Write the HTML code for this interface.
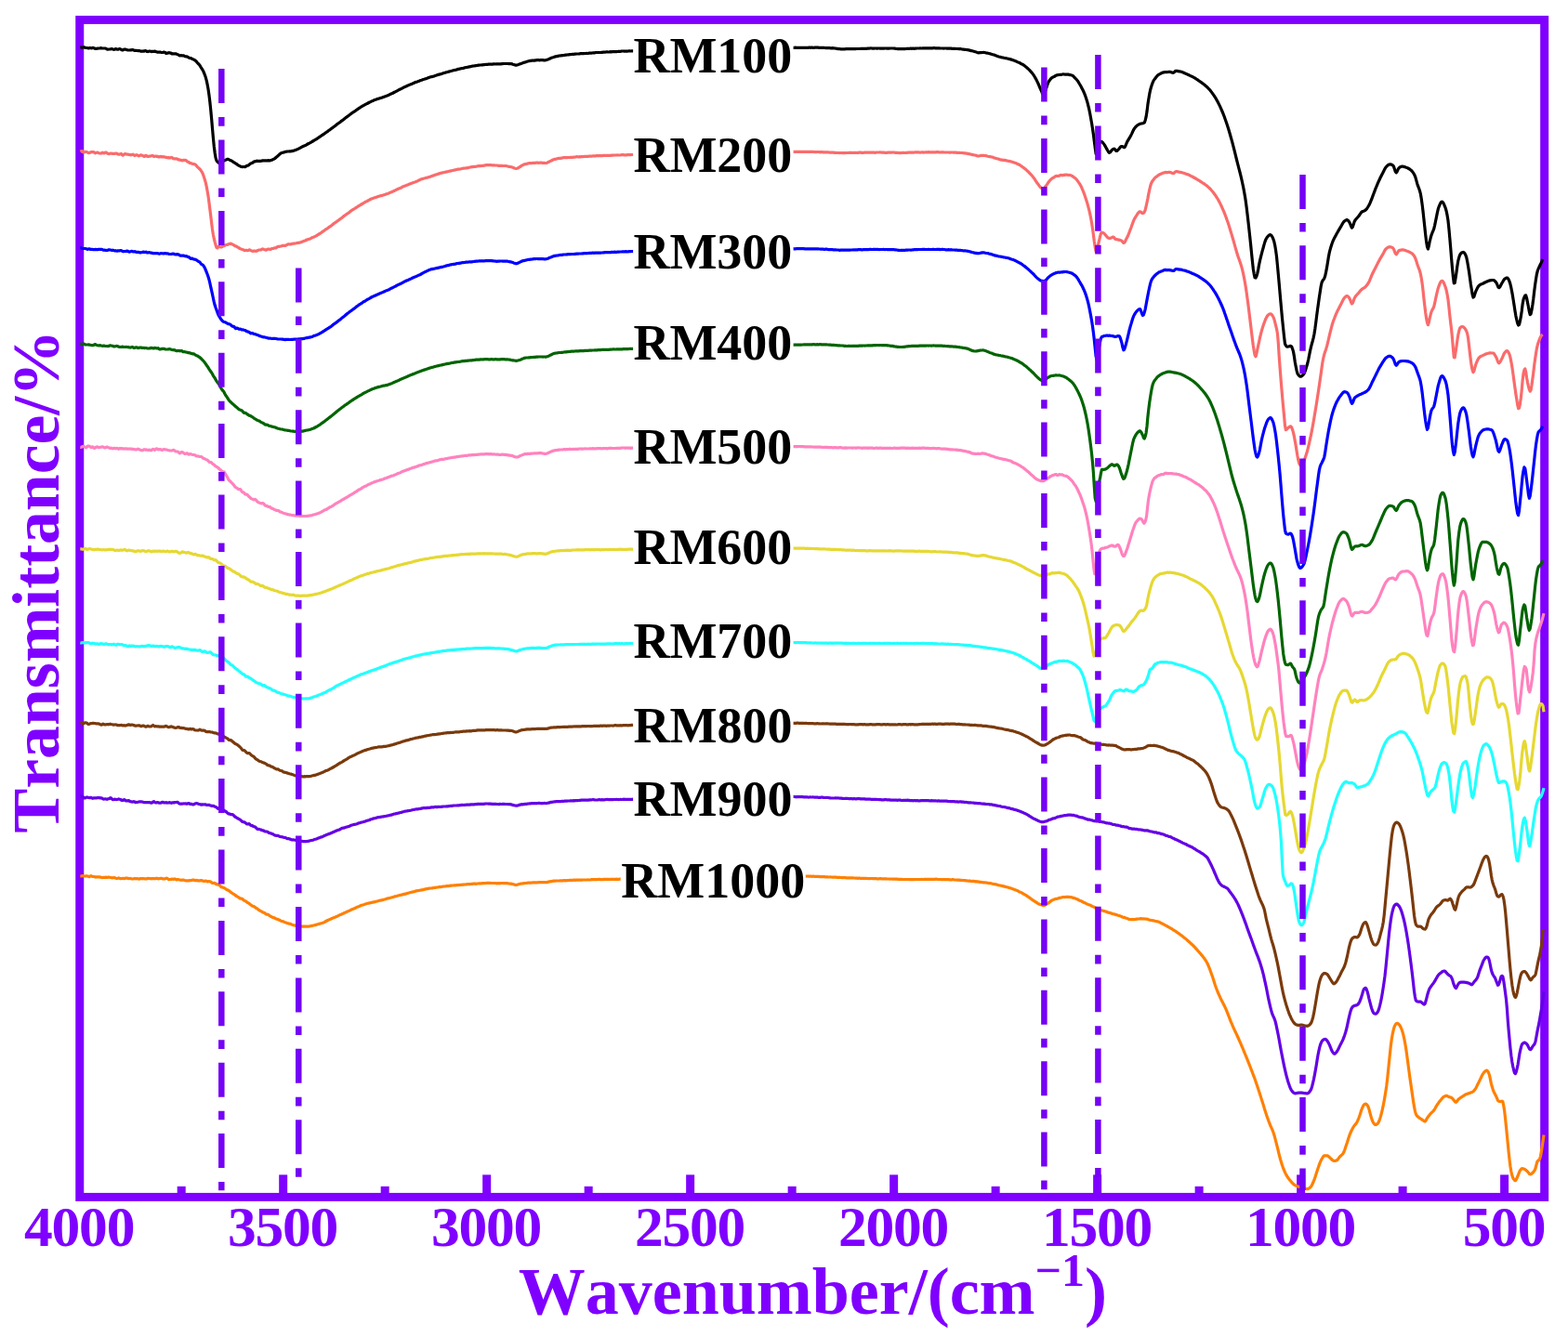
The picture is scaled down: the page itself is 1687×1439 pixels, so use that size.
<!DOCTYPE html>
<html lang="en">
<head>
<meta charset="utf-8">
<title>FTIR spectra of RM100-RM1000</title>
<style>
html,body{margin:0;padding:0;background:#fff;}
body{width:1687px;height:1439px;overflow:hidden;font-family:"Liberation Serif",serif;}
svg text{white-space:pre;font-kerning:none;font-feature-settings:'kern' 0,'liga' 0;}
</style>
</head>
<body>
<svg width="1687" height="1439" viewBox="0 0 1687 1439" style="display:block">
<rect x="0" y="0" width="1687" height="1439" fill="#fff"/>
<rect x="85.75" y="21.4" width="1575.9" height="1267.0" fill="none" stroke="#7F00FF" stroke-width="9.0"/>
<rect x="190.6925" y="1276.9" width="9.0" height="8.0" fill="#7F00FF"/>
<rect x="300.185" y="1264.4" width="9.0" height="20.5" fill="#7F00FF"/>
<rect x="409.6775" y="1276.9" width="9.0" height="8.0" fill="#7F00FF"/>
<rect x="519.1700000000001" y="1264.4" width="9.0" height="20.5" fill="#7F00FF"/>
<rect x="628.6625" y="1276.9" width="9.0" height="8.0" fill="#7F00FF"/>
<rect x="738.1550000000001" y="1264.4" width="9.0" height="20.5" fill="#7F00FF"/>
<rect x="847.6475" y="1276.9" width="9.0" height="8.0" fill="#7F00FF"/>
<rect x="957.1400000000001" y="1264.4" width="9.0" height="20.5" fill="#7F00FF"/>
<rect x="1066.6325" y="1276.9" width="9.0" height="8.0" fill="#7F00FF"/>
<rect x="1176.125" y="1264.4" width="9.0" height="20.5" fill="#7F00FF"/>
<rect x="1285.6175" y="1276.9" width="9.0" height="8.0" fill="#7F00FF"/>
<rect x="1395.1100000000001" y="1264.4" width="9.0" height="20.5" fill="#7F00FF"/>
<rect x="1504.6025000000002" y="1276.9" width="9.0" height="8.0" fill="#7F00FF"/>
<rect x="1614.095" y="1264.4" width="9.0" height="20.5" fill="#7F00FF"/>
<path d="M86.3 51.3L87.2 51.1L88.1 51.1L89.0 51.2L89.9 50.9L90.8 50.9L91.7 51.4L92.6 51.5L93.5 51.5L94.4 51.7L95.3 52.0L96.2 51.7L97.1 51.6L98.0 51.8L98.9 51.8L99.8 51.4L100.7 51.5L101.6 52.1L102.5 52.4L103.4 52.3L104.3 52.3L105.2 52.1L106.1 52.0L107.0 52.0L107.9 51.8L108.8 51.7L109.7 51.9L110.6 52.0L111.5 52.0L112.4 52.0L113.3 52.0L114.2 52.4L115.1 53.0L116.0 53.2L116.9 53.0L117.8 53.0L118.7 52.9L119.6 52.7L120.5 52.6L121.4 53.0L122.3 53.3L123.2 53.2L124.1 52.7L125.0 52.7L125.9 53.1L126.8 53.2L127.7 52.9L128.6 52.5L129.5 52.7L130.4 53.4L131.3 53.9L132.2 53.9L133.1 53.3L134.0 53.1L134.9 53.1L135.8 53.4L136.7 53.7L137.6 53.9L138.5 54.0L139.4 54.0L140.3 53.8L141.2 53.8L142.1 53.7L143.0 53.6L143.9 54.1L144.8 54.4L145.7 54.3L146.6 54.4L147.5 54.5L148.4 54.6L149.3 54.6L150.2 54.7L151.1 55.0L152.0 55.3L152.9 55.1L153.8 55.0L154.7 55.2L155.6 54.8L156.5 54.6L157.4 55.0L158.3 55.5L159.2 55.6L160.1 55.3L161.0 55.0L161.9 55.3L162.8 55.6L163.7 55.4L164.6 55.3L165.5 55.3L166.4 55.2L167.3 55.3L168.2 55.8L169.1 56.1L170.0 56.1L170.9 56.1L171.8 56.1L172.7 56.2L173.6 56.4L174.5 56.5L175.4 56.4L176.3 56.0L177.2 56.2L178.1 57.0L179.0 57.5L179.9 57.2L180.8 56.9L181.7 56.7L182.6 56.8L183.5 57.0L184.4 57.5L185.3 58.0L186.2 57.9L187.1 57.8L188.0 57.8L188.9 57.8L189.8 58.1L190.7 58.5L191.6 58.8L192.5 59.3L193.4 59.8L194.3 59.8L195.2 59.6L196.1 60.0L197.0 59.9L197.9 59.9L198.8 60.6L199.7 60.8L200.6 60.8L201.5 61.1L202.4 61.5L203.3 62.1L204.2 62.5L205.1 62.6L206.0 62.9L206.9 63.5L207.8 63.9L208.7 64.3L209.6 64.7L210.5 65.4L211.4 66.3L212.3 67.5L213.2 68.5L214.1 69.3L215.0 70.4L215.9 72.0L216.8 73.4L217.7 74.8L218.6 76.3L219.5 78.4L220.4 80.8L221.3 83.3L222.2 86.7L223.1 90.9L224.0 95.8L224.9 101.9L225.8 109.3L226.7 117.9L227.6 127.5L228.5 138.1L229.4 148.4L230.3 157.7L231.2 164.8L232.1 170.1L233.0 172.8L233.9 174.1L234.8 174.8L235.7 175.7L236.6 175.7L237.5 175.1L238.4 174.5L239.3 173.8L240.2 173.2L241.1 172.9L242.0 172.5L242.9 172.1L243.8 171.7L244.7 171.3L245.6 171.4L246.5 171.9L247.4 172.3L248.3 172.8L249.2 173.1L250.1 173.6L251.0 174.4L251.9 175.0L252.8 175.4L253.7 176.0L254.6 176.6L255.5 177.3L256.4 177.9L257.3 178.4L258.2 178.8L259.1 179.2L260.0 179.5L260.9 179.6L261.8 179.5L262.7 179.5L263.6 179.7L264.5 179.2L265.4 178.4L266.3 178.2L267.2 177.9L268.1 177.2L269.0 176.4L269.9 175.9L270.8 175.6L271.7 175.3L272.6 174.5L273.5 173.9L274.4 173.8L275.3 173.6L276.2 173.2L277.1 173.3L278.0 173.3L278.9 173.3L279.8 173.3L280.7 173.3L281.6 173.1L282.5 172.9L283.4 172.8L284.3 172.8L285.2 172.9L286.1 172.8L287.0 172.8L287.9 172.8L288.8 172.7L289.7 172.8L290.6 172.8L291.5 172.5L292.4 172.3L293.3 171.8L294.2 171.4L295.1 171.0L296.0 170.4L296.9 169.5L297.8 168.8L298.7 168.1L299.6 167.2L300.5 166.3L301.4 165.5L302.3 164.9L303.2 164.5L304.1 164.3L305.0 164.1L305.9 163.7L306.8 163.4L307.7 163.3L308.6 163.1L309.5 163.0L310.4 163.0L311.3 162.9L312.2 162.9L313.1 162.8L314.0 162.6L314.9 162.4L315.8 162.2L316.7 161.9L317.6 161.6L318.5 161.2L319.4 160.9L320.3 160.5L321.2 160.1L322.1 159.6L323.0 159.1L323.9 158.7L324.8 158.2L325.7 157.7L326.6 157.3L327.5 156.9L328.4 156.6L329.3 156.1L330.2 155.5L331.1 155.0L332.0 154.5L332.9 154.1L333.8 153.6L334.7 153.1L335.6 152.5L336.5 152.0L337.4 151.5L338.3 150.9L339.2 150.4L340.1 149.8L341.0 149.3L341.9 148.7L342.8 148.1L343.7 147.4L344.6 146.8L345.5 146.3L346.4 145.6L347.3 145.0L348.2 144.5L349.1 143.9L350.0 143.1L350.9 142.5L351.8 141.9L352.7 141.3L353.6 140.6L354.5 139.9L355.4 139.3L356.3 138.6L357.2 137.9L358.1 137.3L359.0 136.6L359.9 135.9L360.8 135.3L361.7 134.6L362.6 133.8L363.5 133.1L364.4 132.5L365.3 131.9L366.2 131.2L367.1 130.4L368.0 129.8L368.9 129.2L369.8 128.5L370.7 127.7L371.6 127.0L372.5 126.3L373.4 125.7L374.3 125.0L375.2 124.4L376.1 123.6L377.0 122.9L377.9 122.2L378.8 121.6L379.7 121.0L380.6 120.4L381.5 119.8L382.4 119.3L383.3 118.6L384.2 117.9L385.1 117.3L386.0 116.7L386.9 116.1L387.8 115.5L388.7 114.9L389.6 114.4L390.5 113.8L391.4 113.4L392.3 112.9L393.2 112.4L394.1 111.9L395.0 111.5L395.9 111.0L396.8 110.5L397.7 110.0L398.6 109.6L399.5 109.1L400.4 108.7L401.3 108.4L402.2 107.9L403.1 107.6L404.0 107.3L404.9 107.0L405.9 106.6L406.8 106.3L407.7 106.1L408.6 105.8L409.5 105.5L410.4 105.2L411.3 104.9L412.2 104.6L413.1 104.2L414.0 103.9L414.9 103.6L415.8 103.3L416.7 102.9L417.6 102.6L418.5 102.1L419.4 101.6L420.3 101.2L421.2 100.8L422.1 100.5L423.0 100.0L423.9 99.5L424.8 99.0L425.7 98.6L426.6 98.1L427.5 97.7L428.4 97.2L429.3 96.7L430.2 96.2L431.1 95.8L432.0 95.4L432.9 94.9L433.8 94.4L434.7 93.9L435.6 93.5L436.5 93.1L437.4 92.7L438.3 92.3L439.2 91.9L440.1 91.5L441.0 91.1L441.9 90.7L442.8 90.4L443.7 90.1L444.6 89.6L445.5 89.2L446.4 88.8L447.3 88.4L448.2 88.2L449.1 87.9L450.0 87.5L450.9 87.2L451.8 86.8L452.7 86.5L453.6 86.3L454.5 85.9L455.4 85.5L456.3 85.3L457.2 85.0L458.1 84.7L459.0 84.4L459.9 84.1L460.8 83.7L461.7 83.3L462.6 83.1L463.5 82.8L464.4 82.6L465.3 82.4L466.2 82.2L467.1 81.9L468.0 81.6L468.9 81.3L469.8 80.9L470.7 80.6L471.6 80.4L472.5 80.1L473.4 79.9L474.3 79.7L475.2 79.4L476.1 79.1L477.0 78.8L477.9 78.5L478.8 78.2L479.7 77.9L480.6 77.7L481.5 77.5L482.4 77.2L483.3 77.1L484.2 76.8L485.1 76.5L486.0 76.3L486.9 76.0L487.8 75.7L488.7 75.5L489.6 75.4L490.5 75.2L491.4 74.9L492.3 74.6L493.2 74.4L494.1 74.2L495.0 74.1L495.9 73.8L496.8 73.6L497.7 73.5L498.6 73.4L499.5 73.1L500.4 72.8L501.3 72.6L502.2 72.5L503.1 72.3L504.0 72.1L504.9 71.9L505.8 71.7L506.7 71.6L507.6 71.3L508.5 71.1L509.4 71.0L510.3 70.9L511.2 70.8L512.1 70.6L513.0 70.5L513.9 70.3L514.8 70.2L515.7 70.1L516.6 70.0L517.5 70.0L518.4 69.8L519.3 69.8L520.2 69.7L521.1 69.6L522.0 69.5L522.9 69.4L523.8 69.4L524.7 69.3L525.6 69.2L526.5 69.2L527.4 69.2L528.3 69.2L529.2 69.2L530.1 69.1L531.0 68.9L531.9 68.9L532.8 69.0L533.7 68.9L534.6 68.8L535.5 68.8L536.4 68.8L537.3 68.8L538.2 68.8L539.1 68.8L540.0 68.7L540.9 68.6L541.8 68.5L542.7 68.5L543.6 68.5L544.5 68.5L545.4 68.5L546.3 68.5L547.2 68.6L548.1 68.6L549.0 68.6L549.9 68.7L550.8 68.8L551.7 69.2L552.6 69.5L553.5 69.8L554.4 70.1L555.3 70.2L556.2 70.0L557.1 69.8L558.0 69.4L558.9 69.0L559.8 68.7L560.7 68.4L561.6 68.1L562.5 67.8L563.4 67.4L564.3 67.1L565.2 67.0L566.1 66.6L567.0 66.2L567.9 66.0L568.8 65.8L569.7 65.6L570.6 65.4L571.5 65.3L572.4 65.1L573.3 65.1L574.2 65.1L575.1 65.1L576.0 64.9L576.9 64.8L577.8 64.7L578.7 64.7L579.6 64.7L580.5 64.8L581.4 64.7L582.3 64.6L583.2 64.6L584.1 64.7L585.0 64.8L585.9 64.8L586.8 64.8L587.7 64.6L588.6 64.3L589.5 64.0L590.4 63.6L591.3 63.2L592.2 62.8L593.1 62.4L594.0 62.0L594.9 61.8L595.8 61.5L596.7 61.1L597.6 60.9L598.5 60.7L599.4 60.6L600.3 60.4L601.2 60.1L602.1 60.0L603.0 59.9L603.9 59.8L604.8 59.7L605.7 59.6L606.6 59.5L607.5 59.3L608.4 59.2L609.3 59.1L610.2 59.0L611.1 58.9L612.0 58.8L612.9 58.7L613.8 58.6L614.7 58.5L615.6 58.4L616.5 58.3L617.4 58.3L618.3 58.2L619.2 58.1L620.1 58.0L621.0 58.0L621.9 58.0L622.8 58.0L623.7 57.8L624.6 57.7L625.5 57.7L626.4 57.7L627.3 57.7L628.2 57.6L629.1 57.5L630.0 57.5L630.9 57.4L631.8 57.5L632.7 57.4L633.6 57.2L634.5 57.1L635.4 57.1L636.3 57.1L637.2 57.0L638.1 56.9L639.0 56.9L639.9 56.8L640.8 56.6L641.7 56.5L642.6 56.5L643.5 56.5L644.4 56.5L645.3 56.5L646.2 56.5L647.1 56.4L648.0 56.3L648.9 56.2L649.8 56.2L650.7 56.2L651.6 56.0L652.5 55.9L653.4 55.9L654.3 56.0L655.2 56.0L656.1 55.8L657.0 55.7L657.9 55.8L658.8 55.7L659.7 55.7L660.6 55.6L661.5 55.6L662.4 55.6L663.3 55.6L664.2 55.5L665.1 55.4L666.0 55.4L666.9 55.3L667.8 55.3L668.7 55.1L669.6 55.0L670.5 55.0L671.4 55.1L672.3 55.1L673.2 55.1L674.1 55.1L675.0 55.1L675.9 55.0L676.8 54.9L677.7 54.9L678.6 55.0L679.5 54.9L680.4 54.9L681.3 54.8L682.2 54.8L683.1 54.7L684.0 54.6L684.9 54.6L685.8 54.5L686.7 54.4L687.6 54.4L688.5 54.5L689.4 54.4L690.3 54.4L691.2 54.5L692.1 54.4L693.0 54.4L693.9 54.4L694.8 54.4L695.7 54.3L696.6 54.3L697.5 54.3L698.4 54.3L699.3 54.3L700.2 54.2L701.1 54.2L702.0 54.3L702.9 54.2L703.8 54.1L704.7 54.1L705.6 54.1L706.5 54.0L707.4 54.0L708.3 54.0L709.2 54.0L710.1 53.9L711.0 53.8L711.9 53.8L712.8 53.8L713.7 53.8L714.6 53.8L715.5 53.7L716.4 53.7L717.3 53.7L718.2 53.7L719.1 53.7L720.0 53.7L720.9 53.6L721.8 53.5L722.7 53.6L723.6 53.6L724.5 53.6L725.4 53.4L726.3 53.4L727.2 53.4L728.1 53.4L729.0 53.3L729.9 53.3L730.8 53.3L731.7 53.4L732.6 53.3L733.5 53.2L734.4 53.0L735.3 53.1L736.2 53.2L737.1 53.2L738.0 53.1L738.9 53.1L739.8 53.0L740.7 53.0L741.6 53.0L742.5 53.0L743.4 52.9L744.3 52.9L745.2 52.9L746.1 52.9L747.0 52.8L747.9 52.9L748.8 52.9L749.7 52.8L750.6 52.7L751.5 52.7L752.4 52.7L753.3 52.7L754.2 52.7L755.1 52.6L756.0 52.6L756.9 52.6L757.8 52.5L758.7 52.5L759.6 52.5L760.5 52.5L761.4 52.5L762.3 52.5L763.2 52.4L764.1 52.3L765.0 52.4L765.9 52.4L766.8 52.3L767.7 52.3L768.6 52.3L769.5 52.2L770.4 52.2L771.3 52.3L772.2 52.3L773.1 52.2L774.0 52.1L774.9 52.2L775.8 52.2L776.7 52.1L777.6 52.1L778.5 52.1L779.4 52.2L780.3 52.1L781.2 52.0L782.1 52.0L783.0 52.1L783.9 52.1L784.8 52.1L785.7 52.1L786.6 52.0L787.5 52.0L788.4 52.0L789.3 51.9L790.2 51.8L791.1 51.8L792.0 51.9L792.9 51.9L793.8 51.9L794.7 51.9L795.6 51.8L796.5 51.7L797.4 51.7L798.3 51.8L799.2 51.8L800.1 51.8L801.0 51.8L801.9 51.7L802.8 51.7L803.7 51.7L804.6 51.8L805.5 51.8L806.4 51.8L807.3 51.6L808.2 51.6L809.1 51.6L810.0 51.7L810.9 51.7L811.8 51.7L812.7 51.6L813.6 51.6L814.5 51.5L815.4 51.5L816.3 51.5L817.2 51.5L818.1 51.5L819.0 51.6L819.9 51.6L820.8 51.6L821.7 51.5L822.6 51.4L823.5 51.4L824.4 51.3L825.3 51.3L826.2 51.4L827.1 51.4L828.0 51.3L828.9 51.2L829.8 51.3L830.7 51.4L831.6 51.4L832.5 51.3L833.4 51.3L834.3 51.3L835.2 51.3L836.1 51.3L837.0 51.3L837.9 51.3L838.8 51.4L839.7 51.3L840.6 51.2L841.5 51.2L842.4 51.2L843.3 51.3L844.2 51.3L845.1 51.3L846.0 51.3L846.9 51.3L847.8 51.2L848.7 51.2L849.6 51.3L850.5 51.4L851.4 51.4L852.3 51.4L853.2 51.3L854.1 51.3L855.0 51.3L855.9 51.2L856.8 51.3L857.7 51.4L858.6 51.3L859.5 51.3L860.4 51.3L861.3 51.3L862.2 51.3L863.1 51.4L864.0 51.3L864.9 51.3L865.8 51.3L866.7 51.3L867.6 51.3L868.5 51.3L869.4 51.3L870.3 51.2L871.2 51.2L872.1 51.3L873.0 51.2L873.9 51.2L874.8 51.3L875.7 51.3L876.6 51.2L877.5 51.2L878.4 51.2L879.3 51.1L880.2 51.2L881.1 51.3L882.0 51.3L882.9 51.3L883.8 51.3L884.7 51.3L885.6 51.3L886.5 51.4L887.4 51.5L888.3 51.6L889.2 51.6L890.1 51.6L891.0 51.6L891.9 51.6L892.8 51.7L893.7 51.8L894.6 51.8L895.5 51.7L896.4 51.8L897.3 51.9L898.2 52.0L899.1 52.1L900.0 52.3L900.9 52.4L901.8 52.6L902.7 52.6L903.6 52.7L904.5 52.8L905.4 52.8L906.3 52.8L907.2 52.8L908.1 52.9L909.0 52.8L909.9 52.7L910.8 52.7L911.7 52.7L912.6 52.7L913.5 52.7L914.4 52.7L915.3 52.6L916.2 52.7L917.1 52.7L918.0 52.7L918.9 52.6L919.8 52.6L920.7 52.6L921.6 52.5L922.5 52.5L923.4 52.5L924.3 52.5L925.2 52.5L926.1 52.4L927.0 52.3L927.9 52.3L928.8 52.3L929.7 52.3L930.6 52.3L931.5 52.3L932.4 52.3L933.3 52.2L934.2 52.1L935.1 52.1L936.0 52.0L936.9 51.9L937.8 52.0L938.7 52.1L939.6 52.1L940.5 52.1L941.4 52.0L942.3 52.0L943.2 52.1L944.1 52.1L945.0 52.0L945.9 52.0L946.8 52.1L947.7 52.1L948.6 52.1L949.5 52.1L950.4 52.1L951.3 52.1L952.2 52.0L953.1 52.0L954.0 52.1L954.9 52.1L955.8 52.1L956.7 52.1L957.6 52.0L958.5 52.0L959.4 52.0L960.3 52.0L961.2 52.0L962.1 52.1L963.0 52.2L963.9 52.4L964.8 52.5L965.7 52.6L966.6 52.6L967.5 52.7L968.4 52.7L969.3 52.7L970.2 52.7L971.1 52.7L972.0 52.7L972.9 52.6L973.8 52.6L974.7 52.5L975.6 52.4L976.5 52.4L977.4 52.4L978.3 52.4L979.2 52.2L980.1 52.2L981.0 52.3L981.9 52.2L982.8 52.2L983.7 52.3L984.6 52.2L985.5 52.1L986.4 52.0L987.3 52.0L988.2 52.0L989.1 52.0L990.0 51.9L990.9 52.0L991.8 52.0L992.7 51.9L993.6 51.9L994.5 51.9L995.4 51.9L996.3 51.8L997.2 51.8L998.1 51.8L999.0 51.8L999.9 51.8L1000.8 51.9L1001.7 51.9L1002.6 51.8L1003.5 51.8L1004.4 51.7L1005.3 51.7L1006.2 51.8L1007.1 51.9L1008.0 51.9L1008.9 51.9L1009.8 51.9L1010.7 51.9L1011.6 52.0L1012.5 52.0L1013.4 52.0L1014.3 52.0L1015.2 52.1L1016.1 52.0L1017.0 52.0L1017.9 52.0L1018.8 52.1L1019.7 52.1L1020.6 52.2L1021.5 52.2L1022.4 52.2L1023.3 52.2L1024.2 52.3L1025.1 52.4L1026.0 52.3L1026.9 52.3L1027.8 52.4L1028.7 52.5L1029.6 52.5L1030.5 52.5L1031.4 52.6L1032.3 52.6L1033.2 52.6L1034.1 52.8L1035.0 53.0L1035.9 53.1L1036.8 53.2L1037.7 53.3L1038.6 53.4L1039.5 53.5L1040.4 53.6L1041.3 53.7L1042.2 53.9L1043.1 54.1L1044.0 54.4L1044.9 54.6L1045.8 54.8L1046.7 55.0L1047.6 55.2L1048.5 55.5L1049.4 55.8L1050.3 56.0L1051.2 56.4L1052.1 56.7L1053.0 56.8L1053.9 56.7L1054.8 56.6L1055.7 56.6L1056.6 56.5L1057.5 56.5L1058.4 56.4L1059.3 56.5L1060.2 56.7L1061.1 57.0L1062.0 57.1L1062.9 57.3L1063.8 57.5L1064.7 57.7L1065.6 57.9L1066.6 58.3L1067.5 58.6L1068.4 58.8L1069.3 59.0L1070.2 59.3L1071.1 59.7L1072.0 60.0L1072.9 60.4L1073.8 60.7L1074.7 61.0L1075.6 61.2L1076.5 61.4L1077.4 61.7L1078.3 61.9L1079.2 62.0L1080.1 62.3L1081.0 62.5L1081.9 62.6L1082.8 62.8L1083.7 63.0L1084.6 63.2L1085.5 63.4L1086.4 63.6L1087.3 63.9L1088.2 64.1L1089.1 64.4L1090.0 64.7L1090.9 65.1L1091.8 65.4L1092.7 65.7L1093.6 66.1L1094.5 66.6L1095.4 67.0L1096.3 67.3L1097.2 67.7L1098.1 68.3L1099.0 68.8L1099.9 69.2L1100.8 69.7L1101.7 70.3L1102.6 71.0L1103.5 71.7L1104.4 72.4L1105.3 73.3L1106.2 74.1L1107.1 74.9L1108.0 75.8L1108.9 76.9L1109.8 77.8L1110.7 78.9L1111.6 80.1L1112.5 81.5L1113.4 83.0L1114.3 84.6L1115.2 86.3L1116.1 88.1L1117.0 90.0L1117.9 92.1L1118.8 94.3L1119.7 96.3L1120.6 98.2L1121.5 100.6L1122.4 102.2L1123.3 101.6L1124.2 99.2L1125.1 96.5L1126.0 94.0L1126.9 91.1L1127.8 88.8L1128.7 87.2L1129.6 86.0L1130.5 84.8L1131.4 83.9L1132.3 83.3L1133.2 82.8L1134.1 82.5L1135.0 82.0L1135.9 81.3L1136.8 80.8L1137.7 80.8L1138.6 80.6L1139.5 80.5L1140.4 80.4L1141.3 80.4L1142.2 80.2L1143.1 80.0L1144.0 79.9L1144.9 80.0L1145.8 80.1L1146.7 80.1L1147.6 80.1L1148.5 80.0L1149.4 80.1L1150.3 80.4L1151.2 80.6L1152.1 80.8L1153.0 81.0L1153.9 81.2L1154.8 82.0L1155.7 83.0L1156.6 83.9L1157.5 84.8L1158.4 85.8L1159.3 86.9L1160.2 88.2L1161.1 89.8L1162.0 91.3L1162.9 92.8L1163.8 94.6L1164.7 96.2L1165.6 98.0L1166.5 100.1L1167.4 102.3L1168.3 104.9L1169.2 107.8L1170.1 110.8L1171.0 114.3L1171.9 118.2L1172.8 122.7L1173.7 127.7L1174.6 132.8L1175.5 138.4L1176.4 144.8L1177.3 151.8L1178.2 158.8L1179.1 165.5L1180.0 165.3L1180.9 160.2L1181.8 156.1L1182.7 154.4L1183.6 153.0L1184.5 152.3L1185.4 152.6L1186.3 153.3L1187.2 154.4L1188.1 155.6L1189.0 157.1L1189.9 158.7L1190.8 160.4L1191.7 162.0L1192.6 163.5L1193.5 164.4L1194.4 163.9L1195.3 162.8L1196.2 161.6L1197.1 160.8L1198.0 160.3L1198.9 160.2L1199.8 161.1L1200.7 162.4L1201.6 162.5L1202.5 161.8L1203.4 160.8L1204.3 159.7L1205.2 158.5L1206.1 157.5L1207.0 157.5L1207.9 157.9L1208.8 158.4L1209.7 158.7L1210.6 157.7L1211.5 155.5L1212.4 153.3L1213.3 151.6L1214.2 150.1L1215.1 148.6L1216.0 147.1L1216.9 145.4L1217.8 143.6L1218.7 141.6L1219.6 139.7L1220.5 138.3L1221.4 137.1L1222.3 136.1L1223.2 135.3L1224.1 134.6L1225.0 134.1L1225.9 133.6L1226.8 133.3L1227.7 133.0L1228.6 132.9L1229.5 132.7L1230.4 132.4L1231.3 131.9L1232.2 129.5L1233.1 125.7L1234.0 120.1L1234.9 112.6L1235.8 106.7L1236.7 101.4L1237.6 97.0L1238.5 93.8L1239.4 91.0L1240.3 88.6L1241.2 86.6L1242.1 85.4L1243.0 84.2L1243.9 83.0L1244.8 81.9L1245.7 81.0L1246.6 80.3L1247.5 79.8L1248.4 79.4L1249.3 78.8L1250.2 78.3L1251.1 78.1L1252.0 77.9L1252.9 77.7L1253.8 77.6L1254.7 77.6L1255.6 77.6L1256.5 77.5L1257.4 77.4L1258.3 77.3L1259.2 77.4L1260.1 77.7L1261.0 78.1L1261.9 78.3L1262.8 78.2L1263.7 77.3L1264.6 76.4L1265.5 76.4L1266.4 76.4L1267.3 76.6L1268.2 76.8L1269.1 76.9L1270.0 77.0L1270.9 77.3L1271.8 77.6L1272.7 77.9L1273.6 78.3L1274.5 78.7L1275.4 79.1L1276.3 79.5L1277.2 79.8L1278.1 80.3L1279.0 80.7L1279.9 81.1L1280.8 81.6L1281.7 82.0L1282.6 82.4L1283.5 82.9L1284.4 83.4L1285.3 83.8L1286.2 84.4L1287.1 85.1L1288.0 85.6L1288.9 86.2L1289.8 86.9L1290.7 87.5L1291.6 88.1L1292.5 88.7L1293.4 89.4L1294.3 90.1L1295.2 90.8L1296.1 91.5L1297.0 92.3L1297.9 93.0L1298.8 93.8L1299.7 94.7L1300.6 95.7L1301.5 96.6L1302.4 97.7L1303.3 98.9L1304.2 100.1L1305.1 101.4L1306.0 102.7L1306.9 104.0L1307.8 105.4L1308.7 107.0L1309.6 108.6L1310.5 110.3L1311.4 112.1L1312.3 113.9L1313.2 115.9L1314.1 117.9L1315.0 120.0L1315.9 122.2L1316.8 124.5L1317.7 126.9L1318.6 129.5L1319.5 132.1L1320.4 134.8L1321.3 137.6L1322.2 140.5L1323.1 143.5L1324.0 146.7L1324.9 149.9L1325.8 153.2L1326.7 156.6L1327.6 160.1L1328.5 163.7L1329.4 167.4L1330.3 171.0L1331.2 174.7L1332.1 178.2L1333.0 181.6L1333.9 185.0L1334.8 188.6L1335.7 192.4L1336.6 196.5L1337.5 200.7L1338.4 205.4L1339.3 210.4L1340.2 216.1L1341.1 222.8L1342.0 230.3L1342.9 238.0L1343.8 246.1L1344.7 254.3L1345.6 263.0L1346.5 272.2L1347.4 280.9L1348.3 289.2L1349.2 294.8L1350.1 298.8L1351.0 299.1L1351.9 297.2L1352.8 294.4L1353.7 290.1L1354.6 285.0L1355.5 280.7L1356.4 276.9L1357.3 273.3L1358.2 269.9L1359.1 266.7L1360.0 263.4L1360.9 260.4L1361.8 257.9L1362.7 256.2L1363.6 255.1L1364.5 254.0L1365.4 253.2L1366.3 252.7L1367.2 252.8L1368.1 253.7L1369.0 255.2L1369.9 257.3L1370.8 260.0L1371.7 264.1L1372.6 269.5L1373.5 276.1L1374.4 285.3L1375.3 295.1L1376.2 305.2L1377.1 315.6L1378.0 325.8L1378.9 335.9L1379.8 345.3L1380.7 354.2L1381.6 362.6L1382.5 370.0L1383.4 371.8L1384.3 372.9L1385.2 373.2L1386.1 373.0L1387.0 372.7L1387.9 372.4L1388.8 372.3L1389.7 373.2L1390.6 375.5L1391.5 378.4L1392.4 383.5L1393.3 389.7L1394.2 394.5L1395.1 398.9L1396.0 402.1L1396.9 403.5L1397.8 404.5L1398.7 405.1L1399.6 405.2L1400.5 404.8L1401.4 404.1L1402.3 403.1L1403.2 401.8L1404.1 399.7L1405.0 397.1L1405.9 394.1L1406.8 391.0L1407.7 387.0L1408.6 382.5L1409.5 377.9L1410.4 373.8L1411.3 370.4L1412.2 367.2L1413.1 363.6L1414.0 359.2L1414.9 353.4L1415.8 346.6L1416.7 339.4L1417.6 332.6L1418.5 326.2L1419.4 319.8L1420.3 313.9L1421.2 308.1L1422.1 304.0L1423.0 302.1L1423.9 301.0L1424.8 299.6L1425.7 297.0L1426.6 292.9L1427.5 288.1L1428.4 282.8L1429.3 276.9L1430.2 272.2L1431.1 268.6L1432.0 265.5L1432.9 262.7L1433.8 260.2L1434.7 258.1L1435.6 256.2L1436.5 254.6L1437.4 253.0L1438.3 251.3L1439.2 249.7L1440.1 248.1L1441.0 246.6L1441.9 245.1L1442.8 243.6L1443.7 242.0L1444.6 240.4L1445.5 239.0L1446.4 238.1L1447.3 237.4L1448.2 236.9L1449.1 236.6L1450.0 236.9L1450.9 237.8L1451.8 239.2L1452.7 240.9L1453.6 243.5L1454.5 245.1L1455.4 244.1L1456.3 241.3L1457.2 238.5L1458.1 236.9L1459.0 235.7L1459.9 234.8L1460.8 233.8L1461.7 232.8L1462.6 231.5L1463.5 230.1L1464.4 228.8L1465.3 228.0L1466.2 227.5L1467.1 227.2L1468.0 226.8L1468.9 226.3L1469.8 225.5L1470.7 224.4L1471.6 223.0L1472.5 221.5L1473.4 219.9L1474.3 217.9L1475.2 215.6L1476.1 213.3L1477.0 210.9L1477.9 208.5L1478.8 206.1L1479.7 203.7L1480.6 201.5L1481.5 199.3L1482.4 197.1L1483.3 195.1L1484.2 193.2L1485.1 191.3L1486.0 189.5L1486.9 187.7L1487.8 186.0L1488.7 184.2L1489.6 182.4L1490.5 180.8L1491.4 179.6L1492.3 178.7L1493.2 177.8L1494.1 177.2L1495.0 176.9L1495.9 176.9L1496.8 177.1L1497.7 177.4L1498.6 178.0L1499.5 179.2L1500.4 181.9L1501.3 184.7L1502.2 185.9L1503.1 184.7L1504.0 182.6L1504.9 180.9L1505.8 180.2L1506.7 179.7L1507.6 179.3L1508.5 179.1L1509.4 179.2L1510.3 179.4L1511.2 179.6L1512.1 179.9L1513.0 180.3L1513.9 180.6L1514.8 181.0L1515.7 181.5L1516.6 182.0L1517.5 182.7L1518.4 183.4L1519.3 184.4L1520.2 185.5L1521.1 186.9L1522.0 188.6L1522.9 190.9L1523.8 194.1L1524.7 197.4L1525.6 200.2L1526.5 202.5L1527.4 205.0L1528.3 208.3L1529.2 213.5L1530.1 219.9L1531.0 227.3L1531.9 235.7L1532.8 244.0L1533.7 252.6L1534.6 259.9L1535.5 265.4L1536.4 268.1L1537.3 264.7L1538.2 259.8L1539.1 256.3L1540.0 253.1L1540.9 250.7L1541.8 248.7L1542.7 246.3L1543.6 242.6L1544.5 238.2L1545.4 233.9L1546.3 229.4L1547.2 225.3L1548.1 222.6L1549.0 220.4L1549.9 218.5L1550.8 217.3L1551.7 217.2L1552.6 218.1L1553.5 219.8L1554.4 221.9L1555.3 224.3L1556.2 227.5L1557.1 231.9L1558.0 237.6L1558.9 246.1L1559.8 256.2L1560.7 266.6L1561.6 278.1L1562.5 288.6L1563.4 297.7L1564.3 304.9L1565.2 304.4L1566.1 298.9L1567.0 293.0L1567.9 286.3L1568.8 280.7L1569.7 277.3L1570.6 274.6L1571.5 273.0L1572.4 272.2L1573.3 271.7L1574.2 271.4L1575.1 271.7L1576.0 272.9L1576.9 274.6L1577.8 277.1L1578.7 281.5L1579.6 286.8L1580.5 292.3L1581.4 298.8L1582.3 305.4L1583.2 311.0L1584.1 316.8L1585.0 320.0L1585.9 319.2L1586.8 316.4L1587.7 313.8L1588.6 311.9L1589.5 310.0L1590.4 308.4L1591.3 307.3L1592.2 306.7L1593.1 306.2L1594.0 305.7L1594.9 305.4L1595.8 305.0L1596.7 304.5L1597.6 304.0L1598.5 303.6L1599.4 303.2L1600.3 302.8L1601.2 302.4L1602.1 302.1L1603.0 301.9L1603.9 301.7L1604.8 301.6L1605.7 301.5L1606.6 301.5L1607.5 301.8L1608.4 302.6L1609.3 303.5L1610.2 304.8L1611.1 307.0L1612.0 309.1L1612.9 309.7L1613.8 308.7L1614.7 307.0L1615.6 305.3L1616.5 303.8L1617.4 302.2L1618.3 300.8L1619.2 300.0L1620.1 299.4L1621.0 299.0L1621.9 299.1L1622.8 300.3L1623.7 302.1L1624.6 304.6L1625.5 308.2L1626.4 312.5L1627.3 317.4L1628.2 323.1L1629.1 328.7L1630.0 334.7L1630.9 340.1L1631.8 344.2L1632.7 347.8L1633.6 350.0L1634.5 349.4L1635.4 345.7L1636.3 340.9L1637.2 334.9L1638.1 327.5L1639.0 322.6L1639.9 319.9L1640.8 318.1L1641.7 317.9L1642.6 320.9L1643.5 325.6L1644.4 330.0L1645.3 335.2L1646.2 338.7L1647.1 337.8L1648.0 333.4L1648.9 328.0L1649.8 321.4L1650.7 313.5L1651.6 306.6L1652.5 300.4L1653.4 295.0L1654.3 291.5L1655.2 289.2L1656.1 287.2L1657.0 285.3L1657.9 283.4L1658.8 281.3L1659.7 279.0" fill="none" stroke="#000000" stroke-width="3.2" stroke-linejoin="round" stroke-linecap="butt"/>
<path d="M86.3 163.1L87.2 162.7L88.1 162.4L89.0 163.4L89.9 164.1L90.8 163.6L91.7 163.4L92.6 163.5L93.5 163.6L94.4 164.1L95.3 164.6L96.2 164.5L97.1 164.0L98.0 163.7L98.9 163.7L99.8 163.5L100.7 163.5L101.6 164.2L102.5 164.8L103.4 164.5L104.3 164.2L105.2 164.2L106.1 164.7L107.0 165.0L107.9 165.0L108.8 165.1L109.7 164.4L110.6 164.2L111.5 164.9L112.4 164.8L113.3 164.1L114.2 164.0L115.1 164.8L116.0 165.3L116.9 165.6L117.8 165.5L118.7 165.1L119.6 165.1L120.5 165.3L121.4 165.3L122.3 165.4L123.2 165.4L124.1 165.2L125.0 165.1L125.9 165.3L126.8 165.9L127.7 166.1L128.6 166.2L129.5 165.7L130.4 165.4L131.3 166.6L132.2 167.2L133.1 166.4L134.0 165.8L134.9 165.6L135.8 165.9L136.7 166.2L137.6 166.2L138.5 166.3L139.4 166.6L140.3 166.7L141.2 166.8L142.1 166.5L143.0 166.2L143.9 166.8L144.8 167.5L145.7 167.1L146.6 166.7L147.5 166.9L148.4 167.3L149.3 167.8L150.2 167.6L151.1 166.9L152.0 166.9L152.9 167.2L153.8 167.6L154.7 168.3L155.6 168.3L156.5 167.4L157.4 167.4L158.3 168.3L159.2 168.5L160.1 168.2L161.0 168.1L161.9 168.1L162.8 167.8L163.7 167.4L164.6 167.7L165.5 168.3L166.4 168.3L167.3 168.1L168.2 168.3L169.1 168.2L170.0 168.5L170.9 169.0L171.8 169.0L172.7 168.4L173.6 168.5L174.5 169.0L175.4 168.8L176.3 168.7L177.2 169.0L178.1 169.3L179.0 169.4L179.9 169.6L180.8 169.8L181.7 169.7L182.6 169.8L183.5 169.8L184.4 169.4L185.3 169.8L186.2 170.6L187.1 170.8L188.0 170.8L188.9 170.8L189.8 170.9L190.7 171.1L191.6 171.5L192.5 172.0L193.4 172.1L194.3 172.2L195.2 172.6L196.1 172.8L197.0 172.3L197.9 172.3L198.8 172.5L199.7 172.4L200.6 173.0L201.5 173.9L202.4 174.2L203.3 174.7L204.2 175.5L205.1 175.6L206.0 175.8L206.9 176.3L207.8 176.5L208.7 176.6L209.6 176.8L210.5 177.3L211.4 178.4L212.3 179.6L213.2 180.4L214.1 181.2L215.0 182.0L215.9 183.1L216.8 184.5L217.7 185.9L218.6 188.0L219.5 190.8L220.4 193.5L221.3 196.6L222.2 200.7L223.1 205.6L224.0 210.9L224.9 217.5L225.8 224.7L226.7 232.0L227.6 239.6L228.5 246.9L229.4 252.6L230.3 257.0L231.2 260.6L232.1 263.7L233.0 266.4L233.9 267.0L234.8 265.7L235.7 265.1L236.6 265.6L237.5 266.0L238.4 265.9L239.3 265.3L240.2 264.7L241.1 264.6L242.0 264.2L242.9 263.5L243.8 263.5L244.7 263.4L245.6 262.8L246.5 262.7L247.4 262.4L248.3 262.1L249.2 262.6L250.1 263.1L251.0 263.4L251.9 264.0L252.8 264.7L253.7 264.9L254.6 265.3L255.5 265.9L256.4 266.5L257.3 267.0L258.2 267.5L259.1 267.9L260.0 268.2L260.9 268.5L261.8 268.7L262.7 269.4L263.6 269.6L264.5 269.3L265.4 269.4L266.3 269.7L267.2 269.4L268.1 268.9L269.0 269.1L269.9 269.6L270.8 270.0L271.7 270.4L272.6 270.2L273.5 270.2L274.4 270.2L275.3 270.3L276.2 270.2L277.1 269.6L278.0 269.3L278.9 269.0L279.8 269.0L280.7 269.0L281.6 268.3L282.5 267.8L283.4 268.3L284.3 268.6L285.2 268.8L286.1 269.2L287.0 268.8L287.9 268.2L288.8 268.0L289.7 268.1L290.6 268.5L291.5 268.2L292.4 267.5L293.3 267.5L294.2 267.4L295.1 266.9L296.0 266.9L296.9 266.8L297.8 266.2L298.7 265.6L299.6 265.4L300.5 265.3L301.4 265.1L302.3 265.0L303.2 264.7L304.1 264.3L305.0 264.4L305.9 264.4L306.8 264.4L307.7 264.1L308.6 263.5L309.5 263.1L310.4 262.8L311.3 262.8L312.2 262.9L313.1 262.8L314.0 262.5L314.9 262.2L315.8 262.0L316.7 262.1L317.6 262.0L318.5 261.8L319.4 261.6L320.3 261.3L321.2 261.3L322.1 261.2L323.0 260.9L323.9 260.7L324.8 260.3L325.7 259.9L326.6 259.6L327.5 259.3L328.4 259.0L329.3 258.5L330.2 258.0L331.1 257.7L332.0 257.4L332.9 257.2L333.8 256.9L334.7 256.4L335.6 255.8L336.5 255.5L337.4 255.2L338.3 254.8L339.2 254.4L340.1 253.9L341.0 253.3L341.9 252.7L342.8 252.3L343.7 251.7L344.6 251.1L345.5 250.5L346.4 249.8L347.3 249.2L348.2 248.6L349.1 247.9L350.0 247.2L350.9 246.7L351.8 246.1L352.7 245.5L353.6 244.8L354.5 244.2L355.4 243.7L356.3 243.0L357.2 242.3L358.1 241.5L359.0 240.7L359.9 240.1L360.8 239.5L361.7 238.9L362.6 238.2L363.5 237.6L364.4 236.9L365.3 236.2L366.2 235.6L367.1 234.9L368.0 234.2L368.9 233.5L369.8 232.7L370.7 232.1L371.6 231.4L372.5 230.8L373.4 230.1L374.3 229.6L375.2 229.0L376.1 228.2L377.0 227.4L377.9 226.8L378.8 226.2L379.7 225.6L380.6 225.1L381.5 224.6L382.4 223.9L383.3 223.3L384.2 222.8L385.1 222.2L386.0 221.6L386.9 221.1L387.8 220.5L388.7 220.0L389.6 219.5L390.5 219.0L391.4 218.4L392.3 217.9L393.2 217.3L394.1 216.9L395.0 216.5L395.9 216.0L396.8 215.4L397.7 215.0L398.6 214.5L399.5 214.0L400.4 213.7L401.3 213.4L402.2 213.1L403.1 212.8L404.0 212.6L404.9 212.2L405.9 211.9L406.8 211.5L407.7 211.2L408.6 210.9L409.5 210.7L410.4 210.6L411.3 210.4L412.2 210.0L413.1 209.7L414.0 209.5L414.9 209.1L415.8 208.8L416.7 208.6L417.6 208.3L418.5 207.9L419.4 207.4L420.3 207.0L421.2 206.7L422.1 206.3L423.0 205.9L423.9 205.5L424.8 205.0L425.7 204.6L426.6 204.1L427.5 203.7L428.4 203.3L429.3 202.9L430.2 202.6L431.1 202.3L432.0 201.8L432.9 201.2L433.8 200.7L434.7 200.4L435.6 200.1L436.5 199.7L437.4 199.4L438.3 199.0L439.2 198.7L440.1 198.3L441.0 197.9L441.9 197.6L442.8 197.2L443.7 196.9L444.6 196.5L445.5 196.2L446.4 196.0L447.3 195.6L448.2 195.2L449.1 194.9L450.0 194.4L450.9 194.0L451.8 193.5L452.7 193.1L453.6 192.8L454.5 192.5L455.4 192.2L456.3 192.0L457.2 191.8L458.1 191.5L459.0 191.3L459.9 191.1L460.8 190.8L461.7 190.5L462.6 190.2L463.5 189.9L464.4 189.6L465.3 189.2L466.2 188.9L467.1 188.7L468.0 188.3L468.9 188.0L469.8 187.7L470.7 187.4L471.6 187.1L472.5 186.9L473.4 186.6L474.3 186.3L475.2 186.1L476.1 185.9L477.0 185.7L477.9 185.5L478.8 185.3L479.7 185.1L480.6 184.9L481.5 184.7L482.4 184.5L483.3 184.3L484.2 184.1L485.1 183.9L486.0 183.7L486.9 183.5L487.8 183.3L488.7 183.1L489.6 182.9L490.5 182.7L491.4 182.4L492.3 182.2L493.2 182.2L494.1 182.1L495.0 182.0L495.9 181.8L496.8 181.5L497.7 181.3L498.6 181.2L499.5 181.1L500.4 181.0L501.3 180.9L502.2 180.8L503.1 180.7L504.0 180.4L504.9 180.2L505.8 180.0L506.7 179.8L507.6 179.7L508.5 179.6L509.4 179.4L510.3 179.4L511.2 179.4L512.1 179.2L513.0 179.0L513.9 178.8L514.8 178.7L515.7 178.7L516.6 178.6L517.5 178.5L518.4 178.4L519.3 178.3L520.2 178.3L521.1 178.1L522.0 177.9L522.9 177.7L523.8 177.6L524.7 177.7L525.6 177.7L526.5 177.6L527.4 177.6L528.3 177.6L529.2 177.8L530.1 177.9L531.0 177.9L531.9 177.9L532.8 178.0L533.7 178.0L534.6 178.0L535.5 178.2L536.4 178.3L537.3 178.3L538.2 178.3L539.1 178.3L540.0 178.4L540.9 178.5L541.8 178.5L542.7 178.5L543.6 178.5L544.5 178.6L545.4 178.8L546.3 179.0L547.2 179.3L548.1 179.4L549.0 179.5L549.9 179.7L550.8 179.9L551.7 180.2L552.6 180.6L553.5 181.0L554.4 181.3L555.3 181.5L556.2 181.3L557.1 181.0L558.0 180.5L558.9 179.9L559.8 179.3L560.7 178.7L561.6 178.1L562.5 177.6L563.4 177.2L564.3 176.8L565.2 176.7L566.1 176.6L567.0 176.2L567.9 175.9L568.8 175.8L569.7 175.6L570.6 175.6L571.5 175.6L572.4 175.5L573.3 175.4L574.2 175.3L575.1 175.3L576.0 175.3L576.9 175.2L577.8 175.1L578.7 175.2L579.6 175.3L580.5 175.2L581.4 175.0L582.3 175.1L583.2 175.3L584.1 175.4L585.0 175.4L585.9 175.4L586.8 175.5L587.7 175.5L588.6 175.2L589.5 174.7L590.4 174.3L591.3 173.8L592.2 173.4L593.1 173.0L594.0 172.5L594.9 172.0L595.8 171.6L596.7 171.4L597.6 171.3L598.5 171.1L599.4 170.8L600.3 170.6L601.2 170.4L602.1 170.4L603.0 170.3L603.9 170.2L604.8 170.1L605.7 169.8L606.6 169.6L607.5 169.6L608.4 169.5L609.3 169.6L610.2 169.6L611.1 169.5L612.0 169.5L612.9 169.5L613.8 169.4L614.7 169.3L615.6 169.3L616.5 169.3L617.4 169.1L618.3 169.1L619.2 169.0L620.1 168.7L621.0 168.7L621.9 168.9L622.8 168.8L623.7 168.7L624.6 168.8L625.5 168.7L626.4 168.6L627.3 168.6L628.2 168.5L629.1 168.3L630.0 168.4L630.9 168.4L631.8 168.3L632.7 168.3L633.6 168.2L634.5 168.1L635.4 168.2L636.3 168.2L637.2 168.0L638.1 167.8L639.0 167.8L639.9 167.9L640.8 167.8L641.7 167.7L642.6 167.7L643.5 167.7L644.4 167.7L645.3 167.6L646.2 167.5L647.1 167.6L648.0 167.6L648.9 167.4L649.8 167.4L650.7 167.4L651.6 167.4L652.5 167.4L653.4 167.4L654.3 167.3L655.2 167.3L656.1 167.3L657.0 167.3L657.9 167.2L658.8 167.1L659.7 167.1L660.6 167.0L661.5 167.0L662.4 167.0L663.3 167.0L664.2 166.9L665.1 167.0L666.0 167.0L666.9 167.0L667.8 166.9L668.7 166.7L669.6 166.6L670.5 166.7L671.4 166.8L672.3 166.8L673.2 166.8L674.1 166.8L675.0 166.7L675.9 166.7L676.8 166.7L677.7 166.7L678.6 166.6L679.5 166.5L680.4 166.5L681.3 166.4L682.2 166.5L683.1 166.5L684.0 166.4L684.9 166.3L685.8 166.2L686.7 166.3L687.6 166.3L688.5 166.2L689.4 166.1L690.3 166.1L691.2 166.1L692.1 166.1L693.0 166.0L693.9 166.0L694.8 166.0L695.7 165.9L696.6 165.9L697.5 165.9L698.4 165.9L699.3 165.9L700.2 165.8L701.1 165.8L702.0 165.9L702.9 165.9L703.8 165.8L704.7 165.8L705.6 165.8L706.5 165.7L707.4 165.6L708.3 165.7L709.2 165.7L710.1 165.7L711.0 165.8L711.9 165.8L712.8 165.6L713.7 165.4L714.6 165.4L715.5 165.4L716.4 165.3L717.3 165.3L718.2 165.3L719.1 165.3L720.0 165.3L720.9 165.2L721.8 165.3L722.7 165.3L723.6 165.4L724.5 165.3L725.4 165.1L726.3 165.2L727.2 165.3L728.1 165.3L729.0 165.1L729.9 165.0L730.8 165.1L731.7 165.1L732.6 165.0L733.5 165.0L734.4 165.0L735.3 164.9L736.2 164.9L737.1 164.9L738.0 165.0L738.9 164.9L739.8 164.9L740.7 164.9L741.6 164.8L742.5 164.6L743.4 164.6L744.3 164.6L745.2 164.6L746.1 164.6L747.0 164.6L747.9 164.7L748.8 164.8L749.7 164.8L750.6 164.7L751.5 164.7L752.4 164.7L753.3 164.7L754.2 164.7L755.1 164.6L756.0 164.6L756.9 164.5L757.8 164.5L758.7 164.5L759.6 164.5L760.5 164.5L761.4 164.4L762.3 164.3L763.2 164.3L764.1 164.2L765.0 164.4L765.9 164.5L766.8 164.5L767.7 164.4L768.6 164.3L769.5 164.2L770.4 164.2L771.3 164.2L772.2 164.2L773.1 164.2L774.0 164.2L774.9 164.2L775.8 164.2L776.7 164.0L777.6 163.9L778.5 164.0L779.4 164.1L780.3 164.1L781.2 164.0L782.1 164.0L783.0 164.0L783.9 164.0L784.8 163.9L785.7 163.8L786.6 164.0L787.5 164.0L788.4 163.9L789.3 163.8L790.2 163.8L791.1 163.8L792.0 163.8L792.9 163.7L793.8 163.7L794.7 163.8L795.6 163.8L796.5 163.9L797.4 163.9L798.3 163.9L799.2 163.9L800.1 163.8L801.0 163.6L801.9 163.6L802.8 163.6L803.7 163.6L804.6 163.6L805.5 163.6L806.4 163.5L807.3 163.5L808.2 163.6L809.1 163.8L810.0 163.9L810.9 163.8L811.8 163.7L812.7 163.7L813.6 163.7L814.5 163.7L815.4 163.6L816.3 163.5L817.2 163.5L818.1 163.5L819.0 163.5L819.9 163.5L820.8 163.5L821.7 163.4L822.6 163.3L823.5 163.3L824.4 163.4L825.3 163.5L826.2 163.6L827.1 163.5L828.0 163.5L828.9 163.5L829.8 163.6L830.7 163.6L831.6 163.6L832.5 163.5L833.4 163.4L834.3 163.3L835.2 163.3L836.1 163.2L837.0 163.2L837.9 163.3L838.8 163.3L839.7 163.4L840.6 163.4L841.5 163.3L842.4 163.3L843.3 163.3L844.2 163.4L845.1 163.4L846.0 163.4L846.9 163.4L847.8 163.4L848.7 163.4L849.6 163.2L850.5 163.2L851.4 163.2L852.3 163.2L853.2 163.3L854.1 163.3L855.0 163.3L855.9 163.3L856.8 163.3L857.7 163.4L858.6 163.4L859.5 163.4L860.4 163.3L861.3 163.3L862.2 163.4L863.1 163.4L864.0 163.4L864.9 163.4L865.8 163.4L866.7 163.4L867.6 163.3L868.5 163.3L869.4 163.3L870.3 163.3L871.2 163.4L872.1 163.4L873.0 163.4L873.9 163.4L874.8 163.4L875.7 163.5L876.6 163.6L877.5 163.6L878.4 163.6L879.3 163.5L880.2 163.5L881.1 163.6L882.0 163.7L882.9 163.8L883.8 163.7L884.7 163.7L885.6 163.8L886.5 163.8L887.4 163.8L888.3 163.8L889.2 163.9L890.1 163.9L891.0 163.9L891.9 164.0L892.8 164.2L893.7 164.2L894.6 164.2L895.5 164.2L896.4 164.1L897.3 164.3L898.2 164.3L899.1 164.3L900.0 164.5L900.9 164.5L901.8 164.5L902.7 164.5L903.6 164.6L904.5 164.5L905.4 164.5L906.3 164.6L907.2 164.6L908.1 164.6L909.0 164.6L909.9 164.5L910.8 164.5L911.7 164.5L912.6 164.5L913.5 164.4L914.4 164.4L915.3 164.3L916.2 164.3L917.1 164.4L918.0 164.5L918.9 164.4L919.8 164.3L920.7 164.4L921.6 164.5L922.5 164.4L923.4 164.3L924.3 164.2L925.2 164.2L926.1 164.2L927.0 164.3L927.9 164.4L928.8 164.4L929.7 164.2L930.6 164.2L931.5 164.2L932.4 164.2L933.3 164.1L934.2 164.2L935.1 164.2L936.0 164.2L936.9 164.2L937.8 164.2L938.7 164.2L939.6 164.1L940.5 164.2L941.4 164.3L942.3 164.2L943.2 164.0L944.1 164.0L945.0 164.0L945.9 164.0L946.8 163.9L947.7 164.0L948.6 164.1L949.5 164.1L950.4 164.2L951.3 164.2L952.2 164.4L953.1 164.4L954.0 164.4L954.9 164.2L955.8 164.1L956.7 164.1L957.6 164.1L958.5 164.1L959.4 164.1L960.3 164.0L961.2 164.0L962.1 164.1L963.0 164.3L963.9 164.4L964.8 164.3L965.7 164.3L966.6 164.5L967.5 164.7L968.4 164.7L969.3 164.6L970.2 164.5L971.1 164.4L972.0 164.4L972.9 164.5L973.8 164.5L974.7 164.4L975.6 164.3L976.5 164.3L977.4 164.1L978.3 164.0L979.2 164.1L980.1 164.1L981.0 164.0L981.9 164.1L982.8 164.2L983.7 164.0L984.6 163.9L985.5 163.9L986.4 163.8L987.3 163.8L988.2 163.9L989.1 164.0L990.0 164.1L990.9 164.0L991.8 163.9L992.7 163.9L993.6 164.1L994.5 164.0L995.4 163.9L996.3 163.9L997.2 163.9L998.1 163.8L999.0 163.7L999.9 163.8L1000.8 163.9L1001.7 163.9L1002.6 163.8L1003.5 163.8L1004.4 163.9L1005.3 163.8L1006.2 163.8L1007.1 163.8L1008.0 163.7L1008.9 163.7L1009.8 163.8L1010.7 163.9L1011.6 164.0L1012.5 163.9L1013.4 163.8L1014.3 163.8L1015.2 163.9L1016.1 164.0L1017.0 164.0L1017.9 164.0L1018.8 164.0L1019.7 164.0L1020.6 164.0L1021.5 164.1L1022.4 164.1L1023.3 164.0L1024.2 164.0L1025.1 164.0L1026.0 164.1L1026.9 164.1L1027.8 164.1L1028.7 164.2L1029.6 164.3L1030.5 164.3L1031.4 164.3L1032.3 164.4L1033.2 164.5L1034.1 164.5L1035.0 164.5L1035.9 164.6L1036.8 164.8L1037.7 164.8L1038.6 164.9L1039.5 165.1L1040.4 165.2L1041.3 165.4L1042.2 165.7L1043.1 165.7L1044.0 165.9L1044.9 166.2L1045.8 166.4L1046.7 166.6L1047.6 166.8L1048.5 167.0L1049.4 167.1L1050.3 167.3L1051.2 167.7L1052.1 167.9L1053.0 168.0L1053.9 167.8L1054.8 167.5L1055.7 167.4L1056.6 167.4L1057.5 167.3L1058.4 167.3L1059.3 167.5L1060.2 167.6L1061.1 167.7L1062.0 168.0L1062.9 168.3L1063.8 168.5L1064.7 168.6L1065.6 168.7L1066.6 168.9L1067.5 169.0L1068.4 169.3L1069.3 169.8L1070.2 170.1L1071.1 170.3L1072.0 170.6L1072.9 170.8L1073.8 171.0L1074.7 171.3L1075.6 171.7L1076.5 171.9L1077.4 172.1L1078.3 172.2L1079.2 172.3L1080.1 172.4L1081.0 172.4L1081.9 172.6L1082.8 172.9L1083.7 173.0L1084.6 173.2L1085.5 173.4L1086.4 173.5L1087.3 173.8L1088.2 174.1L1089.1 174.3L1090.0 174.6L1090.9 174.9L1091.8 175.2L1092.7 175.5L1093.6 175.8L1094.5 176.3L1095.4 176.8L1096.3 177.1L1097.2 177.7L1098.1 178.2L1099.0 178.9L1099.9 179.5L1100.8 180.2L1101.7 180.8L1102.6 181.6L1103.5 182.3L1104.4 183.1L1105.3 183.9L1106.2 184.8L1107.1 185.6L1108.0 186.6L1108.9 187.5L1109.8 188.5L1110.7 189.6L1111.6 190.7L1112.5 191.8L1113.4 193.1L1114.3 194.6L1115.2 196.0L1116.1 197.2L1117.0 198.4L1117.9 199.7L1118.8 200.9L1119.7 201.8L1120.6 202.4L1121.5 202.7L1122.4 203.1L1123.3 203.0L1124.2 201.6L1125.1 200.2L1126.0 199.2L1126.9 197.9L1127.8 196.5L1128.7 195.3L1129.6 194.2L1130.5 193.2L1131.4 192.4L1132.3 191.7L1133.2 191.3L1134.1 190.8L1135.0 190.1L1135.9 189.5L1136.8 189.3L1137.7 189.5L1138.6 189.4L1139.5 189.2L1140.4 188.8L1141.3 188.4L1142.2 188.5L1143.1 188.8L1144.0 188.5L1144.9 188.2L1145.8 188.3L1146.7 188.1L1147.6 188.0L1148.5 188.3L1149.4 188.5L1150.3 188.4L1151.2 188.5L1152.1 188.7L1153.0 189.1L1153.9 189.7L1154.8 190.3L1155.7 191.0L1156.6 191.6L1157.5 192.4L1158.4 193.3L1159.3 194.6L1160.2 195.9L1161.1 197.1L1162.0 198.5L1162.9 200.1L1163.8 202.0L1164.7 204.2L1165.6 206.4L1166.5 208.6L1167.4 211.2L1168.3 213.9L1169.2 216.8L1170.1 219.8L1171.0 223.1L1171.9 226.7L1172.8 230.6L1173.7 235.0L1174.6 240.1L1175.5 246.0L1176.4 252.7L1177.3 259.8L1178.2 265.7L1179.1 270.7L1180.0 270.6L1180.9 266.9L1181.8 262.2L1182.7 258.5L1183.6 254.4L1184.5 251.1L1185.4 250.2L1186.3 250.4L1187.2 250.8L1188.1 251.5L1189.0 252.5L1189.9 253.6L1190.8 254.7L1191.7 255.6L1192.6 256.2L1193.5 256.5L1194.4 256.4L1195.3 256.1L1196.2 255.7L1197.1 255.2L1198.0 255.1L1198.9 256.0L1199.8 257.2L1200.7 257.6L1201.6 257.6L1202.5 257.9L1203.4 258.1L1204.3 258.2L1205.2 258.5L1206.1 258.9L1207.0 259.3L1207.9 260.4L1208.8 261.4L1209.7 261.2L1210.6 259.8L1211.5 257.7L1212.4 256.0L1213.3 254.3L1214.2 252.2L1215.1 249.8L1216.0 247.3L1216.9 245.1L1217.8 242.5L1218.7 240.0L1219.6 237.7L1220.5 235.6L1221.4 234.1L1222.3 232.7L1223.2 231.2L1224.1 229.8L1225.0 228.7L1225.9 227.9L1226.8 227.8L1227.7 228.4L1228.6 229.2L1229.5 229.6L1230.4 229.3L1231.3 228.0L1232.2 225.8L1233.1 222.0L1234.0 218.0L1234.9 213.6L1235.8 208.6L1236.7 204.3L1237.6 200.5L1238.5 197.5L1239.4 195.7L1240.3 194.3L1241.2 193.2L1242.1 192.0L1243.0 191.0L1243.9 190.4L1244.8 189.7L1245.7 189.0L1246.6 188.4L1247.5 187.7L1248.4 187.4L1249.3 187.1L1250.2 186.6L1251.1 186.2L1252.0 186.1L1252.9 185.7L1253.8 185.4L1254.7 185.6L1255.6 185.8L1256.5 185.5L1257.4 185.3L1258.3 185.3L1259.2 185.5L1260.1 185.8L1261.0 186.3L1261.9 186.6L1262.8 186.5L1263.7 185.7L1264.6 184.8L1265.5 184.7L1266.4 184.7L1267.3 184.8L1268.2 185.0L1269.1 185.2L1270.0 185.4L1270.9 185.6L1271.8 185.8L1272.7 186.1L1273.6 186.3L1274.5 186.6L1275.4 186.9L1276.3 187.2L1277.2 187.6L1278.1 187.8L1279.0 188.2L1279.9 188.7L1280.8 189.2L1281.7 189.6L1282.6 190.0L1283.5 190.5L1284.4 191.0L1285.3 191.5L1286.2 192.0L1287.1 192.5L1288.0 193.1L1288.9 193.6L1289.8 194.2L1290.7 194.7L1291.6 195.3L1292.5 195.9L1293.4 196.5L1294.3 197.1L1295.2 197.6L1296.1 198.2L1297.0 198.9L1297.9 199.6L1298.8 200.3L1299.7 201.1L1300.6 201.9L1301.5 202.7L1302.4 203.6L1303.3 204.7L1304.2 205.7L1305.1 206.8L1306.0 208.0L1306.9 209.3L1307.8 210.5L1308.7 211.9L1309.6 213.3L1310.5 214.8L1311.4 216.4L1312.3 218.1L1313.2 219.9L1314.1 221.8L1315.0 223.8L1315.9 225.8L1316.8 227.9L1317.7 230.1L1318.6 232.5L1319.5 235.0L1320.4 237.5L1321.3 240.1L1322.2 242.8L1323.1 245.7L1324.0 248.7L1324.9 251.6L1325.8 254.7L1326.7 257.7L1327.6 260.9L1328.5 264.1L1329.4 267.4L1330.3 270.5L1331.2 273.5L1332.1 276.3L1333.0 278.8L1333.9 281.3L1334.8 284.0L1335.7 286.8L1336.6 290.1L1337.5 294.0L1338.4 298.4L1339.3 303.3L1340.2 308.6L1341.1 314.5L1342.0 321.1L1342.9 327.8L1343.8 335.0L1344.7 342.4L1345.6 349.8L1346.5 357.4L1347.4 364.7L1348.3 371.8L1349.2 377.3L1350.1 382.1L1351.0 383.7L1351.9 380.7L1352.8 376.2L1353.7 372.2L1354.6 367.9L1355.5 363.6L1356.4 359.8L1357.3 356.4L1358.2 353.3L1359.1 350.4L1360.0 347.8L1360.9 345.5L1361.8 343.2L1362.7 341.4L1363.6 339.9L1364.5 339.0L1365.4 338.3L1366.3 337.9L1367.2 337.8L1368.1 338.4L1369.0 339.7L1369.9 341.2L1370.8 343.3L1371.7 346.6L1372.6 350.3L1373.5 353.9L1374.4 358.7L1375.3 368.8L1376.2 383.3L1377.1 395.6L1378.0 407.3L1378.9 418.4L1379.8 428.9L1380.7 438.7L1381.6 448.0L1382.5 458.1L1383.4 462.6L1384.3 462.1L1385.2 461.1L1386.1 460.3L1387.0 459.7L1387.9 459.1L1388.8 458.9L1389.7 460.0L1390.6 462.5L1391.5 465.6L1392.4 469.7L1393.3 474.6L1394.2 479.7L1395.1 485.5L1396.0 491.0L1396.9 495.3L1397.8 498.8L1398.7 500.4L1399.6 501.2L1400.5 501.2L1401.4 500.1L1402.3 498.2L1403.2 495.7L1404.1 493.0L1405.0 490.3L1405.9 487.6L1406.8 484.3L1407.7 480.7L1408.6 476.8L1409.5 472.7L1410.4 468.6L1411.3 464.1L1412.2 459.3L1413.1 454.3L1414.0 449.0L1414.9 443.6L1415.8 438.2L1416.7 432.5L1417.6 426.7L1418.5 420.7L1419.4 414.7L1420.3 408.6L1421.2 402.2L1422.1 395.5L1423.0 389.5L1423.9 384.8L1424.8 381.3L1425.7 378.5L1426.6 375.9L1427.5 372.9L1428.4 369.3L1429.3 365.5L1430.2 361.6L1431.1 357.9L1432.0 354.3L1432.9 350.8L1433.8 347.7L1434.7 345.1L1435.6 342.7L1436.5 340.4L1437.4 338.2L1438.3 336.1L1439.2 334.2L1440.1 332.5L1441.0 330.7L1441.9 329.0L1442.8 327.3L1443.7 325.5L1444.6 323.6L1445.5 321.9L1446.4 320.6L1447.3 319.7L1448.2 318.9L1449.1 318.5L1450.0 318.7L1450.9 319.7L1451.8 321.0L1452.7 322.7L1453.6 325.3L1454.5 326.9L1455.4 326.0L1456.3 323.6L1457.2 321.0L1458.1 319.5L1459.0 318.2L1459.9 317.2L1460.8 316.2L1461.7 315.3L1462.6 314.2L1463.5 313.1L1464.4 312.1L1465.3 311.3L1466.2 310.7L1467.1 310.2L1468.0 309.7L1468.9 308.9L1469.8 307.9L1470.7 306.8L1471.6 305.5L1472.5 304.2L1473.4 302.4L1474.3 300.2L1475.2 297.9L1476.1 295.7L1477.0 293.8L1477.9 292.0L1478.8 290.2L1479.7 288.6L1480.6 286.8L1481.5 284.9L1482.4 283.1L1483.3 281.4L1484.2 279.7L1485.1 278.1L1486.0 276.6L1486.9 275.1L1487.8 273.7L1488.7 272.0L1489.6 270.1L1490.5 268.6L1491.4 267.6L1492.3 267.0L1493.2 266.3L1494.1 265.9L1495.0 265.7L1495.9 265.8L1496.8 266.0L1497.7 266.4L1498.6 266.9L1499.5 268.1L1500.4 270.5L1501.3 272.8L1502.2 273.8L1503.1 272.9L1504.0 271.1L1504.9 269.8L1505.8 269.4L1506.7 269.2L1507.6 269.1L1508.5 268.9L1509.4 268.9L1510.3 269.0L1511.2 269.3L1512.1 269.6L1513.0 269.9L1513.9 270.3L1514.8 270.6L1515.7 270.9L1516.6 271.3L1517.5 271.8L1518.4 272.3L1519.3 273.0L1520.2 273.8L1521.1 274.9L1522.0 276.3L1522.9 278.2L1523.8 280.9L1524.7 283.9L1525.6 286.5L1526.5 288.9L1527.4 291.3L1528.3 294.5L1529.2 299.1L1530.1 304.9L1531.0 312.3L1531.9 321.0L1532.8 328.9L1533.7 336.3L1534.6 342.4L1535.5 347.2L1536.4 349.7L1537.3 346.9L1538.2 342.5L1539.1 338.8L1540.0 335.6L1540.9 333.6L1541.8 332.1L1542.7 330.1L1543.6 326.5L1544.5 322.0L1545.4 317.9L1546.3 314.0L1547.2 310.4L1548.1 307.8L1549.0 305.5L1549.9 303.6L1550.8 302.5L1551.7 302.3L1552.6 303.1L1553.5 304.8L1554.4 307.0L1555.3 309.3L1556.2 312.6L1557.1 317.0L1558.0 322.5L1558.9 330.4L1559.8 339.4L1560.7 347.2L1561.6 354.6L1562.5 363.8L1563.4 374.9L1564.3 384.7L1565.2 384.8L1566.1 378.8L1567.0 372.8L1567.9 366.4L1568.8 360.6L1569.7 356.4L1570.6 353.3L1571.5 352.3L1572.4 351.7L1573.3 351.5L1574.2 351.7L1575.1 352.4L1576.0 353.5L1576.9 354.7L1577.8 356.6L1578.7 359.3L1579.6 364.0L1580.5 371.9L1581.4 379.8L1582.3 387.3L1583.2 393.9L1584.1 398.1L1585.0 400.7L1585.9 399.4L1586.8 395.7L1587.7 392.5L1588.6 390.2L1589.5 388.1L1590.4 386.3L1591.3 385.0L1592.2 384.2L1593.1 383.6L1594.0 383.1L1594.9 382.8L1595.8 382.4L1596.7 381.9L1597.6 381.5L1598.5 381.0L1599.4 380.7L1600.3 380.5L1601.2 380.3L1602.1 380.1L1603.0 379.9L1603.9 379.9L1604.8 380.0L1605.7 380.0L1606.6 380.0L1607.5 380.8L1608.4 382.2L1609.3 383.8L1610.2 385.5L1611.1 388.0L1612.0 390.2L1612.9 390.8L1613.8 389.8L1614.7 388.2L1615.6 386.4L1616.5 384.7L1617.4 382.5L1618.3 380.5L1619.2 379.2L1620.1 378.2L1621.0 377.6L1621.9 377.8L1622.8 379.0L1623.7 380.8L1624.6 383.3L1625.5 387.4L1626.4 392.3L1627.3 398.0L1628.2 404.6L1629.1 411.2L1630.0 417.8L1630.9 424.2L1631.8 429.8L1632.7 435.7L1633.6 439.7L1634.5 439.1L1635.4 434.6L1636.3 428.5L1637.2 420.3L1638.1 409.6L1639.0 402.2L1639.9 398.3L1640.8 396.9L1641.7 400.5L1642.6 406.8L1643.5 411.5L1644.4 415.6L1645.3 419.2L1646.2 421.2L1647.1 419.7L1648.0 414.3L1648.9 407.8L1649.8 401.0L1650.7 393.3L1651.6 386.5L1652.5 380.4L1653.4 375.1L1654.3 371.2L1655.2 368.3L1656.1 365.9L1657.0 363.7L1657.9 361.8L1658.8 360.7L1659.7 360.0" fill="none" stroke="#FA6B6B" stroke-width="3.2" stroke-linejoin="round" stroke-linecap="butt"/>
<path d="M86.3 266.8L87.2 266.7L88.1 267.1L89.0 267.5L89.9 267.5L90.8 267.5L91.7 267.5L92.6 267.7L93.5 268.2L94.4 268.4L95.3 267.9L96.2 267.9L97.1 268.5L98.0 268.3L98.9 268.3L99.8 268.6L100.7 268.7L101.6 268.7L102.5 268.4L103.4 268.4L104.3 268.7L105.2 268.6L106.1 268.4L107.0 268.3L107.9 268.3L108.8 268.4L109.7 268.4L110.6 268.9L111.5 269.2L112.4 269.2L113.3 269.3L114.2 269.4L115.1 269.5L116.0 269.2L116.9 268.8L117.8 268.8L118.7 269.0L119.6 269.2L120.5 269.4L121.4 269.2L122.3 269.5L123.2 269.9L124.1 269.7L125.0 270.0L125.9 270.1L126.8 269.9L127.7 269.8L128.6 269.8L129.5 269.7L130.4 269.6L131.3 270.1L132.2 270.6L133.1 270.6L134.0 270.5L134.9 270.5L135.8 270.4L136.7 270.1L137.6 270.3L138.5 270.9L139.4 271.1L140.3 270.7L141.2 270.4L142.1 270.4L143.0 270.8L143.9 270.9L144.8 270.7L145.7 270.8L146.6 271.3L147.5 271.4L148.4 271.3L149.3 271.4L150.2 271.8L151.1 271.8L152.0 271.7L152.9 271.5L153.8 271.2L154.7 271.2L155.6 271.5L156.5 271.3L157.4 271.2L158.3 271.9L159.2 272.0L160.1 271.6L161.0 271.8L161.9 272.1L162.8 272.1L163.7 272.3L164.6 272.7L165.5 272.7L166.4 272.5L167.3 272.7L168.2 272.7L169.1 272.5L170.0 272.7L170.9 273.1L171.8 273.1L172.7 272.7L173.6 272.5L174.5 272.7L175.4 272.9L176.3 272.9L177.2 272.6L178.1 272.7L179.0 273.0L179.9 272.8L180.8 273.0L181.7 273.4L182.6 273.5L183.5 273.5L184.4 273.5L185.3 273.2L186.2 273.0L187.1 273.3L188.0 273.7L188.9 273.8L189.8 273.8L190.7 273.7L191.6 273.8L192.5 274.1L193.4 274.9L194.3 275.1L195.2 275.0L196.1 275.1L197.0 275.2L197.9 275.2L198.8 275.6L199.7 275.8L200.6 275.7L201.5 276.2L202.4 276.7L203.3 276.7L204.2 277.5L205.1 278.4L206.0 278.3L206.9 278.2L207.8 278.8L208.7 279.1L209.6 279.2L210.5 279.4L211.4 279.9L212.3 280.5L213.2 281.2L214.1 281.6L215.0 282.1L215.9 283.4L216.8 284.5L217.7 284.9L218.6 285.5L219.5 286.9L220.4 288.5L221.3 290.6L222.2 292.9L223.1 295.3L224.0 297.8L224.9 300.7L225.8 304.5L226.7 308.7L227.6 312.6L228.5 316.6L229.4 321.0L230.3 325.2L231.2 328.6L232.1 331.2L233.0 333.6L233.9 336.1L234.8 338.6L235.7 340.3L236.6 341.6L237.5 343.2L238.4 344.4L239.3 345.3L240.2 346.2L241.1 346.5L242.0 346.7L242.9 347.2L243.8 347.7L244.7 348.1L245.6 348.6L246.5 348.8L247.4 349.0L248.3 349.7L249.2 350.6L250.1 351.2L251.0 351.3L251.9 351.5L252.8 352.8L253.7 353.7L254.6 353.1L255.5 353.1L256.4 353.9L257.3 354.3L258.2 354.1L259.1 354.3L260.0 354.8L260.9 354.8L261.8 355.0L262.7 355.3L263.6 355.5L264.5 356.0L265.4 356.6L266.3 356.9L267.2 357.1L268.1 357.5L269.0 358.2L269.9 358.8L270.8 358.5L271.7 358.6L272.6 359.2L273.5 359.5L274.4 359.6L275.3 359.9L276.2 360.2L277.1 360.6L278.0 360.9L278.9 361.3L279.8 361.8L280.7 362.0L281.6 362.2L282.5 362.6L283.4 362.8L284.3 362.9L285.2 363.0L286.1 363.3L287.0 363.5L287.9 363.8L288.8 364.1L289.7 364.2L290.6 364.1L291.5 364.3L292.4 364.5L293.3 364.4L294.2 364.3L295.1 364.3L296.0 364.4L296.9 364.5L297.8 364.7L298.7 364.9L299.6 365.0L300.5 365.0L301.4 365.0L302.3 365.0L303.2 365.1L304.1 365.2L305.0 365.3L305.9 365.4L306.8 365.6L307.7 365.4L308.6 365.3L309.5 365.3L310.4 365.4L311.3 365.5L312.2 365.5L313.1 365.4L314.0 365.4L314.9 365.4L315.8 365.2L316.7 365.1L317.6 365.0L318.5 365.1L319.4 365.1L320.3 365.0L321.2 364.9L322.1 364.8L323.0 364.8L323.9 364.7L324.8 364.7L325.7 364.6L326.6 364.4L327.5 364.3L328.4 364.0L329.3 363.8L330.2 363.6L331.1 363.4L332.0 363.3L332.9 363.1L333.8 362.9L334.7 362.7L335.6 362.5L336.5 362.1L337.4 361.6L338.3 361.3L339.2 361.1L340.1 360.8L341.0 360.4L341.9 360.0L342.8 359.6L343.7 359.1L344.6 358.6L345.5 358.1L346.4 357.6L347.3 357.0L348.2 356.5L349.1 355.9L350.0 355.3L350.9 354.7L351.8 354.2L352.7 353.6L353.6 353.0L354.5 352.5L355.4 351.9L356.3 351.3L357.2 350.6L358.1 349.8L359.0 349.0L359.9 348.4L360.8 347.8L361.7 347.2L362.6 346.6L363.5 345.8L364.4 345.0L365.3 344.4L366.2 343.7L367.1 342.9L368.0 342.1L368.9 341.5L369.8 340.9L370.7 340.1L371.6 339.3L372.5 338.5L373.4 337.7L374.3 337.1L375.2 336.4L376.1 335.6L377.0 335.0L377.9 334.4L378.8 333.7L379.7 333.0L380.6 332.4L381.5 331.7L382.4 331.0L383.3 330.2L384.2 329.6L385.1 328.9L386.0 328.2L386.9 327.7L387.8 327.2L388.7 326.6L389.6 326.0L390.5 325.2L391.4 324.7L392.3 324.3L393.2 323.8L394.1 323.1L395.0 322.5L395.9 322.0L396.8 321.6L397.7 321.1L398.6 320.5L399.5 320.0L400.4 319.5L401.3 319.1L402.2 318.7L403.1 318.3L404.0 318.0L404.9 317.5L405.9 317.1L406.8 316.7L407.7 316.3L408.6 315.9L409.5 315.5L410.4 315.1L411.3 314.8L412.2 314.4L413.1 314.0L414.0 313.5L414.9 313.1L415.8 312.8L416.7 312.4L417.6 312.1L418.5 311.8L419.4 311.2L420.3 310.7L421.2 310.2L422.1 309.8L423.0 309.3L423.9 308.9L424.8 308.4L425.7 308.0L426.6 307.5L427.5 306.9L428.4 306.5L429.3 306.1L430.2 305.7L431.1 305.3L432.0 304.8L432.9 304.3L433.8 303.8L434.7 303.3L435.6 302.9L436.5 302.5L437.4 302.0L438.3 301.7L439.2 301.4L440.1 300.9L441.0 300.5L441.9 300.1L442.8 299.7L443.7 299.2L444.6 298.8L445.5 298.4L446.4 298.0L447.3 297.7L448.2 297.3L449.1 296.9L450.0 296.4L450.9 296.0L451.8 295.7L452.7 295.3L453.6 294.7L454.5 294.1L455.4 293.6L456.3 293.1L457.2 292.7L458.1 292.3L459.0 291.9L459.9 291.4L460.8 291.0L461.7 290.6L462.6 290.3L463.5 289.9L464.4 289.6L465.3 289.6L466.2 289.4L467.1 289.2L468.0 289.0L468.9 288.8L469.8 288.6L470.7 288.4L471.6 288.2L472.5 288.1L473.4 287.8L474.3 287.6L475.2 287.4L476.1 287.2L477.0 287.0L477.9 286.7L478.8 286.5L479.7 286.1L480.6 285.9L481.5 285.7L482.4 285.6L483.3 285.4L484.2 285.0L485.1 284.8L486.0 284.7L486.9 284.5L487.8 284.4L488.7 284.3L489.6 284.2L490.5 283.9L491.4 283.6L492.3 283.5L493.2 283.4L494.1 283.3L495.0 283.2L495.9 283.1L496.8 282.8L497.7 282.6L498.6 282.6L499.5 282.5L500.4 282.3L501.3 282.2L502.2 282.2L503.1 282.2L504.0 282.0L504.9 281.9L505.8 281.9L506.7 281.8L507.6 281.8L508.5 281.7L509.4 281.5L510.3 281.4L511.2 281.3L512.1 281.2L513.0 281.1L513.9 281.1L514.8 281.0L515.7 280.9L516.6 280.8L517.5 280.8L518.4 280.8L519.3 280.9L520.2 280.9L521.1 280.9L522.0 280.7L522.9 280.6L523.8 280.6L524.7 280.6L525.6 280.7L526.5 280.7L527.4 280.7L528.3 280.7L529.2 280.7L530.1 280.8L531.0 280.9L531.9 281.0L532.8 281.1L533.7 281.2L534.6 281.3L535.5 281.2L536.4 281.1L537.3 281.1L538.2 281.0L539.1 281.0L540.0 281.0L540.9 281.1L541.8 281.2L542.7 281.2L543.6 281.2L544.5 281.2L545.4 281.1L546.3 281.3L547.2 281.5L548.1 281.7L549.0 281.8L549.9 281.9L550.8 282.2L551.7 282.5L552.6 282.9L553.5 283.2L554.4 283.5L555.3 283.8L556.2 283.6L557.1 283.2L558.0 282.8L558.9 282.4L559.8 281.9L560.7 281.5L561.6 281.0L562.5 280.7L563.4 280.6L564.3 280.4L565.2 280.2L566.1 279.9L567.0 279.7L567.9 279.5L568.8 279.4L569.7 279.3L570.6 279.2L571.5 279.1L572.4 279.0L573.3 278.8L574.2 278.7L575.1 278.7L576.0 278.7L576.9 278.5L577.8 278.5L578.7 278.6L579.6 278.6L580.5 278.6L581.4 278.6L582.3 278.6L583.2 278.6L584.1 278.6L585.0 278.8L585.9 278.9L586.8 278.8L587.7 278.7L588.6 278.5L589.5 278.2L590.4 277.8L591.3 277.4L592.2 277.0L593.1 276.7L594.0 276.3L594.9 275.9L595.8 275.6L596.7 275.4L597.6 275.3L598.5 275.1L599.4 275.0L600.3 274.9L601.2 274.7L602.1 274.5L603.0 274.4L603.9 274.5L604.8 274.4L605.7 274.1L606.6 274.0L607.5 274.0L608.4 274.0L609.3 273.9L610.2 273.8L611.1 273.7L612.0 273.6L612.9 273.6L613.8 273.6L614.7 273.5L615.6 273.5L616.5 273.5L617.4 273.5L618.3 273.4L619.2 273.3L620.1 273.2L621.0 273.2L621.9 273.2L622.8 273.0L623.7 273.0L624.6 273.0L625.5 273.0L626.4 272.9L627.3 272.8L628.2 272.7L629.1 272.6L630.0 272.6L630.9 272.7L631.8 272.6L632.7 272.5L633.6 272.4L634.5 272.3L635.4 272.3L636.3 272.3L637.2 272.2L638.1 272.2L639.0 272.3L639.9 272.2L640.8 272.1L641.7 272.0L642.6 272.1L643.5 272.1L644.4 272.0L645.3 272.1L646.2 272.1L647.1 272.0L648.0 272.0L648.9 271.9L649.8 271.8L650.7 271.7L651.6 271.7L652.5 271.7L653.4 271.7L654.3 271.6L655.2 271.5L656.1 271.6L657.0 271.6L657.9 271.4L658.8 271.3L659.7 271.3L660.6 271.3L661.5 271.2L662.4 271.3L663.3 271.3L664.2 271.2L665.1 271.2L666.0 271.1L666.9 271.0L667.8 271.0L668.7 271.0L669.6 270.9L670.5 270.8L671.4 270.8L672.3 270.8L673.2 270.7L674.1 270.8L675.0 270.8L675.9 270.8L676.8 270.7L677.7 270.7L678.6 270.6L679.5 270.5L680.4 270.5L681.3 270.6L682.2 270.5L683.1 270.5L684.0 270.5L684.9 270.5L685.8 270.4L686.7 270.3L687.6 270.3L688.5 270.3L689.4 270.3L690.3 270.2L691.2 270.1L692.1 270.2L693.0 270.3L693.9 270.3L694.8 270.3L695.7 270.2L696.6 270.1L697.5 270.1L698.4 270.1L699.3 270.1L700.2 270.0L701.1 270.0L702.0 269.9L702.9 269.9L703.8 269.9L704.7 269.9L705.6 269.9L706.5 269.9L707.4 269.8L708.3 269.7L709.2 269.7L710.1 269.7L711.0 269.7L711.9 269.7L712.8 269.6L713.7 269.6L714.6 269.5L715.5 269.5L716.4 269.5L717.3 269.5L718.2 269.5L719.1 269.5L720.0 269.4L720.9 269.4L721.8 269.5L722.7 269.4L723.6 269.4L724.5 269.4L725.4 269.4L726.3 269.4L727.2 269.4L728.1 269.4L729.0 269.3L729.9 269.3L730.8 269.4L731.7 269.4L732.6 269.3L733.5 269.3L734.4 269.3L735.3 269.3L736.2 269.1L737.1 269.1L738.0 269.1L738.9 269.1L739.8 269.2L740.7 269.2L741.6 269.1L742.5 269.0L743.4 269.1L744.3 269.1L745.2 269.1L746.1 269.0L747.0 269.0L747.9 268.9L748.8 268.8L749.7 268.9L750.6 268.9L751.5 268.9L752.4 268.8L753.3 268.7L754.2 268.7L755.1 268.6L756.0 268.7L756.9 268.7L757.8 268.7L758.7 268.7L759.6 268.7L760.5 268.7L761.4 268.6L762.3 268.6L763.2 268.5L764.1 268.5L765.0 268.5L765.9 268.6L766.8 268.6L767.7 268.6L768.6 268.6L769.5 268.5L770.4 268.5L771.3 268.6L772.2 268.6L773.1 268.6L774.0 268.5L774.9 268.5L775.8 268.4L776.7 268.3L777.6 268.4L778.5 268.4L779.4 268.3L780.3 268.2L781.2 268.2L782.1 268.4L783.0 268.4L783.9 268.3L784.8 268.2L785.7 268.3L786.6 268.3L787.5 268.3L788.4 268.2L789.3 268.1L790.2 268.1L791.1 268.1L792.0 268.1L792.9 268.0L793.8 268.0L794.7 268.0L795.6 268.1L796.5 268.1L797.4 268.1L798.3 268.0L799.2 268.0L800.1 268.0L801.0 268.0L801.9 268.0L802.8 268.0L803.7 267.9L804.6 267.9L805.5 268.0L806.4 268.0L807.3 268.0L808.2 267.9L809.1 267.9L810.0 268.1L810.9 268.1L811.8 267.9L812.7 267.9L813.6 268.0L814.5 267.9L815.4 267.9L816.3 268.0L817.2 268.0L818.1 267.8L819.0 267.8L819.9 267.9L820.8 267.9L821.7 267.9L822.6 267.8L823.5 267.7L824.4 267.7L825.3 267.7L826.2 267.7L827.1 267.8L828.0 267.8L828.9 267.8L829.8 267.9L830.7 267.9L831.6 267.7L832.5 267.6L833.4 267.6L834.3 267.7L835.2 267.7L836.1 267.8L837.0 267.7L837.9 267.6L838.8 267.6L839.7 267.6L840.6 267.7L841.5 267.7L842.4 267.7L843.3 267.5L844.2 267.5L845.1 267.6L846.0 267.7L846.9 267.7L847.8 267.6L848.7 267.6L849.6 267.6L850.5 267.6L851.4 267.6L852.3 267.6L853.2 267.7L854.1 267.8L855.0 267.8L855.9 267.8L856.8 267.7L857.7 267.6L858.6 267.6L859.5 267.7L860.4 267.6L861.3 267.6L862.2 267.6L863.1 267.7L864.0 267.7L864.9 267.7L865.8 267.8L866.7 267.8L867.6 267.8L868.5 267.8L869.4 267.8L870.3 267.8L871.2 267.9L872.1 267.8L873.0 267.9L873.9 267.9L874.8 267.9L875.7 267.9L876.6 267.9L877.5 267.8L878.4 267.8L879.3 267.8L880.2 267.9L881.1 268.0L882.0 268.0L882.9 268.1L883.8 268.2L884.7 268.2L885.6 268.2L886.5 268.3L887.4 268.3L888.3 268.2L889.2 268.2L890.1 268.3L891.0 268.6L891.9 268.7L892.8 268.7L893.7 268.6L894.6 268.6L895.5 268.7L896.4 268.8L897.3 268.8L898.2 268.8L899.1 268.9L900.0 269.0L900.9 269.0L901.8 269.0L902.7 269.2L903.6 269.3L904.5 269.2L905.4 269.2L906.3 269.1L907.2 269.1L908.1 269.1L909.0 269.2L909.9 269.2L910.8 269.2L911.7 269.2L912.6 269.1L913.5 269.1L914.4 269.1L915.3 269.0L916.2 269.0L917.1 269.0L918.0 268.9L918.9 269.0L919.8 268.9L920.7 268.9L921.6 268.9L922.5 268.8L923.4 268.7L924.3 268.7L925.2 268.7L926.1 268.7L927.0 268.8L927.9 268.8L928.8 268.7L929.7 268.6L930.6 268.6L931.5 268.5L932.4 268.6L933.3 268.7L934.2 268.7L935.1 268.5L936.0 268.3L936.9 268.4L937.8 268.5L938.7 268.5L939.6 268.4L940.5 268.3L941.4 268.3L942.3 268.5L943.2 268.4L944.1 268.4L945.0 268.5L945.9 268.6L946.8 268.5L947.7 268.5L948.6 268.5L949.5 268.5L950.4 268.4L951.3 268.5L952.2 268.6L953.1 268.5L954.0 268.5L954.9 268.6L955.8 268.6L956.7 268.6L957.6 268.6L958.5 268.6L959.4 268.7L960.3 268.7L961.2 268.6L962.1 268.7L963.0 268.9L963.9 268.9L964.8 269.0L965.7 269.2L966.6 269.3L967.5 269.4L968.4 269.5L969.3 269.4L970.2 269.4L971.1 269.4L972.0 269.3L972.9 269.3L973.8 269.3L974.7 269.2L975.6 269.1L976.5 269.1L977.4 269.0L978.3 269.0L979.2 269.0L980.1 269.1L981.0 269.0L981.9 268.8L982.8 268.8L983.7 268.7L984.6 268.6L985.5 268.6L986.4 268.6L987.3 268.6L988.2 268.5L989.1 268.5L990.0 268.5L990.9 268.5L991.8 268.5L992.7 268.4L993.6 268.4L994.5 268.4L995.4 268.5L996.3 268.5L997.2 268.5L998.1 268.5L999.0 268.4L999.9 268.5L1000.8 268.5L1001.7 268.5L1002.6 268.5L1003.5 268.4L1004.4 268.4L1005.3 268.5L1006.2 268.5L1007.1 268.5L1008.0 268.4L1008.9 268.4L1009.8 268.4L1010.7 268.4L1011.6 268.6L1012.5 268.5L1013.4 268.4L1014.3 268.4L1015.2 268.5L1016.1 268.5L1017.0 268.7L1017.9 268.9L1018.8 268.9L1019.7 268.8L1020.6 268.7L1021.5 268.8L1022.4 268.8L1023.3 268.7L1024.2 268.9L1025.1 269.0L1026.0 269.0L1026.9 269.0L1027.8 269.1L1028.7 269.1L1029.6 269.2L1030.5 269.3L1031.4 269.4L1032.3 269.3L1033.2 269.4L1034.1 269.5L1035.0 269.6L1035.9 269.8L1036.8 270.0L1037.7 269.9L1038.6 269.9L1039.5 270.0L1040.4 270.2L1041.3 270.3L1042.2 270.5L1043.1 270.7L1044.0 270.9L1044.9 271.2L1045.8 271.5L1046.7 271.7L1047.6 271.9L1048.5 272.2L1049.4 272.3L1050.3 272.4L1051.2 272.6L1052.1 272.6L1053.0 272.6L1053.9 272.5L1054.8 272.3L1055.7 272.1L1056.6 271.9L1057.5 271.9L1058.4 271.9L1059.3 272.0L1060.2 272.3L1061.1 272.5L1062.0 272.5L1062.9 272.6L1063.8 272.9L1064.7 273.2L1065.6 273.4L1066.6 273.6L1067.5 273.9L1068.4 274.2L1069.3 274.6L1070.2 274.9L1071.1 275.1L1072.0 275.2L1072.9 275.4L1073.8 275.8L1074.7 276.0L1075.6 276.0L1076.5 276.2L1077.4 276.3L1078.3 276.5L1079.2 276.7L1080.1 276.9L1081.0 277.0L1081.9 277.2L1082.8 277.4L1083.7 277.5L1084.6 277.7L1085.5 278.0L1086.4 278.3L1087.3 278.7L1088.2 279.0L1089.1 279.3L1090.0 279.5L1090.9 279.9L1091.8 280.3L1092.7 280.7L1093.6 281.2L1094.5 281.6L1095.4 282.2L1096.3 282.7L1097.2 283.0L1098.1 283.5L1099.0 284.1L1099.9 284.8L1100.8 285.5L1101.7 286.1L1102.6 286.7L1103.5 287.5L1104.4 288.3L1105.3 289.0L1106.2 289.7L1107.1 290.6L1108.0 291.4L1108.9 292.2L1109.8 293.1L1110.7 293.9L1111.6 294.7L1112.5 295.6L1113.4 296.7L1114.3 297.7L1115.2 298.6L1116.1 299.4L1117.0 300.1L1117.9 300.9L1118.8 301.5L1119.7 302.0L1120.6 302.3L1121.5 302.4L1122.4 302.6L1123.3 302.6L1124.2 302.2L1125.1 301.7L1126.0 300.8L1126.9 299.6L1127.8 298.7L1128.7 297.9L1129.6 297.1L1130.5 296.5L1131.4 295.9L1132.3 295.4L1133.2 294.9L1134.1 294.5L1135.0 294.1L1135.9 293.7L1136.8 293.6L1137.7 293.3L1138.6 293.1L1139.5 293.2L1140.4 293.2L1141.3 293.0L1142.2 292.8L1143.1 292.8L1144.0 292.7L1144.9 292.6L1145.8 292.5L1146.7 292.5L1147.6 292.6L1148.5 292.8L1149.4 293.0L1150.3 293.2L1151.2 293.4L1152.1 293.7L1153.0 294.0L1153.9 294.5L1154.8 295.2L1155.7 295.8L1156.6 296.4L1157.5 297.2L1158.4 298.3L1159.3 299.5L1160.2 300.9L1161.1 302.5L1162.0 304.0L1162.9 305.6L1163.8 307.1L1164.7 308.8L1165.6 310.7L1166.5 312.7L1167.4 314.9L1168.3 317.4L1169.2 320.3L1170.1 323.4L1171.0 326.9L1171.9 331.0L1172.8 335.6L1173.7 340.4L1174.6 345.4L1175.5 351.2L1176.4 358.0L1177.3 365.8L1178.2 374.5L1179.1 383.4L1180.0 387.2L1180.9 383.1L1181.8 377.4L1182.7 372.8L1183.6 368.0L1184.5 364.0L1185.4 362.6L1186.3 362.3L1187.2 361.8L1188.1 361.5L1189.0 361.4L1189.9 361.2L1190.8 361.2L1191.7 361.2L1192.6 361.3L1193.5 361.2L1194.4 361.2L1195.3 361.5L1196.2 361.5L1197.1 361.6L1198.0 361.9L1198.9 362.2L1199.8 362.3L1200.7 362.3L1201.6 362.0L1202.5 361.6L1203.4 361.5L1204.3 361.7L1205.2 363.5L1206.1 366.2L1207.0 369.4L1207.9 373.9L1208.8 376.8L1209.7 376.0L1210.6 373.3L1211.5 370.1L1212.4 366.7L1213.3 362.9L1214.2 359.1L1215.1 355.2L1216.0 351.8L1216.9 348.9L1217.8 345.8L1218.7 342.8L1219.6 340.4L1220.5 338.6L1221.4 337.1L1222.3 335.8L1223.2 334.8L1224.1 333.9L1225.0 333.1L1225.9 332.6L1226.8 332.8L1227.7 335.0L1228.6 337.7L1229.5 339.4L1230.4 338.8L1231.3 336.0L1232.2 332.6L1233.1 327.8L1234.0 322.9L1234.9 318.1L1235.8 313.5L1236.7 309.3L1237.6 305.4L1238.5 302.4L1239.4 300.5L1240.3 299.2L1241.2 298.1L1242.1 297.0L1243.0 296.1L1243.9 295.3L1244.8 294.6L1245.7 293.9L1246.6 293.2L1247.5 292.7L1248.4 292.4L1249.3 292.0L1250.2 291.7L1251.1 291.3L1252.0 290.8L1252.9 290.6L1253.8 290.4L1254.7 290.6L1255.6 290.8L1256.5 290.6L1257.4 290.6L1258.3 290.7L1259.2 290.8L1260.1 290.9L1261.0 291.2L1261.9 291.5L1262.8 291.5L1263.7 290.8L1264.6 289.8L1265.5 289.6L1266.4 289.7L1267.3 289.8L1268.2 289.9L1269.1 290.1L1270.0 290.1L1270.9 290.2L1271.8 290.5L1272.7 290.8L1273.6 291.0L1274.5 291.1L1275.4 291.3L1276.3 291.7L1277.2 292.1L1278.1 292.3L1279.0 292.6L1279.9 293.0L1280.8 293.4L1281.7 293.8L1282.6 294.2L1283.5 294.6L1284.4 294.9L1285.3 295.3L1286.2 295.8L1287.1 296.2L1288.0 296.7L1288.9 297.2L1289.8 297.7L1290.7 298.3L1291.6 298.8L1292.5 299.4L1293.4 300.1L1294.3 300.7L1295.2 301.3L1296.1 301.9L1297.0 302.6L1297.9 303.3L1298.8 304.1L1299.7 304.9L1300.6 305.8L1301.5 306.8L1302.4 307.8L1303.3 308.9L1304.2 310.2L1305.1 311.4L1306.0 312.8L1306.9 314.1L1307.8 315.6L1308.7 317.1L1309.6 318.7L1310.5 320.4L1311.4 322.2L1312.3 324.1L1313.2 326.0L1314.1 328.0L1315.0 330.0L1315.9 332.2L1316.8 334.6L1317.7 337.3L1318.6 339.8L1319.5 342.4L1320.4 345.0L1321.3 347.7L1322.2 350.4L1323.1 353.0L1324.0 355.5L1324.9 358.1L1325.8 360.7L1326.7 363.3L1327.6 365.9L1328.5 368.3L1329.4 370.7L1330.3 373.2L1331.2 375.3L1332.1 377.4L1333.0 379.5L1333.9 381.7L1334.8 384.2L1335.7 387.1L1336.6 390.4L1337.5 394.1L1338.4 398.1L1339.3 402.6L1340.2 407.9L1341.1 413.7L1342.0 420.2L1342.9 427.6L1343.8 435.0L1344.7 442.2L1345.6 449.4L1346.5 456.6L1347.4 464.0L1348.3 471.2L1349.2 477.8L1350.1 484.0L1351.0 488.2L1351.9 491.2L1352.8 492.0L1353.7 490.2L1354.6 487.5L1355.5 483.6L1356.4 478.6L1357.3 473.8L1358.2 469.9L1359.1 466.3L1360.0 463.0L1360.9 460.0L1361.8 457.4L1362.7 454.9L1363.6 452.8L1364.5 451.3L1365.4 450.4L1366.3 449.7L1367.2 449.6L1368.1 450.7L1369.0 452.5L1369.9 454.7L1370.8 458.3L1371.7 463.0L1372.6 468.5L1373.5 475.6L1374.4 483.6L1375.3 491.8L1376.2 500.8L1377.1 510.5L1378.0 521.5L1378.9 533.0L1379.8 543.8L1380.7 554.1L1381.6 562.6L1382.5 570.3L1383.4 574.0L1384.3 574.6L1385.2 575.0L1386.1 575.1L1387.0 574.6L1387.9 574.0L1388.8 574.2L1389.7 575.6L1390.6 577.7L1391.5 581.3L1392.4 586.3L1393.3 591.3L1394.2 596.8L1395.1 601.9L1396.0 605.3L1396.9 608.2L1397.8 610.4L1398.7 611.4L1399.6 611.2L1400.5 610.5L1401.4 609.4L1402.3 608.1L1403.2 606.3L1404.1 603.1L1405.0 599.1L1405.9 594.7L1406.8 590.5L1407.7 586.0L1408.6 581.2L1409.5 576.1L1410.4 570.7L1411.3 565.0L1412.2 559.0L1413.1 552.9L1414.0 546.5L1414.9 539.6L1415.8 532.4L1416.7 525.4L1417.6 518.8L1418.5 511.8L1419.4 505.8L1420.3 502.0L1421.2 499.8L1422.1 498.2L1423.0 496.3L1423.9 494.5L1424.8 491.9L1425.7 486.9L1426.6 480.7L1427.5 475.1L1428.4 469.6L1429.3 464.3L1430.2 459.6L1431.1 455.1L1432.0 451.0L1432.9 447.2L1433.8 444.0L1434.7 441.1L1435.6 438.6L1436.5 436.3L1437.4 434.2L1438.3 432.3L1439.2 430.7L1440.1 429.1L1441.0 427.7L1441.9 426.4L1442.8 425.3L1443.7 424.0L1444.6 422.9L1445.5 422.0L1446.4 421.7L1447.3 421.8L1448.2 422.0L1449.1 422.4L1450.0 423.2L1450.9 424.8L1451.8 426.8L1452.7 429.3L1453.6 432.5L1454.5 434.3L1455.4 433.4L1456.3 431.0L1457.2 428.7L1458.1 427.6L1459.0 427.0L1459.9 426.4L1460.8 425.8L1461.7 425.3L1462.6 424.9L1463.5 424.5L1464.4 424.2L1465.3 423.7L1466.2 423.3L1467.1 422.9L1468.0 422.5L1468.9 422.0L1469.8 421.4L1470.7 420.7L1471.6 419.9L1472.5 419.0L1473.4 417.6L1474.3 415.8L1475.2 413.8L1476.1 411.8L1477.0 410.0L1477.9 408.2L1478.8 406.4L1479.7 404.6L1480.6 402.8L1481.5 400.9L1482.4 399.1L1483.3 397.3L1484.2 395.6L1485.1 394.1L1486.0 392.6L1486.9 391.1L1487.8 389.7L1488.7 388.3L1489.6 387.0L1490.5 385.8L1491.4 385.0L1492.3 384.3L1493.2 383.8L1494.1 383.4L1495.0 383.2L1495.9 383.4L1496.8 383.9L1497.7 384.6L1498.6 385.5L1499.5 386.9L1500.4 389.6L1501.3 392.2L1502.2 393.2L1503.1 392.4L1504.0 390.9L1504.9 389.7L1505.8 389.2L1506.7 388.8L1507.6 388.7L1508.5 388.5L1509.4 388.5L1510.3 388.5L1511.2 388.5L1512.1 388.6L1513.0 388.7L1513.9 388.8L1514.8 388.9L1515.7 389.1L1516.6 389.5L1517.5 389.8L1518.4 390.3L1519.3 390.8L1520.2 391.5L1521.1 392.4L1522.0 393.6L1522.9 395.1L1523.8 397.4L1524.7 400.0L1525.6 402.5L1526.5 404.8L1527.4 407.4L1528.3 410.7L1529.2 415.8L1530.1 422.3L1531.0 429.9L1531.9 438.5L1532.8 446.2L1533.7 453.0L1534.6 458.5L1535.5 462.4L1536.4 460.6L1537.3 455.2L1538.2 449.9L1539.1 445.4L1540.0 441.7L1540.9 440.0L1541.8 439.0L1542.7 437.5L1543.6 434.2L1544.5 429.5L1545.4 425.0L1546.3 420.2L1547.2 415.6L1548.1 412.3L1549.0 409.2L1549.9 406.5L1550.8 404.9L1551.7 404.6L1552.6 405.3L1553.5 406.7L1554.4 408.4L1555.3 410.5L1556.2 413.9L1557.1 418.9L1558.0 425.2L1558.9 434.8L1559.8 445.9L1560.7 456.9L1561.6 468.9L1562.5 478.9L1563.4 485.6L1564.3 489.5L1565.2 486.8L1566.1 479.7L1567.0 472.3L1567.9 463.6L1568.8 455.7L1569.7 450.0L1570.6 445.2L1571.5 442.4L1572.4 440.7L1573.3 439.4L1574.2 438.8L1575.1 439.2L1576.0 440.8L1576.9 443.1L1577.8 446.4L1578.7 451.9L1579.6 458.5L1580.5 465.1L1581.4 472.9L1582.3 480.3L1583.2 485.6L1584.1 490.0L1585.0 491.8L1585.9 489.3L1586.8 484.4L1587.7 480.0L1588.6 476.4L1589.5 472.9L1590.4 469.8L1591.3 467.8L1592.2 466.4L1593.1 465.2L1594.0 464.2L1594.9 463.4L1595.8 462.8L1596.7 462.4L1597.6 462.2L1598.5 462.0L1599.4 461.8L1600.3 461.8L1601.2 461.9L1602.1 462.0L1603.0 462.3L1603.9 462.5L1604.8 462.8L1605.7 463.6L1606.6 465.4L1607.5 468.0L1608.4 470.9L1609.3 473.9L1610.2 477.9L1611.1 482.2L1612.0 485.4L1612.9 486.3L1613.8 484.6L1614.7 481.7L1615.6 479.0L1616.5 476.8L1617.4 474.6L1618.3 473.0L1619.2 472.6L1620.1 472.9L1621.0 473.5L1621.9 474.6L1622.8 477.5L1623.7 481.5L1624.6 486.4L1625.5 492.7L1626.4 499.7L1627.3 507.4L1628.2 515.8L1629.1 524.1L1630.0 533.0L1630.9 541.3L1631.8 547.4L1632.7 552.8L1633.6 554.5L1634.5 549.4L1635.4 540.4L1636.3 531.6L1637.2 521.6L1638.1 512.5L1639.0 506.8L1639.9 502.9L1640.8 504.1L1641.7 510.1L1642.6 517.0L1643.5 524.1L1644.4 531.9L1645.3 536.3L1646.2 534.0L1647.1 527.3L1648.0 520.3L1648.9 512.3L1649.8 503.7L1650.7 495.3L1651.6 486.5L1652.5 478.9L1653.4 473.1L1654.3 468.0L1655.2 465.0L1656.1 463.9L1657.0 463.2L1657.9 462.3L1658.8 460.7L1659.7 458.8" fill="none" stroke="#0000FF" stroke-width="3.2" stroke-linejoin="round" stroke-linecap="butt"/>
<path d="M86.3 370.1L87.2 370.2L88.1 370.6L89.0 370.4L89.9 370.0L90.8 370.4L91.7 370.9L92.6 371.0L93.5 371.0L94.4 371.0L95.3 370.9L96.2 371.1L97.1 371.3L98.0 371.5L98.9 371.6L99.8 371.6L100.7 371.4L101.6 370.8L102.5 370.6L103.4 371.2L104.3 371.5L105.2 371.7L106.1 371.9L107.0 371.8L107.9 371.7L108.8 372.0L109.7 372.2L110.6 372.3L111.5 372.2L112.4 372.2L113.3 372.5L114.2 372.5L115.1 372.5L116.0 372.6L116.9 372.5L117.8 372.0L118.7 371.8L119.6 372.0L120.5 372.2L121.4 372.4L122.3 372.9L123.2 372.9L124.1 372.7L125.0 372.5L125.9 372.4L126.8 372.8L127.7 373.2L128.6 373.3L129.5 373.5L130.4 373.5L131.3 373.2L132.2 373.2L133.1 373.5L134.0 373.5L134.9 373.5L135.8 373.4L136.7 373.5L137.6 373.6L138.5 373.7L139.4 374.0L140.3 374.1L141.2 373.7L142.1 373.4L143.0 373.7L143.9 374.3L144.8 374.4L145.7 374.1L146.6 373.8L147.5 374.1L148.4 374.6L149.3 374.3L150.2 374.2L151.1 374.1L152.0 374.1L152.9 374.4L153.8 374.5L154.7 374.4L155.6 374.6L156.5 374.5L157.4 374.5L158.3 374.9L159.2 375.0L160.1 375.0L161.0 374.9L161.9 374.6L162.8 374.4L163.7 374.5L164.6 374.9L165.5 374.8L166.4 374.3L167.3 374.5L168.2 374.9L169.1 374.9L170.0 374.7L170.9 375.3L171.8 375.9L172.7 375.8L173.6 375.6L174.5 375.4L175.4 375.3L176.3 375.3L177.2 375.6L178.1 376.0L179.0 376.0L179.9 376.0L180.8 375.9L181.7 375.7L182.6 375.7L183.5 375.9L184.4 376.2L185.3 376.5L186.2 376.7L187.1 376.7L188.0 376.8L188.9 377.2L189.8 377.6L190.7 377.6L191.6 377.4L192.5 377.5L193.4 377.8L194.3 377.6L195.2 377.5L196.1 378.0L197.0 378.6L197.9 378.7L198.8 378.7L199.7 378.9L200.6 379.0L201.5 379.4L202.4 379.6L203.3 379.6L204.2 379.9L205.1 380.1L206.0 380.5L206.9 380.9L207.8 380.7L208.7 380.9L209.6 381.6L210.5 382.2L211.4 382.6L212.3 383.0L213.2 383.5L214.1 384.1L215.0 384.7L215.9 385.5L216.8 386.4L217.7 387.3L218.6 388.2L219.5 389.2L220.4 390.4L221.3 391.7L222.2 393.0L223.1 394.2L224.0 395.6L224.9 397.1L225.8 398.5L226.7 399.8L227.6 401.0L228.5 402.5L229.4 404.3L230.3 405.7L231.2 407.0L232.1 408.6L233.0 410.2L233.9 411.5L234.8 412.6L235.7 413.9L236.6 415.5L237.5 417.2L238.4 418.7L239.3 420.0L240.2 420.9L241.1 422.2L242.0 424.0L242.9 425.6L243.8 426.8L244.7 428.1L245.6 429.7L246.5 430.9L247.4 432.0L248.3 432.8L249.2 433.7L250.1 434.6L251.0 435.3L251.9 436.0L252.8 436.9L253.7 437.7L254.6 438.3L255.5 439.2L256.4 440.1L257.3 440.8L258.2 441.1L259.1 441.4L260.0 441.8L260.9 442.6L261.8 443.7L262.7 444.3L263.6 444.3L264.5 444.6L265.4 445.4L266.3 446.0L267.2 446.5L268.1 447.2L269.0 447.4L269.9 447.8L270.8 448.4L271.7 448.9L272.6 449.6L273.5 450.4L274.4 450.8L275.3 451.3L276.2 452.0L277.1 452.4L278.0 452.7L278.9 453.0L279.8 453.6L280.7 454.4L281.6 454.8L282.5 455.1L283.4 455.6L284.3 456.2L285.2 456.9L286.1 457.2L287.0 457.1L287.9 457.4L288.8 457.9L289.7 458.4L290.6 458.5L291.5 458.7L292.4 459.1L293.3 459.3L294.2 459.5L295.1 459.7L296.0 459.9L296.9 460.3L297.8 460.8L298.7 461.1L299.6 461.3L300.5 461.5L301.4 461.8L302.3 462.0L303.2 462.0L304.1 462.1L305.0 462.5L305.9 462.7L306.8 462.9L307.7 463.0L308.6 463.1L309.5 463.3L310.4 463.4L311.3 463.5L312.2 463.8L313.1 464.0L314.0 464.0L314.9 464.1L315.8 464.2L316.7 464.3L317.6 464.4L318.5 464.6L319.4 464.7L320.3 464.6L321.2 464.6L322.1 464.5L323.0 464.4L323.9 464.3L324.8 464.2L325.7 464.1L326.6 463.9L327.5 463.6L328.4 463.4L329.3 463.2L330.2 463.0L331.1 462.9L332.0 462.7L332.9 462.5L333.8 462.2L334.7 461.9L335.6 461.6L336.5 461.3L337.4 461.0L338.3 460.5L339.2 460.0L340.1 459.5L341.0 459.1L341.9 458.5L342.8 457.9L343.7 457.4L344.6 456.8L345.5 456.1L346.4 455.4L347.3 454.8L348.2 454.2L349.1 453.5L350.0 452.9L350.9 452.1L351.8 451.4L352.7 450.7L353.6 450.0L354.5 449.3L355.4 448.7L356.3 447.9L357.2 447.2L358.1 446.5L359.0 445.8L359.9 445.1L360.8 444.3L361.7 443.5L362.6 442.7L363.5 442.0L364.4 441.4L365.3 440.6L366.2 439.9L367.1 439.2L368.0 438.5L368.9 437.9L369.8 437.2L370.7 436.5L371.6 435.8L372.5 435.3L373.4 434.7L374.3 434.1L375.2 433.4L376.1 432.7L377.0 432.1L377.9 431.5L378.8 430.9L379.7 430.3L380.6 429.7L381.5 429.2L382.4 428.6L383.3 428.0L384.2 427.5L385.1 426.9L386.0 426.4L386.9 425.9L387.8 425.3L388.7 424.8L389.6 424.3L390.5 423.7L391.4 423.1L392.3 422.7L393.2 422.3L394.1 421.9L395.0 421.4L395.9 420.9L396.8 420.5L397.7 420.1L398.6 419.6L399.5 419.2L400.4 418.8L401.3 418.5L402.2 418.2L403.1 417.8L404.0 417.5L404.9 417.2L405.9 416.9L406.8 416.6L407.7 416.4L408.6 416.2L409.5 416.0L410.4 415.7L411.3 415.4L412.2 415.2L413.1 415.1L414.0 415.0L414.9 414.7L415.8 414.6L416.7 414.4L417.6 414.1L418.5 413.8L419.4 413.4L420.3 413.1L421.2 412.8L422.1 412.4L423.0 411.9L423.9 411.5L424.8 411.1L425.7 410.7L426.6 410.3L427.5 410.0L428.4 409.6L429.3 409.2L430.2 408.7L431.1 408.3L432.0 407.9L432.9 407.5L433.8 407.1L434.7 406.8L435.6 406.4L436.5 406.0L437.4 405.6L438.3 405.2L439.2 404.8L440.1 404.4L441.0 404.0L441.9 403.6L442.8 403.3L443.7 403.0L444.6 402.5L445.5 402.2L446.4 401.9L447.3 401.5L448.2 401.1L449.1 400.8L450.0 400.4L450.9 400.1L451.8 399.7L452.7 399.4L453.6 399.1L454.5 398.7L455.4 398.4L456.3 398.1L457.2 397.9L458.1 397.6L459.0 397.2L459.9 396.9L460.8 396.6L461.7 396.4L462.6 396.0L463.5 395.7L464.4 395.4L465.3 395.3L466.2 395.1L467.1 394.8L468.0 394.5L468.9 394.2L469.8 394.0L470.7 393.9L471.6 393.6L472.5 393.4L473.4 393.2L474.3 393.0L475.2 392.9L476.1 392.6L477.0 392.4L477.9 392.2L478.8 392.0L479.7 391.8L480.6 391.6L481.5 391.4L482.4 391.3L483.3 391.2L484.2 391.0L485.1 390.7L486.0 390.5L486.9 390.4L487.8 390.3L488.7 390.1L489.6 389.9L490.5 389.8L491.4 389.7L492.3 389.5L493.2 389.5L494.1 389.4L495.0 389.2L495.9 389.0L496.8 388.8L497.7 388.7L498.6 388.6L499.5 388.6L500.4 388.4L501.3 388.4L502.2 388.3L503.1 388.2L504.0 388.1L504.9 388.0L505.8 387.9L506.7 387.9L507.6 387.8L508.5 387.7L509.4 387.6L510.3 387.5L511.2 387.3L512.1 387.2L513.0 387.1L513.9 387.2L514.8 387.2L515.7 387.1L516.6 386.9L517.5 386.8L518.4 386.9L519.3 386.9L520.2 386.8L521.1 386.7L522.0 386.7L522.9 386.7L523.8 386.6L524.7 386.7L525.6 386.8L526.5 386.9L527.4 386.8L528.3 386.7L529.2 386.7L530.1 386.8L531.0 386.8L531.9 386.8L532.8 386.7L533.7 386.7L534.6 386.8L535.5 386.8L536.4 386.8L537.3 386.9L538.2 386.8L539.1 386.7L540.0 386.7L540.9 386.7L541.8 386.7L542.7 386.7L543.6 386.8L544.5 386.8L545.4 386.8L546.3 386.9L547.2 387.0L548.1 387.1L549.0 387.2L549.9 387.5L550.8 387.7L551.7 387.8L552.6 387.9L553.5 388.0L554.4 388.2L555.3 388.3L556.2 388.2L557.1 388.0L558.0 387.7L558.9 387.5L559.8 387.2L560.7 386.9L561.6 386.4L562.5 386.0L563.4 385.7L564.3 385.3L565.2 385.2L566.1 385.0L567.0 385.0L567.9 385.0L568.8 384.9L569.7 384.8L570.6 384.7L571.5 384.6L572.4 384.5L573.3 384.5L574.2 384.4L575.1 384.3L576.0 384.3L576.9 384.2L577.8 384.1L578.7 384.1L579.6 384.0L580.5 384.0L581.4 384.0L582.3 384.0L583.2 384.0L584.1 384.1L585.0 384.0L585.9 384.0L586.8 384.1L587.7 384.1L588.6 383.8L589.5 383.5L590.4 383.1L591.3 382.6L592.2 382.2L593.1 381.8L594.0 381.3L594.9 380.9L595.8 380.5L596.7 380.3L597.6 380.1L598.5 380.0L599.4 379.9L600.3 379.7L601.2 379.5L602.1 379.5L603.0 379.5L603.9 379.4L604.8 379.4L605.7 379.2L606.6 379.0L607.5 378.9L608.4 378.9L609.3 378.8L610.2 378.7L611.1 378.6L612.0 378.5L612.9 378.4L613.8 378.3L614.7 378.2L615.6 378.1L616.5 378.1L617.4 378.1L618.3 378.0L619.2 377.9L620.1 377.9L621.0 377.9L621.9 377.8L622.8 377.8L623.7 377.7L624.6 377.7L625.5 377.6L626.4 377.6L627.3 377.6L628.2 377.6L629.1 377.4L630.0 377.3L630.9 377.3L631.8 377.4L632.7 377.4L633.6 377.2L634.5 377.1L635.4 377.1L636.3 377.1L637.2 377.0L638.1 377.0L639.0 377.0L639.9 376.9L640.8 376.9L641.7 376.8L642.6 376.8L643.5 376.7L644.4 376.7L645.3 376.6L646.2 376.6L647.1 376.5L648.0 376.4L648.9 376.4L649.8 376.4L650.7 376.4L651.6 376.4L652.5 376.4L653.4 376.4L654.3 376.4L655.2 376.3L656.1 376.2L657.0 376.1L657.9 376.1L658.8 376.0L659.7 375.9L660.6 375.9L661.5 376.0L662.4 376.0L663.3 375.9L664.2 375.9L665.1 375.9L666.0 375.9L666.9 375.9L667.8 375.8L668.7 375.8L669.6 375.8L670.5 375.7L671.4 375.7L672.3 375.7L673.2 375.6L674.1 375.5L675.0 375.6L675.9 375.6L676.8 375.5L677.7 375.4L678.6 375.4L679.5 375.5L680.4 375.4L681.3 375.3L682.2 375.2L683.1 375.3L684.0 375.3L684.9 375.3L685.8 375.3L686.7 375.3L687.6 375.2L688.5 375.1L689.4 375.1L690.3 375.1L691.2 375.0L692.1 375.0L693.0 374.9L693.9 374.9L694.8 374.9L695.7 374.9L696.6 374.8L697.5 374.8L698.4 374.8L699.3 374.8L700.2 374.8L701.1 374.8L702.0 374.8L702.9 374.7L703.8 374.6L704.7 374.5L705.6 374.5L706.5 374.5L707.4 374.5L708.3 374.5L709.2 374.6L710.1 374.5L711.0 374.4L711.9 374.4L712.8 374.5L713.7 374.4L714.6 374.4L715.5 374.3L716.4 374.3L717.3 374.3L718.2 374.3L719.1 374.3L720.0 374.3L720.9 374.2L721.8 374.2L722.7 374.1L723.6 374.1L724.5 374.0L725.4 374.0L726.3 374.1L727.2 374.1L728.1 374.0L729.0 374.0L729.9 374.0L730.8 374.0L731.7 374.0L732.6 373.9L733.5 373.8L734.4 373.8L735.3 373.8L736.2 373.9L737.1 373.9L738.0 373.8L738.9 373.8L739.8 373.8L740.7 373.8L741.6 373.7L742.5 373.7L743.4 373.7L744.3 373.7L745.2 373.6L746.1 373.6L747.0 373.6L747.9 373.5L748.8 373.4L749.7 373.4L750.6 373.5L751.5 373.5L752.4 373.5L753.3 373.4L754.2 373.3L755.1 373.4L756.0 373.3L756.9 373.3L757.8 373.3L758.7 373.4L759.6 373.2L760.5 373.2L761.4 373.2L762.3 373.2L763.2 373.2L764.1 373.3L765.0 373.3L765.9 373.2L766.8 373.1L767.7 373.1L768.6 373.1L769.5 373.1L770.4 373.1L771.3 373.1L772.2 373.0L773.1 372.9L774.0 372.9L774.9 372.9L775.8 372.9L776.7 373.0L777.6 373.0L778.5 372.9L779.4 372.9L780.3 372.8L781.2 372.8L782.1 372.8L783.0 372.7L783.9 372.8L784.8 372.8L785.7 372.7L786.6 372.7L787.5 372.7L788.4 372.7L789.3 372.6L790.2 372.5L791.1 372.6L792.0 372.6L792.9 372.5L793.8 372.5L794.7 372.5L795.6 372.5L796.5 372.5L797.4 372.5L798.3 372.4L799.2 372.4L800.1 372.5L801.0 372.4L801.9 372.4L802.8 372.3L803.7 372.3L804.6 372.3L805.5 372.3L806.4 372.2L807.3 372.1L808.2 372.2L809.1 372.2L810.0 372.1L810.9 372.1L811.8 372.1L812.7 372.2L813.6 372.2L814.5 372.1L815.4 372.1L816.3 372.1L817.2 372.2L818.1 372.1L819.0 372.0L819.9 372.0L820.8 372.0L821.7 371.9L822.6 371.8L823.5 371.9L824.4 371.9L825.3 371.9L826.2 371.9L827.1 371.9L828.0 371.9L828.9 371.8L829.8 371.8L830.7 371.7L831.6 371.7L832.5 371.7L833.4 371.7L834.3 371.7L835.2 371.7L836.1 371.7L837.0 371.6L837.9 371.5L838.8 371.5L839.7 371.6L840.6 371.7L841.5 371.6L842.4 371.5L843.3 371.5L844.2 371.4L845.1 371.4L846.0 371.4L846.9 371.4L847.8 371.4L848.7 371.5L849.6 371.4L850.5 371.3L851.4 371.3L852.3 371.3L853.2 371.2L854.1 371.1L855.0 371.2L855.9 371.2L856.8 371.2L857.7 371.2L858.6 371.1L859.5 371.1L860.4 371.1L861.3 371.1L862.2 371.1L863.1 371.0L864.0 371.0L864.9 370.9L865.8 370.9L866.7 370.9L867.6 370.9L868.5 370.9L869.4 370.9L870.3 370.9L871.2 370.8L872.1 370.8L873.0 370.8L873.9 370.8L874.8 370.7L875.7 370.7L876.6 370.8L877.5 370.8L878.4 370.8L879.3 370.7L880.2 370.8L881.1 370.8L882.0 370.7L882.9 370.7L883.8 370.8L884.7 370.9L885.6 370.9L886.5 370.9L887.4 370.9L888.3 370.9L889.2 370.9L890.1 371.0L891.0 371.0L891.9 371.1L892.8 371.1L893.7 371.2L894.6 371.3L895.5 371.4L896.4 371.4L897.3 371.4L898.2 371.5L899.1 371.6L900.0 371.6L900.9 371.8L901.8 371.8L902.7 371.9L903.6 371.9L904.5 372.0L905.4 372.0L906.3 372.0L907.2 372.1L908.1 372.3L909.0 372.4L909.9 372.4L910.8 372.5L911.7 372.5L912.6 372.4L913.5 372.4L914.4 372.4L915.3 372.5L916.2 372.4L917.1 372.3L918.0 372.3L918.9 372.4L919.8 372.3L920.7 372.3L921.6 372.3L922.5 372.3L923.4 372.3L924.3 372.2L925.2 372.1L926.1 372.1L927.0 372.1L927.9 372.1L928.8 372.0L929.7 372.0L930.6 372.1L931.5 372.0L932.4 372.0L933.3 371.9L934.2 371.8L935.1 371.9L936.0 371.8L936.9 371.8L937.8 371.8L938.7 371.8L939.6 371.7L940.5 371.7L941.4 371.7L942.3 371.6L943.2 371.5L944.1 371.5L945.0 371.5L945.9 371.6L946.8 371.5L947.7 371.5L948.6 371.6L949.5 371.6L950.4 371.6L951.3 371.6L952.2 371.6L953.1 371.5L954.0 371.7L954.9 371.8L955.8 371.9L956.7 372.0L957.6 372.2L958.5 372.3L959.4 372.4L960.3 372.4L961.2 372.6L962.1 372.9L963.0 373.0L963.9 373.1L964.8 373.2L965.7 373.4L966.6 373.4L967.5 373.5L968.4 373.5L969.3 373.5L970.2 373.5L971.1 373.5L972.0 373.4L972.9 373.3L973.8 373.2L974.7 373.0L975.6 372.9L976.5 372.8L977.4 372.7L978.3 372.7L979.2 372.6L980.1 372.5L981.0 372.4L981.9 372.4L982.8 372.4L983.7 372.4L984.6 372.4L985.5 372.3L986.4 372.3L987.3 372.3L988.2 372.3L989.1 372.2L990.0 372.2L990.9 372.2L991.8 372.1L992.7 372.1L993.6 372.1L994.5 372.1L995.4 372.1L996.3 372.1L997.2 372.0L998.1 372.0L999.0 372.1L999.9 372.0L1000.8 372.0L1001.7 372.1L1002.6 372.1L1003.5 372.0L1004.4 371.9L1005.3 372.0L1006.2 372.1L1007.1 372.2L1008.0 372.2L1008.9 372.2L1009.8 372.2L1010.7 372.2L1011.6 372.1L1012.5 372.2L1013.4 372.2L1014.3 372.3L1015.2 372.3L1016.1 372.3L1017.0 372.5L1017.9 372.5L1018.8 372.6L1019.7 372.6L1020.6 372.7L1021.5 372.8L1022.4 372.9L1023.3 372.9L1024.2 372.9L1025.1 373.0L1026.0 373.1L1026.9 373.1L1027.8 373.1L1028.7 373.3L1029.6 373.4L1030.5 373.5L1031.4 373.6L1032.3 373.7L1033.2 373.9L1034.1 374.0L1035.0 374.1L1035.9 374.4L1036.8 374.5L1037.7 374.6L1038.6 374.7L1039.5 374.9L1040.4 375.1L1041.3 375.3L1042.2 375.7L1043.1 376.1L1044.0 376.5L1044.9 377.0L1045.8 377.4L1046.7 377.6L1047.6 377.8L1048.5 378.0L1049.4 378.0L1050.3 377.9L1051.2 377.8L1052.1 377.6L1053.0 377.4L1053.9 377.2L1054.8 377.1L1055.7 377.0L1056.6 377.0L1057.5 376.9L1058.4 377.0L1059.3 377.3L1060.2 377.5L1061.1 377.9L1062.0 378.3L1062.9 378.6L1063.8 379.0L1064.7 379.4L1065.6 379.7L1066.6 380.0L1067.5 380.3L1068.4 380.8L1069.3 381.2L1070.2 381.4L1071.1 381.7L1072.0 381.9L1072.9 382.0L1073.8 382.2L1074.7 382.4L1075.6 382.5L1076.5 382.8L1077.4 383.0L1078.3 383.1L1079.2 383.2L1080.1 383.4L1081.0 383.7L1081.9 383.9L1082.8 384.0L1083.7 384.2L1084.6 384.5L1085.5 384.8L1086.4 385.0L1087.3 385.2L1088.2 385.5L1089.1 385.8L1090.0 386.2L1090.9 386.6L1091.8 387.0L1092.7 387.4L1093.6 387.8L1094.5 388.2L1095.4 388.6L1096.3 389.2L1097.2 389.8L1098.1 390.3L1099.0 390.7L1099.9 391.3L1100.8 392.0L1101.7 392.7L1102.6 393.4L1103.5 394.1L1104.4 394.8L1105.3 395.6L1106.2 396.4L1107.1 397.2L1108.0 397.9L1108.9 398.7L1109.8 399.7L1110.7 400.5L1111.6 401.3L1112.5 402.2L1113.4 403.2L1114.3 404.2L1115.2 405.1L1116.1 405.9L1117.0 406.8L1117.9 407.6L1118.8 408.4L1119.7 409.0L1120.6 409.4L1121.5 409.7L1122.4 410.0L1123.3 409.7L1124.2 408.9L1125.1 408.1L1126.0 407.4L1126.9 406.7L1127.8 406.1L1128.7 405.7L1129.6 405.1L1130.5 404.7L1131.4 404.5L1132.3 404.5L1133.2 404.3L1134.1 404.2L1135.0 404.0L1135.9 403.8L1136.8 403.9L1137.7 404.0L1138.6 404.0L1139.5 403.9L1140.4 404.0L1141.3 404.2L1142.2 404.5L1143.1 404.7L1144.0 405.0L1144.9 405.3L1145.8 405.8L1146.7 406.2L1147.6 406.7L1148.5 407.4L1149.4 408.1L1150.3 408.8L1151.2 409.6L1152.1 410.3L1153.0 411.0L1153.9 412.0L1154.8 413.1L1155.7 414.3L1156.6 415.7L1157.5 417.3L1158.4 418.9L1159.3 420.6L1160.2 422.4L1161.1 424.3L1162.0 426.2L1162.9 428.3L1163.8 430.8L1164.7 433.4L1165.6 436.2L1166.5 439.4L1167.4 443.0L1168.3 446.9L1169.2 451.3L1170.1 456.1L1171.0 461.6L1171.9 467.8L1172.8 474.3L1173.7 481.2L1174.6 488.8L1175.5 497.9L1176.4 508.8L1177.3 523.5L1178.2 536.2L1179.1 539.6L1180.0 535.0L1180.9 528.2L1181.8 522.2L1182.7 518.1L1183.6 514.4L1184.5 509.1L1185.4 505.4L1186.3 505.3L1187.2 505.4L1188.1 505.3L1189.0 505.1L1189.9 504.7L1190.8 504.1L1191.7 503.4L1192.6 502.6L1193.5 501.7L1194.4 500.9L1195.3 500.2L1196.2 499.8L1197.1 500.1L1198.0 500.9L1198.9 501.4L1199.8 501.0L1200.7 500.3L1201.6 500.0L1202.5 500.5L1203.4 501.6L1204.3 503.2L1205.2 505.9L1206.1 509.0L1207.0 511.4L1207.9 513.9L1208.8 515.4L1209.7 514.9L1210.6 512.8L1211.5 510.1L1212.4 507.0L1213.3 503.3L1214.2 499.3L1215.1 494.8L1216.0 490.2L1216.9 485.7L1217.8 481.2L1218.7 476.8L1219.6 473.2L1220.5 471.0L1221.4 469.2L1222.3 467.6L1223.2 466.4L1224.1 465.4L1225.0 464.5L1225.9 463.9L1226.8 463.8L1227.7 465.1L1228.6 466.8L1229.5 468.6L1230.4 471.2L1231.3 472.0L1232.2 469.7L1233.1 465.8L1234.0 459.0L1234.9 448.7L1235.8 440.6L1236.7 433.5L1237.6 427.4L1238.5 422.1L1239.4 417.1L1240.3 413.5L1241.2 411.3L1242.1 409.8L1243.0 408.6L1243.9 407.4L1244.8 406.3L1245.7 405.3L1246.6 404.7L1247.5 404.0L1248.4 403.4L1249.3 402.9L1250.2 402.3L1251.1 401.9L1252.0 401.6L1252.9 401.3L1253.8 400.9L1254.7 400.6L1255.6 400.4L1256.5 400.1L1257.4 400.1L1258.3 400.1L1259.2 400.2L1260.1 400.3L1261.0 400.5L1261.9 400.7L1262.8 400.9L1263.7 401.1L1264.6 401.2L1265.5 401.3L1266.4 401.5L1267.3 401.8L1268.2 402.0L1269.1 402.2L1270.0 402.5L1270.9 402.9L1271.8 403.3L1272.7 403.7L1273.6 404.1L1274.5 404.5L1275.4 405.1L1276.3 405.6L1277.2 406.1L1278.1 406.6L1279.0 407.2L1279.9 407.7L1280.8 408.3L1281.7 408.8L1282.6 409.5L1283.5 410.1L1284.4 410.8L1285.3 411.5L1286.2 412.3L1287.1 413.1L1288.0 413.9L1288.9 414.8L1289.8 415.7L1290.7 416.7L1291.6 417.7L1292.5 418.7L1293.4 419.8L1294.3 420.8L1295.2 421.9L1296.1 423.0L1297.0 424.2L1297.9 425.5L1298.8 426.8L1299.7 428.2L1300.6 429.7L1301.5 431.4L1302.4 433.3L1303.3 435.3L1304.2 437.3L1305.1 439.5L1306.0 441.8L1306.9 444.2L1307.8 446.7L1308.7 449.4L1309.6 452.1L1310.5 455.0L1311.4 457.9L1312.3 460.9L1313.2 464.0L1314.1 467.1L1315.0 470.3L1315.9 473.6L1316.8 476.9L1317.7 480.5L1318.6 484.1L1319.5 487.7L1320.4 491.4L1321.3 495.1L1322.2 498.8L1323.1 502.6L1324.0 506.4L1324.9 510.1L1325.8 513.5L1326.7 516.7L1327.6 519.7L1328.5 522.6L1329.4 525.5L1330.3 528.4L1331.2 531.1L1332.1 533.6L1333.0 536.2L1333.9 538.9L1334.8 541.7L1335.7 544.8L1336.6 548.1L1337.5 551.7L1338.4 555.7L1339.3 560.2L1340.2 565.3L1341.1 571.2L1342.0 577.8L1342.9 585.2L1343.8 592.6L1344.7 599.8L1345.6 607.1L1346.5 614.3L1347.4 621.8L1348.3 629.1L1349.2 635.3L1350.1 640.8L1351.0 644.5L1351.9 646.9L1352.8 647.6L1353.7 646.1L1354.6 643.8L1355.5 640.5L1356.4 635.9L1357.3 631.3L1358.2 627.3L1359.1 623.4L1360.0 619.7L1360.9 616.5L1361.8 613.8L1362.7 611.3L1363.6 609.2L1364.5 607.7L1365.4 606.7L1366.3 606.0L1367.2 606.1L1368.1 607.1L1369.0 608.8L1369.9 611.0L1370.8 614.6L1371.7 619.3L1372.6 624.6L1373.5 631.2L1374.4 638.7L1375.3 646.8L1376.2 655.9L1377.1 665.5L1378.0 675.7L1378.9 685.9L1379.8 695.0L1380.7 703.4L1381.6 709.2L1382.5 713.4L1383.4 715.3L1384.3 715.5L1385.2 715.6L1386.1 715.6L1387.0 714.9L1387.9 714.1L1388.8 714.3L1389.7 716.0L1390.6 717.7L1391.5 718.7L1392.4 719.7L1393.3 722.3L1394.2 726.6L1395.1 730.0L1396.0 732.2L1396.9 734.0L1397.8 735.0L1398.7 734.9L1399.6 734.2L1400.5 733.1L1401.4 731.8L1402.3 730.4L1403.2 729.1L1404.1 727.7L1405.0 726.0L1405.9 724.1L1406.8 722.0L1407.7 719.7L1408.6 716.8L1409.5 713.4L1410.4 709.5L1411.3 705.4L1412.2 701.0L1413.1 696.3L1414.0 691.4L1414.9 686.3L1415.8 680.8L1416.7 674.7L1417.6 668.8L1418.5 664.0L1419.4 660.9L1420.3 658.6L1421.2 656.6L1422.1 655.3L1423.0 654.2L1423.9 652.6L1424.8 648.2L1425.7 641.9L1426.6 636.1L1427.5 630.6L1428.4 624.9L1429.3 619.5L1430.2 614.6L1431.1 610.0L1432.0 605.6L1432.9 601.5L1433.8 597.8L1434.7 594.5L1435.6 591.3L1436.5 588.3L1437.4 585.6L1438.3 583.2L1439.2 580.9L1440.1 578.7L1441.0 576.9L1441.9 575.6L1442.8 574.3L1443.7 573.4L1444.6 572.8L1445.5 572.7L1446.4 572.9L1447.3 573.3L1448.2 573.8L1449.1 574.8L1450.0 576.7L1450.9 579.0L1451.8 581.6L1452.7 585.5L1453.6 589.4L1454.5 591.4L1455.4 590.8L1456.3 589.5L1457.2 588.4L1458.1 588.0L1459.0 587.9L1459.9 587.8L1460.8 587.8L1461.7 587.6L1462.6 587.3L1463.5 586.8L1464.4 586.5L1465.3 586.4L1466.2 586.6L1467.1 587.0L1468.0 587.5L1468.9 587.7L1469.8 587.6L1470.7 587.3L1471.6 586.9L1472.5 586.5L1473.4 585.8L1474.3 584.7L1475.2 583.4L1476.1 581.9L1477.0 580.2L1477.9 578.2L1478.8 575.9L1479.7 573.6L1480.6 571.5L1481.5 569.4L1482.4 567.3L1483.3 565.2L1484.2 563.1L1485.1 561.0L1486.0 558.8L1486.9 556.7L1487.8 554.7L1488.7 552.7L1489.6 550.7L1490.5 548.9L1491.4 547.5L1492.3 546.5L1493.2 545.5L1494.1 544.8L1495.0 544.4L1495.9 544.4L1496.8 544.5L1497.7 544.7L1498.6 545.0L1499.5 545.6L1500.4 547.2L1501.3 548.7L1502.2 549.4L1503.1 548.3L1504.0 546.2L1504.9 544.2L1505.8 543.0L1506.7 541.9L1507.6 541.0L1508.5 540.3L1509.4 539.8L1510.3 539.4L1511.2 539.1L1512.1 538.8L1513.0 538.7L1513.9 538.6L1514.8 538.7L1515.7 538.7L1516.6 538.9L1517.5 539.2L1518.4 539.4L1519.3 539.8L1520.2 540.7L1521.1 542.0L1522.0 543.6L1522.9 545.9L1523.8 549.1L1524.7 552.5L1525.6 555.2L1526.5 557.5L1527.4 559.9L1528.3 563.4L1529.2 569.7L1530.1 577.2L1531.0 584.5L1531.9 591.9L1532.8 598.9L1533.7 606.0L1534.6 611.2L1535.5 613.8L1536.4 611.6L1537.3 605.6L1538.2 599.9L1539.1 595.4L1540.0 591.8L1540.9 589.7L1541.8 588.3L1542.7 586.2L1543.6 581.0L1544.5 573.3L1545.4 565.5L1546.3 556.8L1547.2 548.4L1548.1 542.2L1549.0 536.9L1549.9 533.2L1550.8 531.4L1551.7 530.3L1552.6 530.3L1553.5 531.7L1554.4 534.0L1555.3 536.9L1556.2 542.3L1557.1 550.0L1558.0 558.5L1558.9 569.0L1559.8 580.6L1560.7 592.4L1561.6 605.2L1562.5 616.2L1563.4 624.7L1564.3 630.1L1565.2 626.4L1566.1 616.6L1567.0 606.1L1567.9 592.9L1568.8 581.2L1569.7 573.5L1570.6 567.4L1571.5 563.6L1572.4 561.2L1573.3 559.4L1574.2 558.5L1575.1 558.8L1576.0 560.0L1576.9 561.9L1577.8 565.3L1578.7 571.9L1579.6 580.1L1580.5 588.3L1581.4 597.9L1582.3 607.1L1583.2 614.4L1584.1 621.2L1585.0 623.8L1585.9 620.3L1586.8 613.6L1587.7 607.5L1588.6 602.7L1589.5 597.9L1590.4 593.6L1591.3 590.5L1592.2 588.1L1593.1 586.0L1594.0 584.3L1594.9 583.4L1595.8 583.4L1596.7 583.4L1597.6 583.3L1598.5 583.3L1599.4 583.4L1600.3 583.7L1601.2 584.2L1602.1 584.8L1603.0 585.5L1603.9 586.3L1604.8 587.6L1605.7 589.4L1606.6 591.7L1607.5 594.6L1608.4 598.9L1609.3 605.0L1610.2 610.3L1611.1 614.3L1612.0 617.5L1612.9 618.2L1613.8 615.4L1614.7 611.5L1615.6 609.3L1616.5 607.8L1617.4 606.7L1618.3 606.4L1619.2 606.8L1620.1 607.9L1621.0 609.3L1621.9 611.4L1622.8 615.7L1623.7 621.2L1624.6 627.3L1625.5 634.5L1626.4 642.4L1627.3 651.1L1628.2 660.5L1629.1 669.2L1630.0 677.4L1630.9 684.6L1631.8 689.4L1632.7 693.2L1633.6 694.3L1634.5 689.0L1635.4 680.1L1636.3 672.2L1637.2 663.8L1638.1 656.8L1639.0 653.1L1639.9 650.9L1640.8 652.3L1641.7 658.3L1642.6 664.7L1643.5 670.1L1644.4 675.5L1645.3 678.4L1646.2 676.6L1647.1 671.5L1648.0 665.5L1648.9 657.7L1649.8 648.9L1650.7 640.5L1651.6 631.7L1652.5 624.0L1653.4 618.1L1654.3 613.1L1655.2 610.1L1656.1 609.1L1657.0 608.4L1657.9 607.4L1658.8 605.5L1659.7 603.1" fill="none" stroke="#006400" stroke-width="3.2" stroke-linejoin="round" stroke-linecap="butt"/>
<path d="M86.3 481.3L87.2 481.4L88.1 481.0L89.0 480.5L89.9 480.3L90.8 480.8L91.7 481.5L92.6 481.9L93.5 481.1L94.4 480.1L95.3 480.1L96.2 480.1L97.1 480.9L98.0 481.7L98.9 481.0L99.8 480.9L100.7 482.0L101.6 482.4L102.5 481.8L103.4 481.2L104.3 480.9L105.2 481.1L106.1 481.6L107.0 481.6L107.9 481.3L108.8 481.2L109.7 480.9L110.6 480.9L111.5 481.4L112.4 481.9L113.3 481.9L114.2 481.4L115.1 481.0L116.0 481.4L116.9 481.7L117.8 482.2L118.7 482.5L119.6 482.1L120.5 482.5L121.4 482.8L122.3 482.3L123.2 482.4L124.1 482.8L125.0 482.6L125.9 482.4L126.8 482.9L127.7 483.3L128.6 482.6L129.5 482.5L130.4 483.0L131.3 482.8L132.2 482.7L133.1 483.0L134.0 483.1L134.9 482.8L135.8 482.9L136.7 483.1L137.6 483.1L138.5 483.1L139.4 483.2L140.3 483.1L141.2 483.2L142.1 483.3L143.0 483.3L143.9 483.6L144.8 483.7L145.7 483.8L146.6 484.0L147.5 483.6L148.4 483.2L149.3 483.5L150.2 483.9L151.1 484.3L152.0 484.6L152.9 484.8L153.8 484.5L154.7 483.9L155.6 483.9L156.5 484.1L157.4 483.9L158.3 484.2L159.2 484.4L160.1 484.3L161.0 484.2L161.9 484.6L162.8 484.7L163.7 483.9L164.6 483.4L165.5 483.9L166.4 484.3L167.3 483.7L168.2 482.9L169.1 483.0L170.0 483.8L170.9 483.9L171.8 483.5L172.7 483.6L173.6 484.3L174.5 484.5L175.4 483.9L176.3 483.6L177.2 483.8L178.1 483.9L179.0 484.0L179.9 484.2L180.8 484.5L181.7 484.7L182.6 484.9L183.5 485.0L184.4 485.0L185.3 484.9L186.2 484.6L187.1 484.4L188.0 485.1L188.9 485.9L189.8 486.0L190.7 486.0L191.6 486.3L192.5 487.2L193.4 487.8L194.3 487.3L195.2 486.7L196.1 486.6L197.0 487.1L197.9 487.9L198.8 488.4L199.7 488.3L200.6 487.8L201.5 487.8L202.4 488.8L203.3 489.2L204.2 488.7L205.1 488.7L206.0 489.0L206.9 489.4L207.8 489.5L208.7 489.5L209.6 489.7L210.5 490.3L211.4 490.9L212.3 491.0L213.2 490.9L214.1 491.2L215.0 491.5L215.9 491.5L216.8 491.6L217.7 492.4L218.6 493.2L219.5 493.5L220.4 493.9L221.3 494.4L222.2 494.8L223.1 495.1L224.0 495.9L224.9 497.0L225.8 497.5L226.7 497.5L227.6 498.0L228.5 499.0L229.4 499.6L230.3 500.1L231.2 501.2L232.1 501.9L233.0 502.3L233.9 502.9L234.8 503.6L235.7 504.5L236.6 505.4L237.5 505.9L238.4 506.9L239.3 508.0L240.2 507.9L241.1 507.9L242.0 509.3L242.9 511.0L243.8 512.2L244.7 513.8L245.6 515.7L246.5 517.1L247.4 517.7L248.3 518.6L249.2 519.6L250.1 520.4L251.0 521.4L251.9 522.5L252.8 523.8L253.7 524.7L254.6 525.2L255.5 525.7L256.4 526.4L257.3 526.7L258.2 526.4L259.1 527.1L260.0 528.9L260.9 529.7L261.8 529.8L262.7 530.5L263.6 531.7L264.5 532.1L265.4 532.0L266.3 532.6L267.2 533.8L268.1 534.7L269.0 535.3L269.9 536.4L270.8 537.0L271.7 537.0L272.6 537.7L273.5 537.9L274.4 537.4L275.3 538.0L276.2 539.1L277.1 540.1L278.0 540.8L278.9 541.0L279.8 541.4L280.7 541.7L281.6 541.8L282.5 541.5L283.4 541.7L284.3 542.8L285.2 544.0L286.1 544.4L287.0 544.4L287.9 545.0L288.8 545.5L289.7 545.6L290.6 545.7L291.5 546.6L292.4 547.2L293.3 547.4L294.2 547.9L295.1 548.4L296.0 548.7L296.9 549.2L297.8 549.5L298.7 549.4L299.6 549.5L300.5 550.3L301.4 551.0L302.3 551.1L303.2 551.4L304.1 551.9L305.0 552.3L305.9 552.6L306.8 552.8L307.7 553.0L308.6 553.3L309.5 553.7L310.4 553.8L311.3 553.9L312.2 554.1L313.1 554.3L314.0 554.5L314.9 554.7L315.8 554.7L316.7 554.8L317.6 555.1L318.5 555.2L319.4 555.1L320.3 555.0L321.2 555.1L322.1 555.3L323.0 555.4L323.9 555.4L324.8 555.4L325.7 555.5L326.6 555.5L327.5 555.5L328.4 555.6L329.3 555.5L330.2 555.4L331.1 555.3L332.0 555.2L332.9 555.0L333.8 554.9L334.7 554.8L335.6 554.6L336.5 554.3L337.4 554.0L338.3 553.8L339.2 553.6L340.1 553.3L341.0 553.0L341.9 552.8L342.8 552.3L343.7 552.0L344.6 551.6L345.5 551.2L346.4 550.7L347.3 550.2L348.2 549.6L349.0 549.0L349.9 548.7L350.8 548.5L351.7 548.0L352.6 547.4L353.5 546.8L354.4 546.2L355.3 545.7L356.2 545.4L357.1 544.9L358.0 544.3L358.9 543.8L359.8 543.1L360.7 542.4L361.6 541.9L362.5 541.4L363.4 541.0L364.3 540.4L365.2 539.9L366.1 539.4L367.0 538.8L367.9 538.2L368.8 537.7L369.7 537.3L370.6 536.7L371.5 536.1L372.4 535.6L373.3 535.2L374.2 534.6L375.1 534.0L376.0 533.4L376.9 532.7L377.8 532.4L378.7 532.0L379.6 531.3L380.5 530.8L381.4 530.2L382.3 529.7L383.2 529.2L384.1 528.5L385.0 527.8L385.9 527.2L386.8 526.8L387.7 526.4L388.6 525.8L389.5 525.2L390.4 524.6L391.3 524.1L392.2 523.6L393.1 523.3L394.0 523.0L394.9 522.3L395.8 521.8L396.7 521.4L397.6 521.0L398.5 520.7L399.4 520.1L400.3 519.7L401.2 519.4L402.1 519.0L403.0 518.6L403.9 518.4L404.8 518.1L405.7 517.7L406.6 517.5L407.5 517.3L408.4 517.0L409.3 516.5L410.2 516.3L411.1 516.2L412.0 515.9L412.9 515.5L413.8 515.0L414.7 514.7L415.6 514.5L416.5 514.1L417.4 513.7L418.3 513.4L419.2 513.1L420.1 512.7L421.0 512.3L421.9 512.1L422.8 512.0L423.7 511.6L424.6 511.1L425.5 510.7L426.4 510.4L427.3 510.0L428.2 509.5L429.1 509.2L430.0 509.0L430.9 508.6L431.8 508.0L432.7 507.6L433.6 507.3L434.5 506.9L435.4 506.7L436.3 506.3L437.2 505.9L438.1 505.6L439.0 505.4L439.9 505.1L440.8 504.6L441.7 504.3L442.6 504.0L443.5 503.6L444.4 503.3L445.3 503.1L446.2 502.9L447.1 502.6L448.0 502.3L448.9 502.0L449.8 501.5L450.7 501.1L451.6 500.8L452.5 500.7L453.4 500.5L454.3 500.2L455.2 499.8L456.1 499.5L457.0 499.2L457.9 498.9L458.8 498.5L459.7 498.3L460.6 498.2L461.5 498.0L462.4 497.6L463.3 497.5L464.2 497.3L465.1 496.9L466.0 496.7L466.9 496.4L467.8 496.0L468.7 495.9L469.6 495.9L470.5 495.7L471.4 495.4L472.3 495.1L473.2 494.8L474.1 494.6L475.0 494.4L475.9 494.4L476.8 494.4L477.7 494.2L478.6 493.9L479.5 493.7L480.4 493.7L481.3 493.5L482.2 493.1L483.1 493.0L484.0 492.9L484.9 492.7L485.8 492.5L486.7 492.4L487.6 492.3L488.5 492.2L489.4 492.1L490.3 491.9L491.2 491.7L492.1 491.7L493.0 491.5L493.9 491.3L494.8 491.2L495.7 491.0L496.6 490.9L497.5 490.9L498.4 490.7L499.3 490.5L500.2 490.4L501.1 490.3L502.0 490.3L502.9 490.3L503.8 490.0L504.7 489.8L505.6 489.9L506.5 489.9L507.4 489.7L508.3 489.6L509.2 489.6L510.1 489.7L511.0 489.5L511.9 489.3L512.8 489.4L513.7 489.3L514.6 489.1L515.5 489.1L516.4 489.0L517.3 488.8L518.2 488.8L519.1 488.8L520.0 488.9L520.9 488.9L521.8 488.7L522.7 488.6L523.6 488.7L524.5 488.6L525.4 488.7L526.3 488.8L527.2 488.7L528.1 488.7L529.0 488.8L529.9 488.9L530.8 488.9L531.7 488.9L532.6 489.0L533.5 489.1L534.4 489.2L535.3 489.1L536.2 489.2L537.1 489.4L538.0 489.5L538.9 489.4L539.8 489.2L540.7 489.1L541.6 489.3L542.5 489.3L543.4 489.4L544.3 489.4L545.2 489.6L546.1 489.8L547.0 489.9L547.9 490.1L548.8 490.1L549.7 490.3L550.6 490.4L551.5 490.6L552.4 491.0L553.3 491.5L554.2 491.8L555.1 491.9L556.0 492.0L556.9 491.9L557.8 491.7L558.7 491.2L559.6 490.5L560.5 490.2L561.4 489.9L562.3 489.5L563.2 489.2L564.1 488.8L565.0 488.6L565.9 488.5L566.8 488.6L567.7 488.4L568.6 488.4L569.5 488.4L570.4 488.3L571.3 488.2L572.2 488.2L573.1 488.0L574.0 488.0L574.9 487.9L575.8 487.9L576.7 487.9L577.6 487.9L578.5 487.8L579.4 487.7L580.3 487.7L581.2 487.7L582.1 487.7L583.0 487.8L583.9 488.0L584.8 488.2L585.7 488.3L586.6 488.3L587.5 488.3L588.4 488.1L589.3 487.8L590.2 487.3L591.1 486.8L592.0 486.4L592.9 486.1L593.8 485.7L594.7 485.3L595.6 485.1L596.5 484.9L597.4 484.7L598.3 484.6L599.2 484.5L600.1 484.3L601.0 484.2L601.9 484.1L602.8 484.0L603.7 484.0L604.6 484.0L605.5 483.9L606.4 483.7L607.3 483.7L608.2 483.8L609.1 483.7L610.0 483.7L610.9 483.7L611.8 483.5L612.7 483.3L613.6 483.4L614.5 483.6L615.4 483.5L616.3 483.4L617.2 483.5L618.1 483.4L619.0 483.3L619.9 483.4L620.8 483.4L621.7 483.3L622.6 483.2L623.5 483.0L624.4 483.0L625.3 483.1L626.2 483.2L627.1 483.1L628.0 483.0L628.9 483.0L629.8 482.9L630.7 483.0L631.6 483.0L632.5 483.0L633.4 483.0L634.3 482.9L635.2 482.9L636.1 483.0L637.0 482.8L637.9 482.7L638.8 482.8L639.7 482.8L640.6 482.8L641.5 482.8L642.4 482.7L643.3 482.7L644.2 482.6L645.1 482.5L646.0 482.6L646.9 482.8L647.8 482.8L648.7 482.6L649.6 482.6L650.5 482.7L651.4 482.7L652.3 482.7L653.2 482.8L654.1 482.7L655.0 482.4L655.9 482.3L656.8 482.3L657.7 482.4L658.6 482.5L659.5 482.5L660.4 482.5L661.3 482.5L662.2 482.5L663.1 482.4L664.0 482.3L664.9 482.3L665.8 482.3L666.7 482.4L667.6 482.3L668.5 482.1L669.4 482.0L670.3 482.0L671.2 482.0L672.1 482.1L673.0 482.2L673.9 482.1L674.8 482.1L675.7 482.2L676.6 482.1L677.5 482.2L678.4 482.3L679.3 482.2L680.2 482.1L681.1 482.1L682.0 482.2L682.9 482.1L683.8 482.0L684.7 481.9L685.6 481.7L686.5 481.8L687.4 481.9L688.3 481.9L689.2 481.8L690.1 481.8L691.0 481.8L691.9 481.8L692.8 481.8L693.7 481.8L694.6 481.8L695.5 481.7L696.4 481.7L697.3 481.6L698.2 481.6L699.1 481.7L700.0 481.6L700.9 481.6L701.8 481.6L702.7 481.6L703.6 481.6L704.5 481.5L705.4 481.5L706.3 481.6L707.2 481.7L708.1 481.7L709.0 481.7L709.9 481.6L710.8 481.5L711.7 481.4L712.6 481.5L713.5 481.6L714.4 481.6L715.3 481.5L716.2 481.4L717.1 481.5L718.0 481.6L718.9 481.6L719.8 481.4L720.7 481.3L721.6 481.4L722.5 481.5L723.4 481.6L724.3 481.7L725.2 481.5L726.1 481.4L727.0 481.5L727.9 481.6L728.8 481.6L729.7 481.4L730.6 481.3L731.5 481.2L732.4 481.2L733.3 481.4L734.2 481.5L735.1 481.2L736.0 481.1L736.9 481.2L737.8 481.2L738.7 481.2L739.6 481.2L740.5 481.3L741.4 481.4L742.3 481.5L743.2 481.3L744.1 481.2L745.0 481.2L745.9 481.2L746.8 481.1L747.7 481.2L748.6 481.2L749.5 481.1L750.4 481.2L751.3 481.2L752.2 481.2L753.1 481.2L754.0 481.2L754.9 481.0L755.8 481.0L756.7 481.1L757.6 481.2L758.5 481.2L759.4 481.2L760.3 481.1L761.2 481.1L762.1 481.1L763.0 481.1L763.9 481.1L764.8 481.0L765.7 481.1L766.6 481.1L767.5 480.9L768.4 480.9L769.3 481.0L770.2 481.0L771.1 481.0L772.0 481.0L772.9 481.0L773.8 481.0L774.7 480.8L775.6 480.8L776.5 480.9L777.4 480.8L778.3 480.9L779.2 481.1L780.1 481.1L781.0 481.1L781.9 481.0L782.8 481.0L783.7 480.8L784.6 480.7L785.5 480.7L786.4 480.7L787.3 480.7L788.2 480.7L789.1 480.8L790.0 480.7L790.9 480.7L791.8 480.8L792.7 480.8L793.6 480.8L794.5 480.7L795.4 480.6L796.3 480.7L797.2 480.8L798.1 480.8L799.0 480.7L799.9 480.7L800.8 480.7L801.7 480.6L802.6 480.5L803.5 480.6L804.4 480.7L805.3 480.7L806.2 480.7L807.1 480.7L808.0 480.9L808.9 480.8L809.8 480.8L810.7 480.8L811.6 480.8L812.5 480.8L813.4 480.7L814.3 480.7L815.2 480.6L816.1 480.6L817.0 480.7L817.9 480.8L818.8 480.7L819.7 480.6L820.6 480.6L821.5 480.6L822.4 480.5L823.3 480.6L824.2 480.7L825.1 480.6L826.0 480.4L826.9 480.5L827.8 480.5L828.7 480.4L829.6 480.4L830.5 480.5L831.4 480.4L832.3 480.3L833.2 480.3L834.1 480.4L835.0 480.5L835.9 480.6L836.8 480.6L837.7 480.6L838.6 480.6L839.5 480.5L840.4 480.6L841.3 480.7L842.2 480.7L843.1 480.5L844.0 480.4L844.9 480.5L845.8 480.7L846.7 480.7L847.6 480.6L848.5 480.6L849.4 480.5L850.3 480.6L851.2 480.6L852.1 480.5L853.0 480.5L853.9 480.6L854.7 480.6L855.6 480.6L856.5 480.6L857.4 480.7L858.3 480.6L859.2 480.5L860.1 480.5L861.0 480.5L861.9 480.7L862.8 480.7L863.7 480.7L864.6 480.7L865.5 480.8L866.4 480.9L867.3 480.9L868.2 480.9L869.1 480.8L870.0 480.9L870.9 481.0L871.8 480.8L872.7 480.8L873.6 481.0L874.5 481.0L875.4 481.1L876.3 481.1L877.2 481.1L878.1 481.2L879.0 481.1L879.9 481.1L880.8 481.1L881.7 481.1L882.6 481.1L883.5 481.2L884.4 481.4L885.3 481.5L886.2 481.4L887.1 481.4L888.0 481.3L888.9 481.3L889.8 481.4L890.7 481.6L891.6 481.7L892.5 481.7L893.4 481.6L894.3 481.6L895.2 481.7L896.1 481.8L897.0 481.8L897.9 481.7L898.8 481.7L899.7 481.8L900.6 481.8L901.5 481.8L902.4 481.8L903.3 481.7L904.2 481.6L905.1 481.8L906.0 482.0L906.9 482.1L907.8 482.2L908.7 482.1L909.6 481.9L910.5 482.1L911.4 482.1L912.3 482.0L913.2 482.0L914.1 482.0L915.0 482.0L915.9 482.0L916.8 482.1L917.7 482.1L918.6 482.0L919.5 482.0L920.4 482.1L921.3 482.1L922.2 482.0L923.1 481.9L924.0 482.0L924.9 482.0L925.8 482.0L926.7 482.2L927.6 482.3L928.5 482.2L929.4 482.2L930.3 482.2L931.2 482.2L932.1 482.2L933.0 482.2L933.9 482.3L934.8 482.2L935.7 482.2L936.6 482.1L937.5 482.2L938.4 482.2L939.3 482.3L940.2 482.5L941.1 482.4L942.0 482.2L942.9 482.2L943.8 482.2L944.7 482.3L945.6 482.3L946.5 482.2L947.4 482.2L948.3 482.3L949.2 482.3L950.1 482.3L951.0 482.3L951.9 482.3L952.8 482.4L953.7 482.4L954.6 482.3L955.5 482.3L956.4 482.4L957.3 482.3L958.2 482.3L959.1 482.5L960.0 482.5L960.9 482.4L961.8 482.2L962.7 482.2L963.6 482.3L964.5 482.4L965.4 482.3L966.3 482.3L967.2 482.4L968.1 482.3L969.0 482.2L969.9 482.2L970.8 482.2L971.7 482.2L972.6 482.2L973.5 482.2L974.4 482.3L975.3 482.3L976.2 482.2L977.1 482.3L978.0 482.4L978.9 482.3L979.8 482.3L980.7 482.3L981.6 482.2L982.5 482.3L983.4 482.4L984.3 482.4L985.2 482.3L986.1 482.3L987.0 482.3L987.9 482.4L988.8 482.3L989.7 482.2L990.6 482.3L991.5 482.3L992.4 482.2L993.3 482.2L994.2 482.2L995.1 482.3L996.0 482.5L996.9 482.4L997.8 482.3L998.7 482.4L999.6 482.6L1000.5 482.7L1001.4 482.7L1002.3 482.7L1003.2 482.5L1004.1 482.4L1005.0 482.5L1005.9 482.6L1006.8 482.7L1007.7 482.8L1008.6 482.7L1009.5 482.6L1010.4 482.6L1011.3 482.8L1012.2 483.0L1013.1 483.1L1014.0 483.1L1014.9 483.2L1015.8 483.1L1016.7 483.1L1017.6 483.2L1018.5 483.3L1019.4 483.3L1020.3 483.4L1021.2 483.7L1022.1 483.8L1023.0 483.8L1023.9 483.8L1024.8 483.9L1025.7 484.0L1026.6 484.0L1027.5 484.0L1028.4 484.1L1029.3 484.2L1030.2 484.3L1031.1 484.3L1032.0 484.5L1032.9 484.6L1033.8 484.7L1034.7 484.9L1035.6 485.1L1036.5 485.3L1037.4 485.4L1038.3 485.6L1039.2 485.8L1040.1 486.0L1041.0 486.2L1041.9 486.4L1042.8 486.6L1043.7 486.8L1044.6 487.4L1045.5 488.0L1046.4 488.1L1047.3 488.1L1048.2 488.3L1049.1 488.4L1050.0 488.5L1050.9 488.5L1051.8 488.3L1052.7 488.2L1053.6 488.5L1054.5 488.5L1055.4 488.2L1056.3 487.9L1057.2 487.9L1058.1 488.1L1059.0 488.2L1059.9 488.3L1060.8 488.5L1061.7 488.9L1062.6 489.2L1063.5 489.4L1064.4 489.7L1065.3 490.2L1066.2 490.6L1067.1 490.8L1068.0 491.0L1068.9 491.3L1069.8 491.7L1070.7 492.0L1071.6 492.3L1072.5 492.5L1073.4 492.8L1074.3 493.0L1075.2 493.3L1076.1 493.5L1077.0 493.7L1077.9 493.9L1078.8 494.1L1079.7 494.3L1080.6 494.4L1081.5 494.6L1082.4 494.8L1083.3 495.0L1084.2 495.3L1085.1 495.6L1086.0 495.8L1086.9 496.0L1087.8 496.3L1088.7 497.0L1089.6 497.5L1090.5 498.0L1091.4 498.3L1092.3 498.6L1093.2 498.9L1094.1 499.4L1095.0 499.9L1095.9 500.3L1096.8 500.8L1097.7 501.3L1098.6 502.0L1099.5 502.6L1100.4 503.1L1101.3 503.8L1102.2 504.6L1103.1 505.2L1104.0 505.9L1104.9 506.7L1105.8 507.4L1106.7 508.1L1107.6 509.0L1108.5 509.9L1109.4 510.8L1110.3 511.6L1111.2 512.3L1112.1 513.1L1113.0 514.0L1113.9 514.7L1114.8 515.4L1115.7 516.0L1116.6 516.4L1117.5 516.8L1118.4 517.1L1119.3 517.4L1120.2 517.6L1121.1 517.6L1122.0 517.6L1122.9 517.6L1123.8 517.1L1124.7 516.4L1125.6 515.8L1126.5 515.4L1127.4 514.7L1128.3 514.1L1129.2 513.4L1130.1 512.8L1131.0 512.3L1131.9 511.8L1132.8 511.5L1133.7 511.2L1134.6 510.9L1135.5 510.6L1136.4 510.7L1137.3 511.3L1138.2 511.3L1139.1 510.8L1140.0 510.7L1140.9 510.8L1141.8 510.8L1142.7 510.9L1143.6 511.3L1144.5 511.7L1145.4 512.0L1146.3 512.2L1147.2 512.4L1148.1 512.8L1149.0 513.4L1149.9 514.2L1150.8 515.0L1151.7 515.9L1152.6 516.8L1153.5 517.7L1154.4 518.9L1155.3 520.3L1156.2 521.6L1157.1 522.8L1158.0 524.3L1158.9 525.9L1159.8 527.8L1160.7 529.7L1161.6 531.6L1162.5 533.7L1163.4 536.1L1164.3 538.7L1165.2 541.4L1166.1 544.0L1167.0 546.8L1167.9 550.4L1168.8 554.1L1169.7 558.1L1170.6 563.0L1171.5 568.3L1172.4 573.8L1173.3 579.5L1174.2 585.9L1175.1 593.6L1176.0 603.2L1176.9 612.2L1177.8 617.7L1178.7 614.9L1179.6 609.2L1180.5 603.4L1181.4 599.3L1182.3 595.6L1183.2 592.8L1184.1 591.3L1185.0 590.6L1185.9 590.2L1186.8 590.2L1187.7 590.1L1188.6 589.7L1189.5 589.3L1190.4 589.2L1191.3 589.0L1192.2 588.6L1193.1 588.1L1194.0 587.8L1194.9 587.4L1195.8 587.0L1196.7 587.0L1197.6 587.5L1198.5 588.0L1199.4 588.2L1200.3 587.9L1201.2 587.2L1202.1 586.6L1203.0 586.4L1203.9 587.4L1204.8 589.5L1205.7 591.5L1206.6 594.5L1207.5 597.0L1208.4 598.4L1209.3 598.5L1210.2 597.3L1211.1 594.9L1212.0 592.5L1212.9 590.0L1213.8 587.0L1214.7 584.1L1215.6 581.3L1216.5 578.3L1217.4 575.2L1218.3 572.2L1219.2 569.6L1220.1 567.1L1221.0 564.5L1221.9 562.6L1222.8 561.3L1223.7 560.4L1224.6 559.4L1225.5 558.4L1226.4 558.1L1227.3 558.3L1228.2 558.9L1229.1 560.1L1230.0 562.1L1230.9 563.2L1231.8 562.2L1232.7 559.5L1233.6 555.4L1234.5 547.0L1235.4 539.1L1236.3 533.6L1237.2 529.0L1238.1 525.2L1239.0 521.6L1239.9 518.4L1240.8 516.5L1241.7 515.1L1242.6 514.2L1243.5 513.8L1244.4 513.0L1245.3 512.3L1246.2 511.9L1247.1 511.5L1248.0 511.2L1248.9 510.8L1249.8 510.6L1250.7 510.7L1251.6 510.6L1252.5 510.0L1253.4 509.4L1254.3 509.2L1255.2 509.4L1256.1 509.6L1257.0 509.6L1257.9 509.5L1258.8 509.5L1259.7 509.5L1260.6 509.6L1261.5 509.8L1262.4 509.9L1263.3 510.0L1264.2 510.1L1265.1 510.1L1266.0 510.2L1266.9 510.5L1267.8 510.6L1268.7 510.8L1269.6 511.2L1270.5 511.6L1271.4 511.8L1272.3 512.2L1273.2 512.7L1274.1 513.0L1275.0 513.3L1275.9 513.6L1276.8 514.1L1277.7 514.7L1278.6 515.2L1279.5 515.6L1280.4 516.0L1281.3 516.4L1282.2 517.1L1283.1 517.7L1284.0 518.2L1284.9 518.9L1285.8 519.5L1286.7 520.0L1287.6 520.5L1288.5 521.1L1289.4 521.5L1290.3 522.1L1291.2 522.9L1292.1 523.6L1293.0 524.3L1293.9 525.0L1294.8 525.8L1295.7 526.7L1296.6 527.5L1297.5 528.3L1298.4 529.3L1299.3 530.4L1300.2 531.5L1301.1 532.7L1302.0 534.1L1302.9 535.7L1303.8 537.5L1304.7 539.3L1305.6 541.1L1306.5 543.1L1307.4 545.3L1308.3 547.6L1309.2 550.1L1310.1 552.8L1311.0 555.5L1311.9 558.2L1312.8 561.0L1313.7 564.0L1314.6 567.1L1315.5 570.0L1316.4 572.9L1317.3 575.6L1318.2 578.4L1319.1 581.1L1320.0 583.8L1320.9 586.5L1321.8 589.1L1322.7 591.8L1323.6 594.5L1324.5 597.1L1325.4 599.6L1326.3 602.0L1327.2 604.2L1328.1 606.6L1329.0 608.9L1329.9 611.0L1330.8 613.0L1331.7 614.9L1332.6 616.7L1333.5 618.6L1334.4 620.7L1335.3 623.1L1336.2 626.2L1337.1 629.7L1338.0 633.7L1338.9 637.9L1339.8 642.8L1340.7 648.4L1341.6 654.5L1342.5 661.5L1343.4 669.0L1344.3 676.3L1345.2 683.9L1346.1 690.9L1347.0 697.1L1347.9 702.8L1348.8 707.6L1349.7 711.6L1350.6 714.7L1351.5 716.6L1352.4 717.7L1353.3 716.9L1354.2 714.1L1355.1 711.1L1356.0 707.3L1356.9 703.2L1357.8 699.4L1358.7 695.9L1359.6 692.4L1360.4 689.2L1361.3 686.4L1362.2 683.9L1363.1 681.5L1364.0 679.6L1364.9 678.5L1365.8 677.6L1366.7 677.2L1367.6 677.7L1368.5 679.1L1369.4 681.2L1370.3 684.1L1371.2 688.3L1372.1 693.1L1373.0 698.9L1373.9 705.5L1374.8 712.2L1375.7 719.4L1376.6 729.1L1377.5 739.9L1378.4 750.2L1379.3 760.2L1380.2 769.2L1381.1 777.4L1382.0 784.0L1382.9 789.9L1383.8 792.6L1384.7 792.6L1385.6 792.6L1386.5 792.6L1387.4 792.1L1388.3 791.4L1389.2 791.5L1390.1 793.5L1391.0 796.6L1391.9 800.1L1392.8 804.6L1393.7 809.5L1394.6 814.4L1395.5 819.3L1396.4 822.9L1397.3 825.7L1398.2 827.7L1399.1 828.1L1400.0 827.6L1400.9 826.7L1401.8 825.4L1402.7 823.7L1403.6 820.8L1404.5 817.3L1405.4 813.6L1406.3 809.3L1407.2 804.4L1408.1 799.1L1409.0 793.8L1409.9 788.1L1410.8 782.0L1411.7 775.8L1412.6 769.7L1413.5 763.6L1414.4 757.5L1415.3 751.4L1416.2 745.7L1417.1 740.3L1418.0 734.9L1418.9 730.2L1419.8 726.7L1420.7 724.3L1421.6 722.3L1422.5 720.1L1423.4 717.3L1424.3 714.4L1425.2 711.2L1426.1 707.5L1427.0 703.1L1427.9 697.8L1428.8 692.3L1429.7 687.1L1430.6 682.6L1431.5 678.5L1432.4 674.6L1433.3 670.9L1434.2 667.5L1435.1 664.3L1436.0 661.2L1436.9 658.3L1437.8 655.8L1438.7 653.3L1439.6 651.0L1440.5 649.0L1441.4 647.5L1442.3 646.5L1443.2 645.6L1444.1 644.8L1445.0 644.4L1445.9 644.6L1446.8 645.2L1447.7 645.9L1448.6 646.8L1449.5 648.3L1450.4 650.3L1451.3 652.6L1452.2 655.8L1453.1 659.5L1454.0 662.4L1454.9 663.0L1455.8 661.8L1456.7 660.2L1457.6 659.3L1458.5 659.4L1459.4 659.4L1460.3 659.4L1461.2 659.4L1462.1 659.3L1463.0 658.9L1463.9 658.5L1464.8 658.3L1465.7 658.3L1466.6 658.6L1467.5 659.1L1468.4 659.4L1469.3 659.4L1470.2 659.4L1471.1 659.3L1472.0 659.1L1472.9 658.8L1473.8 658.2L1474.7 657.2L1475.6 656.1L1476.5 655.0L1477.4 653.9L1478.3 652.8L1479.2 651.6L1480.1 650.2L1481.0 648.5L1481.9 646.8L1482.8 644.9L1483.7 643.0L1484.6 641.0L1485.5 638.9L1486.4 636.7L1487.3 634.5L1488.2 632.5L1489.1 630.5L1490.0 628.6L1490.9 627.0L1491.8 625.8L1492.7 624.7L1493.6 623.6L1494.5 622.9L1495.4 622.6L1496.3 622.5L1497.2 622.2L1498.1 622.1L1499.0 622.1L1499.9 622.8L1500.8 623.7L1501.7 623.8L1502.6 622.6L1503.5 620.7L1504.4 618.8L1505.3 617.6L1506.2 616.7L1507.1 616.0L1508.0 615.4L1508.9 615.1L1509.8 615.0L1510.7 615.0L1511.6 614.9L1512.5 614.8L1513.4 614.7L1514.3 614.7L1515.2 614.9L1516.1 615.5L1517.0 616.1L1517.9 616.9L1518.8 617.7L1519.7 618.6L1520.6 619.8L1521.5 621.4L1522.4 623.3L1523.3 625.7L1524.2 628.5L1525.1 631.3L1526.0 633.6L1526.9 636.0L1527.8 638.8L1528.7 643.0L1529.6 648.9L1530.5 655.0L1531.4 661.4L1532.3 667.9L1533.2 674.1L1534.1 680.3L1535.0 683.8L1535.9 684.5L1536.8 680.6L1537.7 675.0L1538.6 670.8L1539.5 667.2L1540.4 664.6L1541.3 663.0L1542.2 661.4L1543.1 658.2L1544.0 651.8L1544.9 644.5L1545.8 638.1L1546.7 631.7L1547.6 626.7L1548.5 623.2L1549.4 620.4L1550.3 618.8L1551.2 618.0L1552.1 617.6L1553.0 618.3L1553.9 620.2L1554.8 622.7L1555.7 626.1L1556.6 631.8L1557.5 638.8L1558.4 647.2L1559.3 657.7L1560.2 668.1L1561.1 679.2L1562.0 689.8L1562.9 696.4L1563.8 700.7L1564.7 701.6L1565.6 695.8L1566.5 686.8L1567.4 676.7L1568.3 664.5L1569.2 655.4L1570.1 648.3L1571.0 643.0L1571.9 640.2L1572.8 638.2L1573.7 636.8L1574.6 636.5L1575.5 637.5L1576.4 639.3L1577.3 641.7L1578.2 646.5L1579.1 653.5L1580.0 661.2L1580.9 669.2L1581.8 678.1L1582.7 685.2L1583.6 690.7L1584.5 694.7L1585.4 694.3L1586.3 688.7L1587.2 681.2L1588.1 675.3L1589.0 669.7L1589.9 664.4L1590.8 660.0L1591.7 657.0L1592.6 654.7L1593.5 652.7L1594.4 651.2L1595.3 650.2L1596.2 649.2L1597.1 648.4L1598.0 647.9L1598.9 647.7L1599.8 647.8L1600.7 648.0L1601.6 648.4L1602.5 648.9L1603.4 649.7L1604.3 650.6L1605.2 652.2L1606.1 654.6L1607.0 657.5L1607.9 660.9L1608.8 666.0L1609.7 671.5L1610.6 675.4L1611.5 678.7L1612.4 680.8L1613.3 680.0L1614.2 676.2L1615.1 672.9L1616.0 671.7L1616.9 670.8L1617.8 670.2L1618.7 670.3L1619.6 671.0L1620.5 672.3L1621.4 673.8L1622.3 676.4L1623.2 680.8L1624.1 685.9L1625.0 691.5L1625.9 698.0L1626.8 705.5L1627.7 714.4L1628.6 724.5L1629.5 736.4L1630.4 746.8L1631.3 755.5L1632.2 762.5L1633.1 768.0L1634.0 767.4L1634.9 760.4L1635.8 751.7L1636.7 743.6L1637.6 734.9L1638.5 727.5L1639.4 720.8L1640.3 717.5L1641.2 718.3L1642.1 720.3L1643.0 727.9L1643.9 736.9L1644.8 742.9L1645.7 744.9L1646.6 741.7L1647.5 736.4L1648.4 730.8L1649.3 723.9L1650.2 714.0L1651.1 699.5L1652.0 691.7L1652.9 687.0L1653.8 683.4L1654.7 680.4L1655.6 677.9L1656.5 675.3L1657.4 672.6L1658.3 669.9L1659.2 667.0L1660.1 663.7L1661.0 660.2" fill="none" stroke="#FF82BE" stroke-width="3.2" stroke-linejoin="round" stroke-linecap="butt"/>
<path d="M86.3 590.9L87.2 590.9L88.1 591.0L89.0 591.3L89.9 591.1L90.8 590.5L91.7 590.4L92.6 590.7L93.5 591.3L94.4 591.3L95.3 590.9L96.2 590.6L97.1 590.8L98.0 591.0L98.9 591.2L99.8 591.4L100.7 591.7L101.6 591.7L102.5 591.3L103.4 591.3L104.3 591.3L105.2 591.1L106.1 591.2L107.0 591.5L107.9 591.5L108.8 591.7L109.7 592.0L110.6 591.8L111.5 591.6L112.4 591.8L113.3 591.9L114.2 591.8L115.1 591.7L116.0 591.7L116.9 591.4L117.8 591.2L118.7 591.3L119.6 591.4L120.5 591.4L121.4 591.6L122.3 591.8L123.2 592.2L124.1 592.6L125.0 592.3L125.9 592.1L126.8 592.3L127.7 592.5L128.6 592.2L129.5 591.9L130.4 592.1L131.3 592.3L132.2 592.1L133.1 591.7L134.0 591.4L134.9 591.7L135.8 592.5L136.7 592.8L137.6 592.4L138.5 592.1L139.4 592.3L140.3 592.5L141.2 592.4L142.1 592.7L143.0 592.9L143.9 593.1L144.8 593.4L145.7 593.3L146.6 593.4L147.5 593.1L148.4 592.7L149.3 592.9L150.2 593.1L151.1 593.3L152.0 593.2L152.9 592.7L153.8 592.7L154.7 592.8L155.6 593.1L156.5 593.5L157.4 593.5L158.3 593.2L159.2 592.8L160.1 592.9L161.0 593.0L161.9 593.3L162.8 593.8L163.7 593.7L164.6 593.0L165.5 593.0L166.4 593.4L167.3 593.3L168.2 593.1L169.1 593.3L170.0 593.3L170.9 593.0L171.8 593.0L172.7 593.3L173.6 593.4L174.5 593.4L175.4 593.2L176.3 593.1L177.2 593.5L178.1 593.7L179.0 593.4L179.9 593.0L180.8 593.4L181.7 593.8L182.6 593.8L183.5 593.8L184.4 593.4L185.3 593.3L186.2 593.7L187.1 593.8L188.0 593.5L188.9 593.3L189.8 593.5L190.7 593.9L191.6 594.7L192.5 595.2L193.4 595.3L194.3 595.1L195.2 594.5L196.1 593.9L197.0 594.1L197.9 594.4L198.8 594.5L199.7 594.9L200.6 595.2L201.5 594.7L202.4 594.4L203.3 595.0L204.2 595.4L205.1 595.4L206.0 595.9L206.9 596.1L207.8 596.6L208.7 596.9L209.6 596.4L210.5 596.4L211.4 597.1L212.3 597.6L213.2 597.7L214.1 597.7L215.0 598.0L215.9 598.2L216.8 598.2L217.7 598.2L218.6 598.3L219.5 598.7L220.4 599.0L221.3 599.4L222.2 599.8L223.1 599.9L224.0 599.7L224.9 599.9L225.8 600.8L226.7 601.4L227.6 601.5L228.5 601.6L229.4 602.0L230.3 602.7L231.2 602.8L232.1 602.7L233.0 603.4L233.9 604.5L234.8 605.5L235.7 605.8L236.6 605.9L237.5 606.6L238.4 607.2L239.3 607.9L240.2 608.8L241.1 609.1L242.0 609.1L242.9 609.8L243.8 610.6L244.7 611.1L245.6 611.7L246.5 611.9L247.4 612.3L248.3 613.2L249.2 613.7L250.1 614.4L251.0 615.1L251.9 615.3L252.8 615.7L253.7 616.5L254.6 617.1L255.5 617.4L256.4 617.7L257.3 618.2L258.2 619.2L259.1 620.1L260.0 620.7L260.9 620.8L261.8 620.8L262.7 621.2L263.6 621.6L264.5 622.3L265.4 623.0L266.3 623.5L267.2 623.8L268.1 624.5L269.0 625.5L269.9 626.1L270.8 626.0L271.7 626.3L272.6 626.7L273.5 626.9L274.4 627.7L275.3 628.4L276.2 628.4L277.1 628.5L278.0 628.9L278.9 629.4L279.8 630.1L280.7 630.5L281.6 630.4L282.5 630.4L283.4 631.0L284.3 631.9L285.2 632.2L286.1 632.3L287.0 632.6L287.9 632.8L288.8 633.3L289.7 633.7L290.6 633.9L291.5 634.4L292.4 634.7L293.3 634.7L294.2 635.0L295.1 635.5L296.0 635.8L296.9 636.0L297.8 636.0L298.7 636.4L299.6 636.9L300.5 637.2L301.4 637.5L302.3 637.7L303.2 637.9L304.1 638.4L305.0 638.5L305.9 638.7L306.8 639.2L307.7 639.3L308.6 639.3L309.5 639.6L310.4 639.9L311.3 640.1L312.2 640.0L313.1 640.2L314.0 640.4L314.9 640.2L315.8 640.2L316.7 640.7L317.6 641.0L318.5 641.1L319.4 641.1L320.3 641.0L321.2 641.1L322.1 641.3L323.0 641.3L323.9 641.3L324.8 641.2L325.7 641.1L326.6 641.1L327.5 641.1L328.4 641.2L329.3 641.2L330.2 641.2L331.1 641.1L332.0 640.9L332.9 640.7L333.8 640.7L334.7 640.7L335.6 640.4L336.5 640.2L337.4 640.0L338.3 639.8L339.2 639.6L340.1 639.4L341.0 639.2L341.9 639.0L342.8 638.8L343.7 638.5L344.6 638.3L345.5 638.0L346.4 637.7L347.3 637.3L348.2 637.1L349.0 636.8L349.9 636.5L350.8 636.2L351.7 635.7L352.6 635.3L353.5 635.1L354.4 634.7L355.3 634.3L356.2 634.0L357.1 633.7L358.0 633.3L358.9 632.8L359.8 632.4L360.7 632.1L361.6 631.7L362.5 631.3L363.4 630.9L364.3 630.5L365.2 630.1L366.1 629.7L367.0 629.3L367.9 629.0L368.8 628.6L369.7 628.1L370.6 627.7L371.5 627.4L372.4 626.9L373.3 626.5L374.2 626.1L375.1 625.7L376.0 625.2L376.9 624.8L377.8 624.5L378.7 624.1L379.6 623.7L380.5 623.2L381.4 622.8L382.3 622.4L383.2 622.0L384.1 621.6L385.0 621.2L385.9 620.8L386.8 620.4L387.7 620.1L388.6 619.8L389.5 619.5L390.4 619.2L391.3 618.9L392.2 618.5L393.1 618.2L394.0 617.9L394.9 617.6L395.8 617.4L396.7 617.2L397.6 616.9L398.5 616.6L399.4 616.4L400.3 616.2L401.2 616.0L402.1 615.8L403.0 615.6L403.9 615.4L404.8 615.1L405.7 614.8L406.6 614.6L407.5 614.5L408.4 614.3L409.3 614.1L410.2 613.9L411.1 613.6L412.0 613.3L412.9 613.0L413.8 612.9L414.7 612.6L415.6 612.3L416.5 612.2L417.4 612.0L418.3 611.8L419.2 611.5L420.1 611.1L421.0 610.8L421.9 610.6L422.8 610.2L423.7 610.0L424.6 609.7L425.5 609.5L426.4 609.2L427.3 608.9L428.2 608.6L429.1 608.4L430.0 608.3L430.9 608.0L431.8 607.8L432.7 607.6L433.6 607.4L434.5 607.1L435.4 606.8L436.3 606.7L437.2 606.6L438.1 606.2L439.0 605.9L439.9 605.7L440.8 605.6L441.7 605.4L442.6 605.2L443.5 604.9L444.4 604.6L445.3 604.3L446.2 604.1L447.1 603.9L448.0 603.6L448.9 603.4L449.8 603.3L450.7 603.0L451.6 602.7L452.5 602.6L453.4 602.5L454.3 602.2L455.2 602.0L456.1 601.9L457.0 601.7L457.9 601.6L458.8 601.4L459.7 601.3L460.6 601.3L461.5 601.1L462.4 600.8L463.3 600.6L464.2 600.5L465.1 600.4L466.0 600.2L466.9 600.0L467.8 600.0L468.7 599.8L469.6 599.6L470.5 599.5L471.4 599.4L472.3 599.4L473.2 599.3L474.1 599.2L475.0 599.1L475.9 598.9L476.8 598.7L477.7 598.6L478.6 598.4L479.5 598.4L480.4 598.4L481.3 598.3L482.2 598.2L483.1 598.1L484.0 598.0L484.9 597.9L485.8 597.8L486.7 597.7L487.6 597.6L488.5 597.6L489.4 597.5L490.3 597.4L491.2 597.3L492.1 597.2L493.0 597.1L493.9 597.1L494.8 596.9L495.7 596.7L496.6 596.6L497.5 596.6L498.4 596.6L499.3 596.5L500.2 596.5L501.1 596.3L502.0 596.3L502.9 596.4L503.8 596.3L504.7 596.2L505.6 596.3L506.5 596.2L507.4 596.1L508.3 596.1L509.2 596.1L510.1 596.1L511.0 596.1L511.9 596.1L512.8 596.0L513.7 595.8L514.6 595.8L515.5 595.8L516.4 595.8L517.3 595.8L518.2 595.8L519.1 595.8L520.0 595.8L520.9 595.7L521.8 595.8L522.7 595.8L523.6 595.9L524.5 595.8L525.4 595.8L526.3 595.9L527.2 595.9L528.1 595.9L529.0 595.9L529.9 595.9L530.8 596.0L531.7 596.0L532.6 596.1L533.5 596.1L534.4 596.1L535.3 596.1L536.2 596.2L537.1 596.1L538.0 596.1L538.9 596.2L539.8 596.2L540.7 596.4L541.6 596.5L542.5 596.4L543.4 596.4L544.3 596.5L545.2 596.7L546.1 596.9L547.0 597.0L547.9 597.3L548.8 597.4L549.7 597.6L550.6 597.9L551.5 598.2L552.4 598.5L553.3 598.8L554.2 599.0L555.1 599.2L556.0 599.2L556.9 599.0L557.8 598.6L558.7 598.1L559.6 597.7L560.5 597.4L561.4 597.1L562.3 596.8L563.2 596.7L564.1 596.5L565.0 596.4L565.9 596.3L566.8 596.0L567.7 595.9L568.6 595.9L569.5 596.0L570.4 595.9L571.3 595.9L572.2 595.8L573.1 595.7L574.0 595.7L574.9 595.7L575.8 595.7L576.7 595.8L577.6 595.8L578.5 595.8L579.4 595.7L580.3 595.7L581.2 595.6L582.1 595.7L583.0 595.9L583.9 595.9L584.8 596.1L585.7 596.2L586.6 596.3L587.5 596.2L588.4 595.9L589.3 595.6L590.2 595.2L591.1 594.8L592.0 594.4L592.9 594.1L593.8 593.8L594.7 593.6L595.6 593.5L596.5 593.4L597.4 593.2L598.3 593.0L599.2 593.0L600.1 592.9L601.0 592.8L601.9 592.8L602.8 592.6L603.7 592.5L604.6 592.6L605.5 592.6L606.4 592.5L607.3 592.4L608.2 592.3L609.1 592.4L610.0 592.3L610.9 592.2L611.8 592.3L612.7 592.3L613.6 592.4L614.5 592.3L615.4 592.1L616.3 592.0L617.2 592.0L618.1 592.0L619.0 592.0L619.9 591.9L620.8 591.8L621.7 591.7L622.6 591.8L623.5 591.9L624.4 591.9L625.3 591.8L626.2 591.8L627.1 591.8L628.0 591.8L628.9 591.8L629.8 591.6L630.7 591.7L631.6 591.7L632.5 591.6L633.4 591.6L634.3 591.7L635.2 591.8L636.1 591.7L637.0 591.7L637.9 591.7L638.8 591.8L639.7 591.7L640.6 591.6L641.5 591.6L642.4 591.5L643.3 591.5L644.2 591.6L645.1 591.7L646.0 591.8L646.9 591.8L647.8 591.7L648.7 591.6L649.6 591.6L650.5 591.6L651.4 591.5L652.3 591.5L653.2 591.5L654.1 591.6L655.0 591.5L655.9 591.4L656.8 591.5L657.7 591.5L658.6 591.5L659.5 591.5L660.4 591.4L661.3 591.5L662.2 591.5L663.1 591.5L664.0 591.4L664.9 591.4L665.8 591.4L666.7 591.2L667.6 591.2L668.5 591.3L669.4 591.3L670.3 591.3L671.2 591.3L672.1 591.3L673.0 591.3L673.9 591.3L674.8 591.3L675.7 591.2L676.6 591.2L677.5 591.2L678.4 591.2L679.3 591.2L680.2 591.2L681.1 591.3L682.0 591.3L682.9 591.3L683.8 591.2L684.7 591.1L685.6 591.1L686.5 591.0L687.4 591.1L688.3 591.1L689.2 591.1L690.1 591.1L691.0 591.1L691.9 591.0L692.8 591.0L693.7 591.1L694.6 591.0L695.5 591.0L696.4 591.0L697.3 591.0L698.2 591.0L699.1 591.0L700.0 591.0L700.9 590.8L701.8 590.8L702.7 590.8L703.6 590.9L704.5 591.0L705.4 591.0L706.3 591.0L707.2 590.9L708.1 590.8L709.0 590.8L709.9 590.8L710.8 590.8L711.7 590.8L712.6 590.9L713.5 590.9L714.4 590.8L715.3 590.8L716.2 590.9L717.1 590.8L718.0 590.8L718.9 590.8L719.8 590.9L720.7 590.9L721.6 590.9L722.5 590.9L723.4 590.8L724.3 590.8L725.2 590.7L726.1 590.7L727.0 590.7L727.9 590.7L728.8 590.7L729.7 590.7L730.6 590.7L731.5 590.8L732.4 590.8L733.3 590.7L734.2 590.7L735.1 590.7L736.0 590.6L736.9 590.6L737.8 590.7L738.7 590.8L739.6 590.7L740.5 590.6L741.4 590.6L742.3 590.6L743.2 590.5L744.1 590.5L745.0 590.6L745.9 590.6L746.8 590.6L747.7 590.5L748.6 590.5L749.5 590.5L750.4 590.5L751.3 590.5L752.2 590.5L753.1 590.5L754.0 590.5L754.9 590.6L755.8 590.6L756.7 590.6L757.6 590.5L758.5 590.6L759.4 590.6L760.3 590.4L761.2 590.4L762.1 590.4L763.0 590.4L763.9 590.5L764.8 590.5L765.7 590.5L766.6 590.4L767.5 590.4L768.4 590.4L769.3 590.3L770.2 590.3L771.1 590.3L772.0 590.4L772.9 590.4L773.8 590.3L774.7 590.3L775.6 590.4L776.5 590.4L777.4 590.4L778.3 590.5L779.2 590.5L780.1 590.4L781.0 590.2L781.9 590.3L782.8 590.3L783.7 590.3L784.6 590.4L785.5 590.4L786.4 590.5L787.3 590.4L788.2 590.3L789.1 590.3L790.0 590.3L790.9 590.4L791.8 590.4L792.7 590.4L793.6 590.4L794.5 590.4L795.4 590.3L796.3 590.2L797.2 590.2L798.1 590.2L799.0 590.2L799.9 590.2L800.8 590.2L801.7 590.3L802.6 590.2L803.5 590.2L804.4 590.2L805.3 590.3L806.2 590.2L807.1 590.2L808.0 590.2L808.9 590.1L809.8 590.2L810.7 590.3L811.6 590.3L812.5 590.2L813.4 590.2L814.3 590.2L815.2 590.2L816.1 590.2L817.0 590.4L817.9 590.3L818.8 590.1L819.7 590.1L820.6 590.1L821.5 590.1L822.4 590.1L823.3 590.1L824.2 590.1L825.1 590.2L826.0 590.2L826.9 590.2L827.8 590.2L828.7 590.2L829.6 590.3L830.5 590.2L831.4 590.1L832.3 590.1L833.2 590.1L834.1 590.1L835.0 590.2L835.9 590.2L836.8 590.1L837.7 590.1L838.6 590.1L839.5 590.1L840.4 590.1L841.3 590.1L842.2 590.1L843.1 590.0L844.0 590.1L844.9 590.1L845.8 590.1L846.7 590.1L847.6 590.1L848.5 590.1L849.4 590.2L850.3 590.1L851.2 590.1L852.1 590.0L853.0 590.1L853.9 590.2L854.7 590.2L855.6 590.1L856.5 590.2L857.4 590.2L858.3 590.2L859.2 590.1L860.1 590.1L861.0 590.1L861.9 590.1L862.8 590.1L863.7 590.2L864.6 590.2L865.5 590.2L866.4 590.3L867.3 590.3L868.2 590.2L869.1 590.3L870.0 590.4L870.9 590.4L871.8 590.4L872.7 590.5L873.6 590.4L874.5 590.5L875.4 590.5L876.3 590.6L877.2 590.5L878.1 590.6L879.0 590.6L879.9 590.7L880.8 590.8L881.7 590.8L882.6 590.8L883.5 590.9L884.4 591.0L885.3 590.9L886.2 590.8L887.1 590.9L888.0 591.0L888.9 591.0L889.8 591.1L890.7 591.2L891.6 591.2L892.5 591.2L893.4 591.3L894.3 591.4L895.2 591.4L896.1 591.4L897.0 591.4L897.9 591.3L898.8 591.3L899.7 591.4L900.6 591.5L901.5 591.6L902.4 591.7L903.3 591.6L904.2 591.6L905.1 591.7L906.0 591.9L906.9 591.9L907.8 591.9L908.7 592.0L909.6 592.1L910.5 592.1L911.4 592.0L912.3 592.1L913.2 592.1L914.1 592.2L915.0 592.2L915.9 592.2L916.8 592.3L917.7 592.2L918.6 592.2L919.5 592.4L920.4 592.5L921.3 592.5L922.2 592.4L923.1 592.5L924.0 592.6L924.9 592.6L925.8 592.6L926.7 592.6L927.6 592.7L928.5 592.6L929.4 592.5L930.3 592.6L931.2 592.8L932.1 592.8L933.0 592.8L933.9 592.8L934.8 592.8L935.7 592.7L936.6 592.7L937.5 592.8L938.4 592.9L939.3 592.8L940.2 592.8L941.1 592.8L942.0 592.8L942.9 592.9L943.8 592.9L944.7 592.8L945.6 592.8L946.5 592.8L947.4 592.9L948.3 592.9L949.2 592.8L950.1 592.8L951.0 592.9L951.9 592.9L952.8 592.8L953.7 593.0L954.6 593.0L955.5 592.9L956.4 592.8L957.3 592.7L958.2 592.9L959.1 592.9L960.0 593.0L960.9 593.1L961.8 593.1L962.7 593.0L963.6 592.9L964.5 592.8L965.4 592.9L966.3 592.9L967.2 592.9L968.1 592.9L969.0 592.9L969.9 593.0L970.8 593.0L971.7 593.1L972.6 593.2L973.5 593.1L974.4 593.1L975.3 593.1L976.2 593.2L977.1 593.2L978.0 593.2L978.9 593.2L979.8 593.2L980.7 593.2L981.6 593.2L982.5 593.2L983.4 593.2L984.3 593.3L985.2 593.3L986.1 593.3L987.0 593.4L987.9 593.3L988.8 593.2L989.7 593.2L990.6 593.3L991.5 593.3L992.4 593.3L993.3 593.3L994.2 593.4L995.1 593.3L996.0 593.3L996.9 593.4L997.8 593.4L998.7 593.4L999.6 593.5L1000.5 593.7L1001.4 593.8L1002.3 593.8L1003.2 593.8L1004.1 593.7L1005.0 593.7L1005.9 593.7L1006.8 593.7L1007.7 593.9L1008.6 594.0L1009.5 594.0L1010.4 593.9L1011.3 593.8L1012.2 593.9L1013.1 594.0L1014.0 594.1L1014.9 594.2L1015.8 594.1L1016.7 594.1L1017.6 594.2L1018.5 594.2L1019.4 594.2L1020.3 594.3L1021.2 594.4L1022.1 594.4L1023.0 594.4L1023.9 594.5L1024.8 594.7L1025.7 594.8L1026.6 594.8L1027.5 594.8L1028.4 594.9L1029.3 594.9L1030.2 594.9L1031.1 595.1L1032.0 595.3L1032.9 595.3L1033.8 595.4L1034.7 595.5L1035.6 595.6L1036.5 595.7L1037.4 595.7L1038.3 595.9L1039.2 596.0L1040.1 596.1L1041.0 596.2L1041.9 596.4L1042.8 596.7L1043.7 597.1L1044.6 597.4L1045.5 597.6L1046.4 597.7L1047.3 597.9L1048.2 598.0L1049.1 598.1L1050.0 598.2L1050.9 598.3L1051.8 598.3L1052.7 598.4L1053.6 598.3L1054.5 598.1L1055.4 597.9L1056.3 597.8L1057.2 597.7L1058.1 597.7L1059.0 597.7L1059.9 597.9L1060.8 598.1L1061.7 598.3L1062.6 598.7L1063.5 599.0L1064.4 599.2L1065.3 599.3L1066.2 599.5L1067.1 599.8L1068.0 600.1L1068.9 600.3L1069.8 600.5L1070.7 600.6L1071.6 600.8L1072.5 600.9L1073.4 601.1L1074.3 601.2L1075.2 601.3L1076.1 601.6L1077.0 601.8L1077.9 602.0L1078.8 602.2L1079.7 602.4L1080.6 602.6L1081.5 602.7L1082.4 602.8L1083.3 603.0L1084.2 603.2L1085.1 603.5L1086.0 603.7L1086.9 603.8L1087.8 604.1L1088.7 604.5L1089.6 605.0L1090.5 605.4L1091.4 605.6L1092.3 605.9L1093.2 606.4L1094.1 606.8L1095.0 607.2L1095.9 607.6L1096.8 608.0L1097.7 608.5L1098.6 608.9L1099.5 609.4L1100.4 609.8L1101.3 610.3L1102.2 611.0L1103.1 611.5L1104.0 612.0L1104.9 612.5L1105.8 613.0L1106.7 613.4L1107.6 613.8L1108.5 614.3L1109.4 614.8L1110.3 615.3L1111.2 615.8L1112.1 616.3L1113.0 616.7L1113.9 617.2L1114.8 617.7L1115.7 618.1L1116.6 618.5L1117.5 618.9L1118.4 619.2L1119.3 619.4L1120.2 619.4L1121.1 619.4L1122.0 619.3L1122.9 619.3L1123.8 619.3L1124.7 619.4L1125.6 619.1L1126.5 618.6L1127.4 618.1L1128.3 617.8L1129.2 617.8L1130.1 617.7L1131.0 617.1L1131.9 616.6L1132.8 616.7L1133.7 616.8L1134.6 616.8L1135.5 616.7L1136.4 616.7L1137.3 616.5L1138.2 616.4L1139.1 616.2L1140.0 616.3L1140.9 616.7L1141.8 616.9L1142.7 617.0L1143.6 617.2L1144.5 617.5L1145.4 617.9L1146.3 618.4L1147.2 618.8L1148.1 619.5L1149.0 620.4L1149.9 621.3L1150.8 622.1L1151.7 623.1L1152.6 624.2L1153.5 625.2L1154.4 626.4L1155.3 627.8L1156.2 629.0L1157.1 630.3L1158.0 631.6L1158.9 632.9L1159.8 634.4L1160.7 636.0L1161.6 638.0L1162.5 640.3L1163.4 642.7L1164.3 645.1L1165.2 647.8L1166.1 650.8L1167.0 654.2L1167.9 658.0L1168.8 661.9L1169.7 665.8L1170.6 669.8L1171.5 674.0L1172.4 678.8L1173.3 684.3L1174.2 689.8L1175.1 695.3L1176.0 701.8L1176.9 706.1L1177.8 705.8L1178.7 703.2L1179.6 699.8L1180.5 696.9L1181.4 694.1L1182.3 691.1L1183.2 689.0L1184.1 687.9L1185.0 687.4L1185.9 687.0L1186.8 686.8L1187.7 686.8L1188.6 686.7L1189.5 686.3L1190.4 685.3L1191.3 683.8L1192.2 682.3L1193.1 680.8L1194.0 678.9L1194.9 677.2L1195.8 675.7L1196.7 674.5L1197.6 673.8L1198.5 673.2L1199.4 672.9L1200.3 672.7L1201.2 672.5L1202.1 672.5L1203.0 672.8L1203.9 672.9L1204.8 673.3L1205.7 674.4L1206.6 675.8L1207.5 677.6L1208.4 679.2L1209.3 679.5L1210.2 678.8L1211.1 677.7L1212.0 676.5L1212.9 675.4L1213.8 674.4L1214.7 673.4L1215.6 672.0L1216.5 670.6L1217.4 669.4L1218.3 668.4L1219.2 667.3L1220.1 666.3L1221.0 665.1L1221.9 663.8L1222.8 662.5L1223.7 661.0L1224.6 659.6L1225.5 658.5L1226.4 657.5L1227.3 657.2L1228.2 657.2L1229.1 657.2L1230.0 657.3L1230.9 656.9L1231.8 655.7L1232.7 654.1L1233.6 651.8L1234.5 647.0L1235.4 642.0L1236.3 638.1L1237.2 634.7L1238.1 631.6L1239.0 628.6L1239.9 625.9L1240.8 624.1L1241.7 622.6L1242.6 621.6L1243.5 620.8L1244.4 620.0L1245.3 619.3L1246.2 618.9L1247.1 618.3L1248.0 617.7L1248.9 617.5L1249.8 617.5L1250.7 617.3L1251.6 617.0L1252.5 616.9L1253.4 616.8L1254.3 616.5L1255.2 616.2L1256.1 616.1L1257.0 616.3L1257.9 616.2L1258.8 616.0L1259.7 616.2L1260.6 616.3L1261.5 616.5L1262.4 616.6L1263.3 616.7L1264.2 616.9L1265.1 617.1L1266.0 617.3L1266.9 617.5L1267.8 617.7L1268.7 617.9L1269.6 618.2L1270.5 618.5L1271.4 618.8L1272.3 619.0L1273.2 619.3L1274.1 619.7L1275.0 620.2L1275.9 620.5L1276.8 620.9L1277.7 621.3L1278.6 621.8L1279.5 622.4L1280.4 622.9L1281.3 623.2L1282.2 623.7L1283.1 624.1L1284.0 624.5L1284.9 625.0L1285.8 625.4L1286.7 625.9L1287.6 626.4L1288.5 626.9L1289.4 627.3L1290.3 627.8L1291.2 628.5L1292.1 629.2L1293.0 629.8L1293.9 630.6L1294.8 631.4L1295.7 632.1L1296.6 633.0L1297.5 633.9L1298.4 634.8L1299.3 635.7L1300.2 636.6L1301.1 637.6L1302.0 638.8L1302.9 640.1L1303.8 641.3L1304.7 642.7L1305.6 644.4L1306.5 646.3L1307.4 648.3L1308.3 650.3L1309.2 652.2L1310.1 654.3L1311.0 656.5L1311.9 658.7L1312.8 661.1L1313.7 663.6L1314.6 666.2L1315.5 669.1L1316.4 672.1L1317.3 675.1L1318.2 678.1L1319.1 681.1L1320.0 684.1L1320.9 687.1L1321.8 690.1L1322.7 693.1L1323.6 696.2L1324.5 699.4L1325.4 702.5L1326.3 705.1L1327.2 707.5L1328.1 709.8L1329.0 711.8L1329.9 713.5L1330.8 715.1L1331.7 716.5L1332.6 717.8L1333.5 719.3L1334.4 721.2L1335.3 723.4L1336.2 725.9L1337.1 728.6L1338.0 731.2L1338.9 734.0L1339.8 737.0L1340.7 740.5L1341.6 744.6L1342.5 749.2L1343.4 754.2L1344.3 759.6L1345.2 765.2L1346.1 770.6L1347.0 776.2L1347.9 781.5L1348.8 786.3L1349.7 790.9L1350.6 793.8L1351.5 795.4L1352.4 796.2L1353.3 795.8L1354.2 794.5L1355.1 792.5L1356.0 789.2L1356.9 785.4L1357.8 781.9L1358.7 778.6L1359.6 775.5L1360.4 772.5L1361.3 770.0L1362.2 767.6L1363.1 765.4L1364.0 763.7L1364.9 762.8L1365.8 762.1L1366.7 761.8L1367.6 762.4L1368.5 764.0L1369.4 766.0L1370.3 768.5L1371.2 772.2L1372.1 776.7L1373.0 782.6L1373.9 789.8L1374.8 797.5L1375.7 806.0L1376.6 815.3L1377.5 825.8L1378.4 837.7L1379.3 847.9L1380.2 856.3L1381.1 863.7L1382.0 870.9L1382.9 876.9L1383.8 877.5L1384.7 877.1L1385.6 876.5L1386.5 875.4L1387.4 873.9L1388.3 873.2L1389.2 874.2L1390.1 876.4L1391.0 879.3L1391.9 883.7L1392.8 888.7L1393.7 894.0L1394.6 899.7L1395.5 904.9L1396.4 909.3L1397.3 913.1L1398.2 915.5L1399.1 916.9L1400.0 917.7L1400.9 917.1L1401.8 915.5L1402.7 913.2L1403.6 910.7L1404.5 907.8L1405.4 903.9L1406.3 899.3L1407.2 894.5L1408.1 889.6L1409.0 884.3L1409.9 878.7L1410.8 873.0L1411.7 867.7L1412.6 862.1L1413.5 856.5L1414.4 851.2L1415.3 846.3L1416.2 841.5L1417.1 837.0L1418.0 832.9L1418.9 829.8L1419.8 827.4L1420.7 825.4L1421.6 823.5L1422.5 821.6L1423.4 820.0L1424.3 818.3L1425.2 815.2L1426.1 810.5L1427.0 805.4L1427.9 800.3L1428.8 794.8L1429.7 789.6L1430.6 784.9L1431.5 780.4L1432.4 776.1L1433.3 772.2L1434.2 768.5L1435.1 764.9L1436.0 761.4L1436.9 758.3L1437.8 755.6L1438.7 753.2L1439.6 751.0L1440.5 749.0L1441.4 747.3L1442.3 746.0L1443.2 744.8L1444.1 743.8L1445.0 743.3L1445.9 743.2L1446.8 743.1L1447.7 743.0L1448.6 743.0L1449.5 743.9L1450.4 745.6L1451.3 747.4L1452.2 750.0L1453.1 753.1L1454.0 755.7L1454.9 756.2L1455.8 755.1L1456.7 753.7L1457.6 753.0L1458.5 753.7L1459.4 755.0L1460.3 755.5L1461.2 755.0L1462.1 754.2L1463.0 753.8L1463.9 753.7L1464.8 753.7L1465.7 753.7L1466.6 753.8L1467.5 753.8L1468.4 753.6L1469.3 753.3L1470.2 752.8L1471.1 752.2L1472.0 751.7L1472.9 750.9L1473.8 750.1L1474.7 749.2L1475.6 748.2L1476.5 747.1L1477.4 745.9L1478.3 744.6L1479.2 743.2L1480.1 741.6L1481.0 739.7L1481.9 737.8L1482.8 735.9L1483.7 733.8L1484.6 731.6L1485.5 729.4L1486.4 727.4L1487.3 725.5L1488.2 723.7L1489.1 722.0L1490.0 720.2L1490.9 718.3L1491.8 716.3L1492.7 714.5L1493.6 713.0L1494.5 712.1L1495.4 711.3L1496.3 710.7L1497.2 710.3L1498.1 710.1L1499.0 710.0L1499.9 709.9L1500.8 709.8L1501.7 709.5L1502.6 708.6L1503.5 707.2L1504.4 705.9L1505.3 705.1L1506.2 704.5L1507.1 704.1L1508.0 703.7L1508.9 703.4L1509.8 703.3L1510.7 703.3L1511.6 703.4L1512.5 703.7L1513.4 704.0L1514.3 704.3L1515.2 704.7L1516.1 705.2L1517.0 705.8L1517.9 706.6L1518.8 707.5L1519.7 708.4L1520.6 709.5L1521.5 711.1L1522.4 712.9L1523.3 715.0L1524.2 717.3L1525.1 719.9L1526.0 722.6L1526.9 725.4L1527.8 728.6L1528.7 733.0L1529.6 738.9L1530.5 744.7L1531.4 750.4L1532.3 755.7L1533.2 760.4L1534.1 764.7L1535.0 766.9L1535.9 767.4L1536.8 764.3L1537.7 759.6L1538.6 755.7L1539.5 752.1L1540.4 749.4L1541.3 747.7L1542.2 746.1L1543.1 743.4L1544.0 738.8L1544.9 733.8L1545.8 729.4L1546.7 725.1L1547.6 721.4L1548.5 718.4L1549.4 716.0L1550.3 715.0L1551.2 714.3L1552.1 713.9L1553.0 714.2L1553.9 715.3L1554.8 716.7L1555.7 720.4L1556.6 726.6L1557.5 733.7L1558.4 741.6L1559.3 751.1L1560.2 760.4L1561.1 769.3L1562.0 777.7L1562.9 783.8L1563.8 788.6L1564.7 789.6L1565.6 784.5L1566.5 776.5L1567.4 767.4L1568.3 756.4L1569.2 747.8L1570.1 740.8L1571.0 735.4L1571.9 732.4L1572.8 730.2L1573.7 728.6L1574.6 728.0L1575.5 727.7L1576.4 727.5L1577.3 728.6L1578.2 731.7L1579.1 735.9L1580.0 744.1L1580.9 754.5L1581.8 763.3L1582.7 771.6L1583.6 776.9L1584.5 779.6L1585.4 779.3L1586.3 774.8L1587.2 768.3L1588.1 762.3L1589.0 755.5L1589.9 749.2L1590.8 744.5L1591.7 740.7L1592.6 737.8L1593.5 735.7L1594.4 734.0L1595.3 732.6L1596.2 731.5L1597.1 730.6L1598.0 729.8L1598.9 729.2L1599.8 728.8L1600.7 728.8L1601.6 729.0L1602.5 729.4L1603.4 730.0L1604.3 731.0L1605.2 732.5L1606.1 735.2L1607.0 739.2L1607.9 743.4L1608.8 748.2L1609.7 753.0L1610.6 756.4L1611.5 759.3L1612.4 761.2L1613.3 760.8L1614.2 758.9L1615.1 757.6L1616.0 757.6L1616.9 757.6L1617.8 757.9L1618.7 759.2L1619.6 761.1L1620.5 763.7L1621.4 767.7L1622.3 772.6L1623.2 778.2L1624.1 785.3L1625.0 793.2L1625.9 801.0L1626.8 809.3L1627.7 817.3L1628.6 825.1L1629.5 832.5L1630.4 838.7L1631.3 844.6L1632.2 849.2L1633.1 849.7L1634.0 845.9L1634.9 839.9L1635.8 832.3L1636.7 821.0L1637.6 811.1L1638.5 804.7L1639.4 799.5L1640.3 797.6L1641.2 801.1L1642.1 807.9L1643.0 814.3L1643.9 821.7L1644.8 828.2L1645.7 829.9L1646.6 825.7L1647.5 819.2L1648.4 812.8L1649.3 805.4L1650.2 797.9L1651.1 790.4L1652.0 782.9L1652.9 776.5L1653.8 770.8L1654.7 766.0L1655.6 762.6L1656.5 759.6L1657.4 757.7L1658.3 757.6L1659.2 758.2L1660.1 759.8L1661.0 766.3" fill="none" stroke="#E6D832" stroke-width="3.2" stroke-linejoin="round" stroke-linecap="butt"/>
<path d="M86.3 691.7L87.2 691.9L88.1 691.8L89.0 691.6L89.9 691.7L90.8 691.9L91.7 691.9L92.6 691.6L93.5 691.6L94.4 691.6L95.3 691.6L96.2 692.2L97.1 692.7L98.0 692.5L98.9 692.2L99.8 692.3L100.7 692.4L101.6 692.6L102.5 692.9L103.4 693.1L104.3 692.8L105.2 692.8L106.1 693.3L107.0 693.2L107.9 692.8L108.8 692.7L109.7 692.8L110.6 693.0L111.5 693.4L112.4 693.4L113.3 692.9L114.2 692.8L115.1 693.1L116.0 693.5L116.9 693.6L117.8 693.7L118.7 693.6L119.6 693.7L120.5 693.9L121.4 693.6L122.3 693.1L123.2 693.6L124.1 694.1L125.0 694.1L125.9 693.5L126.8 693.2L127.7 693.5L128.6 693.8L129.5 693.7L130.4 693.5L131.3 693.5L132.2 694.1L133.1 694.6L134.0 694.7L134.9 694.6L135.8 694.9L136.7 695.4L137.6 695.8L138.5 695.3L139.4 694.9L140.3 695.4L141.2 695.4L142.1 695.0L143.0 695.1L143.9 695.3L144.8 695.6L145.7 695.9L146.6 695.7L147.5 695.5L148.4 695.7L149.3 695.9L150.2 695.8L151.1 695.8L152.0 695.5L152.9 695.3L153.8 695.5L154.7 695.8L155.6 695.6L156.5 695.4L157.4 695.2L158.3 694.9L159.2 694.8L160.1 694.7L161.0 694.8L161.9 695.1L162.8 695.3L163.7 695.3L164.6 695.2L165.5 695.2L166.4 695.5L167.3 695.8L168.2 695.5L169.1 695.3L170.0 695.8L170.9 696.0L171.8 695.6L172.7 695.4L173.6 695.5L174.5 695.6L175.4 695.8L176.3 696.2L177.2 696.1L178.1 695.6L179.0 695.5L179.9 695.6L180.8 695.7L181.7 696.0L182.6 696.6L183.5 696.6L184.4 696.0L185.3 695.8L186.2 696.4L187.1 696.9L188.0 697.2L188.9 697.3L189.8 697.0L190.7 696.8L191.6 696.6L192.5 696.4L193.4 696.7L194.3 697.2L195.2 697.7L196.1 697.8L197.0 697.8L197.9 698.0L198.8 698.3L199.7 698.3L200.6 698.2L201.5 698.4L202.4 698.8L203.3 699.0L204.2 699.0L205.1 699.2L206.0 699.4L206.9 699.4L207.8 699.5L208.7 699.4L209.6 699.3L210.5 699.6L211.4 700.0L212.3 700.1L213.2 700.1L214.1 699.9L215.0 699.7L215.9 700.2L216.8 701.1L217.7 701.4L218.6 701.2L219.5 700.9L220.4 701.0L221.3 701.5L222.2 702.1L223.1 702.5L224.0 702.4L224.9 702.0L225.8 701.8L226.7 702.1L227.6 703.0L228.5 704.1L229.4 704.8L230.3 704.8L231.2 704.8L232.1 705.0L233.0 705.4L233.9 706.0L234.8 705.8L235.7 705.6L236.6 706.4L237.5 707.1L238.4 707.2L239.3 707.3L240.2 707.7L241.1 708.6L242.0 709.8L242.9 710.6L243.8 711.4L244.7 712.1L245.6 712.6L246.5 713.5L247.4 714.5L248.3 715.4L249.2 715.9L250.1 716.1L251.0 717.1L251.9 718.2L252.8 718.8L253.7 719.7L254.6 720.3L255.5 720.7L256.4 721.6L257.3 722.4L258.2 723.1L259.1 723.8L260.0 724.6L260.9 725.4L261.8 725.7L262.7 725.9L263.6 727.0L264.5 728.1L265.4 728.2L266.3 728.2L267.2 728.8L268.1 729.4L269.0 729.8L269.9 730.3L270.8 731.1L271.7 731.8L272.6 732.3L273.5 732.9L274.4 733.6L275.3 734.3L276.2 734.8L277.1 735.1L278.0 735.5L278.9 735.7L279.8 735.8L280.7 736.3L281.6 737.2L282.5 737.8L283.4 737.6L284.3 737.6L285.2 738.2L286.1 739.0L287.0 739.5L287.9 739.8L288.8 740.3L289.7 740.7L290.6 740.9L291.5 741.4L292.4 742.2L293.3 742.9L294.2 743.1L295.1 743.2L296.0 743.6L296.9 744.2L297.8 744.9L298.7 745.3L299.6 745.4L300.5 745.6L301.4 746.1L302.3 746.5L303.2 746.8L304.1 747.1L305.0 747.2L305.9 747.5L306.8 747.8L307.7 748.0L308.6 748.3L309.5 748.8L310.4 749.1L311.3 749.0L312.2 749.3L313.1 749.6L314.0 749.9L314.9 750.2L315.8 750.5L316.7 750.5L317.6 750.7L318.5 751.0L319.4 751.4L320.3 751.6L321.2 751.6L322.1 751.7L323.0 751.7L323.9 751.7L324.8 751.7L325.7 751.9L326.6 752.0L327.5 752.0L328.4 751.9L329.3 751.9L330.2 751.9L331.1 751.8L332.0 751.8L332.9 751.6L333.8 751.4L334.7 751.1L335.6 750.7L336.5 750.4L337.4 750.0L338.3 749.8L339.2 749.6L340.1 749.3L341.0 749.0L341.9 748.5L342.8 748.1L343.7 747.8L344.6 747.5L345.5 747.1L346.4 746.7L347.3 746.3L348.2 745.9L349.0 745.6L349.9 745.3L350.8 744.8L351.7 744.2L352.6 743.7L353.5 743.2L354.4 742.7L355.3 742.3L356.2 741.9L357.1 741.3L358.0 740.8L358.9 740.4L359.8 739.8L360.7 739.1L361.6 738.4L362.5 738.0L363.4 737.6L364.3 737.2L365.2 736.8L366.1 736.3L367.0 735.8L367.9 735.4L368.8 735.0L369.7 734.6L370.6 734.1L371.5 733.7L372.4 733.3L373.3 732.9L374.2 732.5L375.1 732.0L376.0 731.5L376.9 731.2L377.8 730.7L378.7 730.3L379.6 729.8L380.5 729.4L381.4 729.0L382.3 728.7L383.2 728.3L384.1 727.8L385.0 727.4L385.9 727.0L386.8 726.7L387.7 726.2L388.6 725.8L389.5 725.5L390.4 725.3L391.3 725.0L392.2 724.6L393.1 724.3L394.0 724.1L394.9 723.7L395.8 723.3L396.7 722.9L397.6 722.6L398.5 722.4L399.4 722.0L400.3 721.6L401.2 721.3L402.1 721.1L403.0 720.8L403.9 720.6L404.8 720.2L405.7 719.8L406.6 719.4L407.5 719.1L408.4 718.7L409.3 718.3L410.2 718.0L411.1 717.7L412.0 717.4L412.9 717.1L413.8 716.9L414.7 716.5L415.6 716.1L416.5 715.6L417.4 715.2L418.3 714.9L419.2 714.6L420.1 714.3L421.0 714.0L421.9 713.7L422.8 713.3L423.7 713.1L424.6 712.9L425.5 712.6L426.4 712.3L427.3 712.0L428.2 711.7L429.1 711.4L430.0 711.1L430.9 710.8L431.8 710.5L432.7 710.1L433.6 709.8L434.5 709.6L435.4 709.3L436.3 709.0L437.2 708.7L438.1 708.5L439.0 708.3L439.9 708.0L440.8 707.9L441.7 707.7L442.6 707.3L443.5 707.0L444.4 706.8L445.3 706.6L446.2 706.3L447.1 706.1L448.0 705.9L448.9 705.7L449.8 705.4L450.7 705.2L451.6 705.1L452.5 704.9L453.4 704.6L454.3 704.4L455.2 704.2L456.1 704.0L457.0 703.9L457.9 703.8L458.8 703.6L459.7 703.5L460.6 703.3L461.5 703.2L462.4 703.1L463.3 702.9L464.2 702.6L465.1 702.5L466.0 702.4L466.9 702.3L467.8 702.1L468.7 702.0L469.6 701.7L470.5 701.5L471.4 701.4L472.3 701.4L473.2 701.2L474.1 701.0L475.0 700.9L475.9 700.7L476.8 700.6L477.7 700.5L478.6 700.4L479.5 700.3L480.4 700.2L481.3 700.1L482.2 699.9L483.1 699.8L484.0 699.8L484.9 699.7L485.8 699.6L486.7 699.6L487.6 699.4L488.5 699.4L489.4 699.3L490.3 699.2L491.2 699.1L492.1 699.1L493.0 699.0L493.9 698.9L494.8 698.8L495.7 698.8L496.6 698.7L497.5 698.6L498.4 698.5L499.3 698.5L500.2 698.6L501.1 698.4L502.0 698.1L502.9 698.1L503.8 698.1L504.7 698.1L505.6 698.1L506.5 698.1L507.4 698.0L508.3 697.9L509.2 697.9L510.1 697.8L511.0 697.7L511.9 697.6L512.8 697.6L513.7 697.7L514.6 697.7L515.5 697.7L516.4 697.7L517.3 697.6L518.2 697.6L519.1 697.6L520.0 697.6L520.9 697.5L521.8 697.4L522.7 697.4L523.6 697.3L524.5 697.3L525.4 697.4L526.3 697.3L527.2 697.3L528.1 697.4L529.0 697.6L529.9 697.7L530.8 697.7L531.7 697.7L532.6 697.8L533.5 697.8L534.4 697.9L535.3 697.9L536.2 697.8L537.1 697.9L538.0 697.9L538.9 698.0L539.8 698.1L540.7 698.1L541.6 698.2L542.5 698.3L543.4 698.3L544.3 698.4L545.2 698.5L546.1 698.6L547.0 698.7L547.9 698.9L548.8 699.1L549.7 699.4L550.6 699.7L551.5 699.9L552.4 700.1L553.3 700.4L554.2 700.7L555.1 700.9L556.0 700.9L556.9 700.6L557.8 700.2L558.7 699.8L559.6 699.5L560.5 699.2L561.4 699.0L562.3 698.8L563.2 698.6L564.1 698.4L565.0 698.2L565.9 698.0L566.8 697.9L567.7 697.9L568.6 697.8L569.5 697.7L570.4 697.6L571.3 697.5L572.2 697.4L573.1 697.4L574.0 697.4L574.9 697.5L575.8 697.5L576.7 697.4L577.6 697.4L578.5 697.4L579.4 697.2L580.3 697.2L581.2 697.3L582.1 697.4L583.0 697.5L583.9 697.5L584.8 697.5L585.7 697.5L586.6 697.5L587.5 697.5L588.4 697.3L589.3 697.0L590.2 696.5L591.1 696.0L592.0 695.7L592.9 695.4L593.8 695.0L594.7 694.7L595.6 694.5L596.5 694.3L597.4 694.2L598.3 694.1L599.2 694.1L600.1 694.0L601.0 694.0L601.9 694.0L602.8 693.9L603.7 693.9L604.6 693.8L605.5 693.8L606.4 693.8L607.3 693.8L608.2 693.7L609.1 693.7L610.0 693.6L610.9 693.6L611.8 693.7L612.7 693.7L613.6 693.6L614.5 693.7L615.4 693.7L616.3 693.6L617.2 693.6L618.1 693.6L619.0 693.5L619.9 693.5L620.8 693.5L621.7 693.5L622.6 693.5L623.5 693.4L624.4 693.4L625.3 693.4L626.2 693.4L627.1 693.4L628.0 693.4L628.9 693.4L629.8 693.3L630.7 693.3L631.6 693.3L632.5 693.3L633.4 693.2L634.3 693.3L635.2 693.3L636.1 693.3L637.0 693.2L637.9 693.2L638.8 693.1L639.7 693.1L640.6 693.1L641.5 693.1L642.4 693.0L643.3 693.0L644.2 693.0L645.1 693.0L646.0 693.1L646.9 693.2L647.8 693.2L648.7 693.1L649.6 693.0L650.5 693.1L651.4 693.1L652.3 693.0L653.2 692.9L654.1 692.9L655.0 692.8L655.9 692.9L656.8 692.9L657.7 692.9L658.6 693.0L659.5 693.0L660.4 692.8L661.3 692.7L662.2 692.7L663.1 692.7L664.0 692.7L664.9 692.8L665.8 692.7L666.7 692.7L667.6 692.8L668.5 692.7L669.4 692.7L670.3 692.8L671.2 692.8L672.1 692.8L673.0 692.7L673.9 692.6L674.8 692.7L675.7 692.7L676.6 692.6L677.5 692.5L678.4 692.4L679.3 692.5L680.2 692.5L681.1 692.5L682.0 692.4L682.9 692.4L683.8 692.5L684.7 692.6L685.6 692.6L686.5 692.6L687.4 692.5L688.3 692.5L689.2 692.4L690.1 692.4L691.0 692.3L691.9 692.3L692.8 692.5L693.7 692.4L694.6 692.2L695.5 692.1L696.4 692.2L697.3 692.3L698.2 692.2L699.1 692.2L700.0 692.3L700.9 692.3L701.8 692.2L702.7 692.3L703.6 692.3L704.5 692.2L705.4 692.2L706.3 692.1L707.2 692.1L708.1 692.1L709.0 692.2L709.9 692.3L710.8 692.2L711.7 692.2L712.6 692.2L713.5 692.3L714.4 692.3L715.3 692.1L716.2 692.1L717.1 692.1L718.0 692.0L718.9 692.1L719.8 692.2L720.7 692.3L721.6 692.2L722.5 692.2L723.4 692.1L724.3 692.1L725.2 692.1L726.1 692.2L727.0 692.2L727.9 692.2L728.8 692.2L729.7 692.1L730.6 692.0L731.5 692.0L732.4 692.0L733.3 692.0L734.2 692.1L735.1 692.1L736.0 692.0L736.9 692.0L737.8 692.0L738.7 692.0L739.6 691.9L740.5 691.9L741.4 691.9L742.3 692.0L743.2 691.9L744.1 691.9L745.0 691.9L745.9 691.9L746.8 691.9L747.7 691.9L748.6 691.9L749.5 691.9L750.4 691.8L751.3 691.9L752.2 691.9L753.1 691.9L754.0 691.9L754.9 691.8L755.8 691.8L756.7 691.9L757.6 691.8L758.5 691.8L759.4 691.8L760.3 691.8L761.2 691.7L762.1 691.7L763.0 691.6L763.9 691.7L764.8 691.7L765.7 691.7L766.6 691.6L767.5 691.6L768.4 691.7L769.3 691.7L770.2 691.7L771.1 691.6L772.0 691.6L772.9 691.7L773.8 691.7L774.7 691.7L775.6 691.7L776.5 691.7L777.4 691.7L778.3 691.7L779.2 691.8L780.1 691.8L781.0 691.7L781.9 691.6L782.8 691.6L783.7 691.6L784.6 691.7L785.5 691.6L786.4 691.6L787.3 691.6L788.2 691.6L789.1 691.6L790.0 691.7L790.9 691.8L791.8 691.8L792.7 691.6L793.6 691.5L794.5 691.5L795.4 691.5L796.3 691.5L797.2 691.5L798.1 691.5L799.0 691.5L799.9 691.5L800.8 691.6L801.7 691.5L802.6 691.5L803.5 691.5L804.4 691.5L805.3 691.5L806.2 691.5L807.1 691.4L808.0 691.3L808.9 691.4L809.8 691.4L810.7 691.3L811.6 691.4L812.5 691.5L813.4 691.6L814.3 691.7L815.2 691.6L816.1 691.6L817.0 691.6L817.9 691.5L818.8 691.4L819.7 691.4L820.6 691.4L821.5 691.5L822.4 691.6L823.3 691.6L824.2 691.6L825.1 691.5L826.0 691.5L826.9 691.5L827.8 691.4L828.7 691.4L829.6 691.5L830.5 691.6L831.4 691.5L832.3 691.5L833.2 691.5L834.1 691.6L835.0 691.6L835.9 691.4L836.8 691.4L837.7 691.4L838.6 691.5L839.5 691.5L840.4 691.5L841.3 691.5L842.2 691.5L843.1 691.5L844.0 691.5L844.9 691.5L845.8 691.6L846.7 691.5L847.6 691.4L848.5 691.4L849.4 691.4L850.3 691.4L851.2 691.5L852.1 691.4L853.0 691.4L853.9 691.5L854.7 691.5L855.6 691.6L856.5 691.6L857.4 691.5L858.3 691.5L859.2 691.5L860.1 691.6L861.0 691.6L861.9 691.6L862.8 691.6L863.7 691.6L864.6 691.6L865.5 691.5L866.4 691.6L867.3 691.7L868.2 691.8L869.1 691.8L870.0 691.8L870.9 691.9L871.8 691.9L872.7 691.9L873.6 692.0L874.5 692.0L875.4 692.1L876.3 692.0L877.2 691.9L878.1 692.0L879.0 692.1L879.9 692.1L880.8 692.0L881.7 692.0L882.6 692.1L883.5 692.1L884.4 692.1L885.3 692.1L886.2 692.0L887.1 692.1L888.0 692.1L888.9 692.1L889.8 692.2L890.7 692.3L891.6 692.2L892.5 692.1L893.4 692.1L894.3 692.2L895.2 692.3L896.1 692.2L897.0 692.1L897.9 692.1L898.8 692.1L899.7 692.2L900.6 692.1L901.5 692.1L902.4 692.1L903.3 692.2L904.2 692.2L905.1 692.2L906.0 692.2L906.9 692.3L907.8 692.3L908.7 692.3L909.6 692.2L910.5 692.3L911.4 692.3L912.3 692.3L913.2 692.3L914.1 692.4L915.0 692.5L915.9 692.5L916.8 692.4L917.7 692.4L918.6 692.3L919.5 692.4L920.4 692.5L921.3 692.6L922.2 692.5L923.1 692.3L924.0 692.3L924.9 692.4L925.8 692.5L926.7 692.5L927.6 692.4L928.5 692.3L929.4 692.3L930.3 692.4L931.2 692.4L932.1 692.4L933.0 692.5L933.9 692.5L934.8 692.4L935.7 692.4L936.6 692.4L937.5 692.4L938.4 692.4L939.3 692.4L940.2 692.4L941.1 692.4L942.0 692.4L942.9 692.5L943.8 692.5L944.7 692.3L945.6 692.3L946.5 692.4L947.4 692.5L948.3 692.5L949.2 692.5L950.1 692.5L951.0 692.4L951.9 692.3L952.8 692.3L953.7 692.3L954.6 692.3L955.5 692.3L956.4 692.3L957.3 692.4L958.2 692.5L959.1 692.5L960.0 692.5L960.9 692.5L961.8 692.4L962.7 692.5L963.6 692.5L964.5 692.4L965.4 692.4L966.3 692.4L967.2 692.5L968.1 692.5L969.0 692.4L969.9 692.5L970.8 692.5L971.7 692.4L972.6 692.4L973.5 692.5L974.4 692.4L975.3 692.4L976.2 692.5L977.1 692.6L978.0 692.5L978.9 692.5L979.8 692.5L980.7 692.5L981.6 692.5L982.5 692.5L983.4 692.7L984.3 692.6L985.2 692.5L986.1 692.4L987.0 692.4L987.9 692.5L988.8 692.5L989.7 692.5L990.6 692.5L991.5 692.4L992.4 692.4L993.3 692.4L994.2 692.4L995.1 692.5L996.0 692.6L996.9 692.6L997.8 692.7L998.7 692.6L999.6 692.6L1000.5 692.6L1001.4 692.5L1002.3 692.6L1003.2 692.7L1004.1 692.7L1005.0 692.8L1005.9 692.8L1006.8 692.7L1007.7 692.8L1008.6 692.9L1009.5 693.0L1010.4 693.0L1011.3 693.0L1012.2 693.0L1013.1 692.9L1014.0 692.9L1014.9 693.0L1015.8 693.1L1016.7 693.1L1017.6 693.2L1018.5 693.3L1019.4 693.2L1020.3 693.2L1021.2 693.3L1022.1 693.3L1023.0 693.3L1023.9 693.4L1024.8 693.5L1025.7 693.5L1026.6 693.6L1027.5 693.7L1028.4 693.7L1029.3 693.7L1030.2 693.7L1031.1 693.7L1032.0 693.8L1032.9 693.8L1033.8 694.0L1034.7 694.1L1035.6 694.2L1036.5 694.2L1037.4 694.3L1038.3 694.3L1039.2 694.3L1040.1 694.4L1041.0 694.5L1041.9 694.6L1042.8 694.6L1043.7 694.6L1044.6 694.8L1045.5 695.1L1046.4 695.2L1047.3 695.3L1048.2 695.4L1049.1 695.5L1050.0 695.6L1050.9 695.8L1051.8 695.9L1052.7 695.9L1053.6 696.0L1054.5 696.2L1055.4 696.3L1056.3 696.4L1057.2 696.5L1058.1 696.8L1059.0 696.8L1059.9 696.8L1060.8 696.9L1061.7 697.2L1062.6 697.4L1063.5 697.5L1064.4 697.5L1065.3 697.7L1066.2 697.8L1067.1 698.0L1068.0 698.1L1068.9 698.3L1069.8 698.4L1070.7 698.5L1071.6 698.6L1072.5 698.8L1073.4 699.0L1074.3 699.2L1075.2 699.3L1076.1 699.4L1077.0 699.6L1077.9 699.8L1078.8 699.9L1079.7 700.1L1080.6 700.3L1081.5 700.5L1082.4 700.7L1083.3 700.9L1084.2 701.1L1085.1 701.3L1086.0 701.5L1086.9 701.7L1087.8 702.0L1088.7 702.3L1089.6 702.5L1090.5 702.8L1091.4 703.2L1092.3 703.5L1093.2 703.9L1094.1 704.4L1095.0 704.7L1095.9 705.0L1096.8 705.5L1097.7 706.0L1098.6 706.5L1099.5 707.1L1100.4 707.5L1101.3 708.0L1102.2 708.6L1103.1 709.1L1104.0 709.5L1104.9 710.0L1105.8 710.6L1106.7 711.0L1107.6 711.6L1108.5 712.2L1109.4 712.8L1110.3 713.4L1111.2 713.9L1112.1 714.5L1113.0 715.0L1113.9 715.6L1114.8 716.1L1115.7 716.7L1116.6 717.3L1117.5 718.0L1118.4 718.7L1119.3 719.3L1120.2 719.6L1121.1 719.5L1122.0 719.3L1122.9 719.3L1123.8 719.0L1124.7 718.3L1125.6 717.4L1126.5 716.4L1127.4 715.7L1128.3 715.2L1129.2 714.8L1130.1 714.4L1131.0 714.1L1131.9 713.7L1132.8 713.2L1133.7 712.9L1134.6 712.5L1135.5 712.3L1136.4 712.3L1137.3 712.1L1138.2 711.7L1139.1 711.4L1140.0 711.4L1140.9 711.5L1141.8 711.4L1142.7 711.4L1143.6 711.3L1144.5 711.2L1145.4 711.3L1146.3 711.5L1147.2 711.5L1148.1 711.4L1149.0 711.6L1149.9 712.0L1150.8 712.4L1151.7 712.8L1152.6 713.0L1153.5 713.5L1154.4 714.1L1155.3 714.7L1156.2 715.2L1157.1 715.8L1158.0 716.7L1158.9 717.7L1159.8 718.3L1160.7 719.0L1161.6 720.1L1162.5 721.5L1163.4 723.3L1164.3 725.2L1165.2 727.3L1166.1 729.8L1167.0 732.7L1167.9 736.0L1168.8 739.4L1169.7 743.1L1170.6 747.4L1171.5 751.6L1172.4 755.7L1173.3 759.7L1174.2 763.6L1175.1 767.2L1176.0 771.1L1176.9 775.1L1177.8 776.5L1178.7 775.3L1179.6 773.1L1180.5 770.7L1181.4 768.4L1182.3 765.7L1183.2 763.5L1184.1 762.4L1185.0 761.8L1185.9 761.4L1186.8 760.9L1187.7 760.3L1188.6 760.1L1189.5 759.7L1190.4 758.7L1191.3 757.2L1192.2 755.8L1193.1 754.4L1194.0 752.6L1194.9 750.4L1195.8 748.5L1196.7 747.2L1197.6 745.9L1198.5 744.7L1199.4 744.0L1200.3 743.5L1201.2 743.4L1202.1 743.3L1203.0 743.1L1203.9 742.8L1204.8 742.4L1205.7 742.5L1206.6 742.9L1207.5 743.2L1208.4 743.7L1209.3 743.9L1210.2 743.1L1211.1 742.2L1212.0 742.1L1212.9 742.4L1213.8 743.0L1214.7 743.6L1215.6 743.8L1216.5 743.9L1217.4 743.9L1218.3 744.2L1219.2 744.5L1220.1 744.2L1221.0 743.7L1221.9 743.3L1222.8 742.6L1223.7 741.5L1224.6 740.2L1225.5 738.9L1226.4 738.2L1227.3 737.9L1228.2 737.6L1229.1 737.4L1230.0 737.1L1230.9 736.4L1231.8 735.1L1232.7 733.6L1233.6 731.9L1234.5 729.6L1235.4 727.1L1236.3 723.8L1237.2 720.8L1238.1 720.1L1239.0 719.9L1239.9 719.0L1240.8 717.6L1241.7 716.1L1242.6 715.0L1243.5 714.5L1244.4 714.1L1245.3 713.5L1246.2 713.2L1247.1 713.0L1248.0 712.7L1248.9 712.5L1249.8 712.5L1250.7 712.5L1251.6 712.5L1252.5 712.7L1253.4 712.7L1254.3 712.7L1255.2 712.6L1256.1 712.9L1257.0 713.1L1257.9 713.2L1258.8 713.1L1259.7 713.1L1260.6 713.3L1261.5 713.6L1262.4 713.8L1263.3 714.1L1264.2 714.4L1265.1 714.7L1266.0 714.9L1266.9 715.2L1267.8 715.5L1268.7 715.7L1269.6 715.9L1270.5 716.1L1271.4 716.3L1272.3 716.6L1273.2 716.9L1274.1 717.2L1275.0 717.5L1275.9 717.8L1276.8 718.2L1277.7 718.6L1278.6 719.1L1279.5 719.5L1280.4 719.8L1281.3 720.2L1282.2 720.4L1283.1 720.8L1284.0 721.1L1284.9 721.4L1285.8 721.8L1286.7 722.3L1287.6 722.6L1288.5 722.9L1289.4 723.3L1290.3 723.6L1291.2 724.0L1292.1 724.5L1293.0 725.0L1293.9 725.4L1294.8 726.0L1295.7 726.6L1296.6 727.1L1297.5 727.8L1298.4 728.6L1299.3 729.4L1300.2 730.2L1301.1 731.1L1302.0 732.1L1302.9 733.2L1303.8 734.3L1304.7 735.6L1305.6 737.0L1306.5 738.4L1307.4 739.9L1308.3 741.5L1309.2 743.1L1310.1 744.8L1311.0 746.6L1311.9 748.6L1312.8 750.8L1313.7 753.0L1314.6 755.2L1315.5 757.6L1316.4 760.3L1317.3 763.1L1318.2 766.2L1319.1 769.4L1320.0 772.7L1320.9 776.1L1321.8 779.7L1322.7 783.6L1323.6 787.3L1324.5 790.8L1325.4 794.1L1326.3 797.3L1327.2 800.4L1328.1 803.3L1329.0 805.9L1329.9 807.8L1330.8 809.1L1331.7 810.2L1332.6 811.1L1333.5 811.9L1334.4 812.6L1335.3 813.4L1336.2 814.3L1337.1 815.1L1338.0 816.1L1338.9 817.4L1339.8 819.6L1340.7 822.5L1341.6 825.7L1342.5 829.0L1343.4 832.6L1344.3 836.5L1345.2 840.5L1346.1 844.7L1347.0 849.0L1347.9 853.8L1348.8 858.9L1349.7 863.3L1350.6 866.1L1351.5 868.5L1352.4 869.9L1353.3 869.9L1354.2 869.4L1355.1 868.6L1356.0 867.0L1356.9 864.2L1357.8 860.9L1358.7 858.0L1359.6 855.0L1360.4 852.0L1361.3 849.4L1362.2 847.6L1363.1 846.1L1364.0 844.9L1364.9 844.3L1365.8 844.3L1366.7 844.7L1367.6 845.2L1368.5 845.9L1369.4 847.3L1370.3 849.8L1371.2 852.9L1372.1 856.2L1373.0 860.3L1373.9 865.2L1374.8 871.0L1375.7 877.6L1376.6 885.1L1377.5 894.3L1378.4 905.8L1379.3 924.3L1380.2 941.0L1381.1 944.9L1382.0 947.1L1382.9 949.3L1383.8 951.7L1384.7 953.2L1385.6 953.3L1386.5 953.0L1387.4 952.6L1388.3 951.6L1389.2 950.8L1390.1 951.4L1391.0 952.8L1391.9 956.5L1392.8 961.5L1393.7 967.8L1394.6 974.4L1395.5 980.8L1396.4 986.3L1397.3 990.9L1398.2 993.4L1399.1 995.1L1400.0 995.8L1400.9 995.6L1401.8 994.5L1402.7 993.1L1403.6 989.9L1404.5 985.5L1405.4 981.7L1406.3 978.0L1407.2 974.5L1408.1 970.9L1409.0 967.3L1409.9 963.9L1410.8 960.3L1411.7 956.5L1412.6 952.3L1413.5 947.7L1414.4 943.0L1415.3 938.3L1416.2 933.3L1417.1 928.5L1418.0 924.2L1418.9 919.9L1419.8 916.5L1420.7 914.1L1421.6 912.4L1422.5 910.8L1423.4 909.0L1424.3 907.1L1425.2 905.0L1426.1 902.5L1427.0 899.0L1427.9 895.1L1428.8 891.5L1429.7 887.7L1430.6 884.1L1431.5 880.6L1432.4 877.3L1433.3 874.1L1434.2 871.0L1435.1 868.0L1436.0 865.2L1436.9 862.4L1437.8 859.8L1438.7 857.3L1439.6 854.9L1440.5 852.7L1441.4 850.6L1442.3 848.6L1443.2 846.8L1444.1 845.2L1445.0 843.9L1445.9 842.8L1446.8 842.0L1447.7 841.4L1448.6 841.4L1449.5 841.9L1450.4 842.4L1451.3 842.6L1452.2 842.6L1453.1 842.6L1454.0 842.5L1454.9 842.6L1455.8 843.0L1456.7 843.6L1457.6 844.3L1458.5 845.5L1459.4 847.0L1460.3 847.6L1461.2 847.6L1462.1 847.4L1463.0 847.1L1463.9 846.9L1464.8 846.7L1465.7 846.5L1466.6 846.1L1467.5 845.8L1468.4 845.5L1469.3 845.1L1470.2 844.6L1471.1 844.0L1472.0 843.3L1472.9 842.2L1473.8 840.9L1474.7 839.4L1475.6 838.0L1476.5 836.4L1477.4 834.6L1478.3 832.6L1479.2 830.4L1480.1 827.9L1481.0 825.1L1481.9 822.2L1482.8 819.5L1483.7 816.8L1484.6 813.9L1485.5 811.2L1486.4 808.7L1487.3 806.3L1488.2 804.1L1489.1 802.1L1490.0 800.3L1490.9 798.6L1491.8 797.2L1492.7 795.9L1493.6 794.8L1494.5 793.9L1495.4 793.2L1496.3 792.6L1497.2 792.0L1498.1 791.5L1499.0 791.1L1499.9 790.7L1500.8 790.3L1501.7 789.9L1502.6 789.4L1503.5 788.8L1504.4 788.3L1505.3 787.9L1506.2 787.7L1507.1 787.6L1508.0 787.5L1508.9 787.7L1509.8 788.0L1510.7 788.5L1511.6 788.9L1512.5 789.8L1513.4 791.0L1514.3 792.5L1515.2 793.9L1516.1 795.3L1517.0 796.7L1517.9 798.2L1518.8 799.8L1519.7 801.5L1520.6 803.2L1521.5 805.0L1522.4 806.9L1523.3 809.1L1524.2 811.4L1525.1 813.8L1526.0 816.4L1526.9 819.0L1527.8 821.7L1528.7 824.7L1529.6 827.9L1530.5 831.6L1531.4 836.1L1532.3 840.9L1533.2 845.2L1534.1 849.6L1535.0 853.3L1535.9 856.2L1536.8 856.8L1537.7 855.1L1538.6 853.1L1539.5 851.9L1540.4 851.0L1541.3 850.2L1542.2 849.4L1543.1 848.6L1544.0 847.4L1544.9 844.5L1545.8 840.3L1546.7 836.3L1547.6 832.4L1548.5 828.9L1549.4 826.1L1550.3 823.7L1551.2 822.0L1552.1 821.3L1553.0 820.8L1553.9 820.6L1554.8 820.9L1555.7 821.7L1556.6 822.9L1557.5 825.6L1558.4 829.8L1559.3 835.0L1560.2 843.0L1561.1 851.8L1562.0 861.8L1562.9 868.8L1563.8 873.1L1564.7 874.0L1565.6 869.9L1566.5 863.7L1567.4 857.3L1568.3 849.8L1569.2 843.2L1570.1 837.2L1571.0 832.0L1571.9 828.2L1572.8 825.0L1573.7 822.5L1574.6 821.2L1575.5 820.4L1576.4 819.7L1577.3 819.5L1578.2 821.3L1579.1 824.9L1580.0 829.4L1580.9 836.7L1581.8 844.8L1582.7 851.3L1583.6 857.2L1584.5 858.5L1585.4 855.5L1586.3 850.9L1587.2 845.5L1588.1 838.7L1589.0 832.2L1589.9 826.4L1590.8 821.0L1591.7 816.4L1592.6 812.3L1593.5 808.9L1594.4 806.3L1595.3 804.0L1596.2 802.4L1597.1 801.6L1598.0 800.9L1598.9 800.6L1599.8 800.9L1600.7 801.8L1601.6 802.9L1602.5 804.2L1603.4 806.1L1604.3 808.5L1605.2 811.3L1606.1 814.8L1607.0 819.1L1607.9 823.5L1608.8 828.2L1609.7 832.8L1610.6 836.5L1611.5 840.1L1612.4 842.4L1613.3 842.4L1614.2 841.9L1615.1 841.3L1616.0 841.1L1616.9 840.9L1617.8 840.8L1618.7 840.9L1619.6 841.4L1620.5 842.3L1621.4 844.1L1622.3 847.9L1623.2 852.5L1624.1 857.8L1625.0 864.4L1625.9 871.7L1626.8 880.5L1627.7 889.9L1628.6 898.8L1629.5 907.6L1630.4 915.3L1631.3 921.3L1632.2 926.2L1633.1 926.7L1634.0 921.9L1634.9 915.0L1635.8 907.8L1636.7 898.7L1637.6 891.0L1638.5 885.8L1639.4 881.6L1640.3 880.1L1641.2 883.0L1642.1 888.6L1643.0 894.3L1643.9 901.7L1644.8 908.6L1645.7 910.5L1646.6 907.0L1647.5 901.5L1648.4 895.9L1649.3 889.3L1650.2 882.8L1651.1 876.9L1652.0 871.2L1652.9 866.9L1653.8 863.7L1654.7 861.2L1655.6 859.7L1656.5 858.8L1657.4 858.0L1658.3 856.6L1659.2 854.2L1660.1 851.5L1661.0 848.1" fill="none" stroke="#22FFFF" stroke-width="3.2" stroke-linejoin="round" stroke-linecap="butt"/>
<path d="M86.3 777.4L87.2 777.5L88.1 778.3L89.0 779.0L89.9 778.7L90.8 778.1L91.7 777.9L92.6 777.9L93.5 778.3L94.4 779.1L95.3 779.5L96.2 779.2L97.1 778.8L98.0 778.6L98.9 778.5L99.8 778.4L100.7 778.4L101.6 778.5L102.5 778.6L103.4 778.8L104.3 778.9L105.2 778.8L106.1 778.9L107.0 779.3L107.9 779.7L108.8 780.2L109.7 779.9L110.6 779.2L111.5 779.3L112.4 779.9L113.3 779.9L114.2 779.8L115.1 779.6L116.0 779.5L116.9 779.8L117.8 779.5L118.7 779.2L119.6 779.5L120.5 779.7L121.4 779.9L122.3 780.1L123.2 780.0L124.1 779.9L125.0 780.0L125.9 780.4L126.8 780.6L127.7 780.7L128.6 780.7L129.5 780.5L130.4 780.4L131.3 780.6L132.2 780.9L133.1 780.7L134.0 780.8L134.9 781.1L135.8 780.7L136.7 780.4L137.6 780.2L138.5 779.8L139.4 780.2L140.3 780.4L141.2 780.1L142.1 780.1L143.0 780.3L143.9 780.5L144.8 781.0L145.7 781.2L146.6 781.1L147.5 781.0L148.4 780.9L149.3 780.8L150.2 780.9L151.1 781.5L152.0 781.7L152.9 781.3L153.8 781.0L154.7 781.1L155.6 781.6L156.5 782.1L157.4 782.1L158.3 781.6L159.2 781.3L160.1 781.7L161.0 782.0L161.9 782.0L162.8 781.8L163.7 781.1L164.6 780.5L165.5 781.1L166.4 781.9L167.3 781.7L168.2 781.7L169.1 781.9L170.0 781.8L170.9 781.9L171.8 782.2L172.7 782.1L173.6 782.2L174.5 782.2L175.4 782.0L176.3 782.2L177.2 781.9L178.1 781.4L179.0 781.5L179.9 782.1L180.8 782.4L181.7 782.7L182.6 782.4L183.5 782.0L184.4 781.9L185.3 782.2L186.2 782.7L187.1 782.9L188.0 783.2L188.9 783.4L189.8 783.2L190.7 783.0L191.6 782.5L192.5 782.5L193.4 783.2L194.3 783.5L195.2 783.3L196.1 783.7L197.0 783.7L197.9 783.6L198.8 784.0L199.7 784.4L200.6 784.4L201.5 784.4L202.4 784.9L203.3 784.9L204.2 784.4L205.1 784.5L206.0 785.0L206.9 784.8L207.8 784.6L208.7 785.2L209.6 785.8L210.5 786.0L211.4 786.0L212.3 786.0L213.2 786.1L214.1 785.7L215.0 785.2L215.9 785.7L216.8 786.1L217.7 786.1L218.6 786.2L219.5 786.2L220.4 786.4L221.3 787.2L222.2 787.6L223.1 787.6L224.0 787.7L224.9 787.7L225.8 787.7L226.7 787.9L227.6 788.0L228.5 788.1L229.4 788.5L230.3 788.8L231.2 788.8L232.1 789.0L233.0 789.3L233.9 789.7L234.8 790.1L235.7 790.2L236.6 790.6L237.5 791.6L238.4 792.2L239.3 792.1L240.2 792.4L241.1 793.0L242.0 793.4L242.9 794.0L243.8 794.4L244.7 794.7L245.6 795.7L246.5 796.5L247.4 796.6L248.3 796.6L249.2 797.2L250.1 798.1L251.0 798.7L251.9 799.5L252.8 800.3L253.7 800.7L254.6 801.1L255.5 801.7L256.4 802.4L257.3 803.2L258.2 804.1L259.1 804.9L260.0 806.1L260.9 807.3L261.8 807.5L262.7 807.6L263.6 808.3L264.5 809.3L265.4 810.1L266.3 810.6L267.2 810.6L268.1 810.6L269.0 811.3L269.9 812.3L270.8 813.0L271.7 813.6L272.6 814.1L273.5 814.8L274.4 816.0L275.3 816.8L276.2 817.3L277.1 817.9L278.0 818.6L278.9 819.3L279.8 819.5L280.7 819.7L281.6 820.2L282.5 820.7L283.4 820.8L284.3 821.2L285.2 821.7L286.1 822.2L287.0 822.7L287.9 823.5L288.8 823.8L289.7 823.9L290.6 824.3L291.5 824.9L292.4 825.2L293.3 825.4L294.2 826.1L295.1 826.7L296.0 827.0L296.9 827.6L297.8 828.0L298.7 827.8L299.6 828.1L300.5 828.9L301.4 829.3L302.3 829.5L303.2 829.7L304.1 830.2L305.0 830.9L305.9 831.2L306.8 831.3L307.7 831.5L308.6 831.9L309.5 832.1L310.4 832.4L311.3 832.8L312.2 833.0L313.1 833.1L314.0 833.4L314.9 833.8L315.8 834.0L316.7 834.4L317.6 834.7L318.5 835.0L319.4 835.1L320.3 835.2L321.2 835.5L322.1 835.6L323.0 835.7L323.9 835.7L324.8 835.7L325.7 835.8L326.6 835.8L327.5 835.7L328.4 835.8L329.3 835.7L330.2 835.7L331.1 835.7L332.0 835.6L332.9 835.6L333.8 835.5L334.7 835.3L335.6 835.0L336.5 834.8L337.4 834.6L338.3 834.4L339.2 834.3L340.1 833.9L341.0 833.6L341.9 833.4L342.8 833.0L343.7 832.6L344.6 832.2L345.5 831.9L346.4 831.6L347.3 831.2L348.2 830.8L349.1 830.4L350.0 829.8L350.9 829.4L351.8 829.2L352.7 828.9L353.6 828.5L354.5 827.9L355.4 827.4L356.3 827.0L357.2 826.5L358.1 826.0L359.0 825.5L359.9 825.0L360.8 824.4L361.7 823.9L362.6 823.3L363.5 822.7L364.4 822.1L365.3 821.5L366.2 821.0L367.1 820.6L368.0 820.1L368.9 819.5L369.8 819.0L370.7 818.3L371.6 817.8L372.5 817.3L373.4 816.8L374.3 816.2L375.2 815.6L376.1 815.0L377.0 814.6L377.9 814.3L378.8 813.8L379.7 813.4L380.6 813.0L381.5 812.6L382.4 812.1L383.3 811.6L384.2 811.1L385.1 810.6L386.0 810.2L386.9 809.9L387.8 809.5L388.7 809.1L389.6 808.7L390.5 808.3L391.4 808.0L392.3 807.6L393.2 807.4L394.1 807.2L395.0 806.8L395.9 806.5L396.8 806.3L397.7 806.1L398.6 805.8L399.5 805.4L400.4 805.3L401.3 805.1L402.2 804.9L403.1 804.7L404.0 804.6L404.9 804.5L405.8 804.3L406.7 804.0L407.6 803.8L408.5 803.8L409.4 803.8L410.3 803.8L411.2 803.8L412.1 803.6L413.0 803.4L413.9 803.3L414.8 803.3L415.7 803.2L416.6 803.0L417.5 802.8L418.4 802.6L419.3 802.4L420.2 802.1L421.1 801.9L422.0 801.7L422.9 801.4L423.8 801.1L424.7 800.9L425.6 800.7L426.5 800.3L427.4 800.0L428.3 799.7L429.2 799.4L430.1 799.2L431.0 798.9L431.9 798.6L432.8 798.3L433.7 797.9L434.6 797.7L435.5 797.4L436.4 797.1L437.3 796.9L438.2 796.8L439.1 796.6L440.0 796.2L440.9 795.9L441.8 795.6L442.7 795.5L443.6 795.3L444.5 795.0L445.4 794.8L446.3 794.6L447.2 794.3L448.1 794.1L449.0 794.0L449.9 793.9L450.8 793.6L451.7 793.3L452.6 793.3L453.5 793.1L454.3 792.9L455.2 792.8L456.1 792.5L457.0 792.3L457.9 792.1L458.8 791.9L459.7 791.7L460.6 791.5L461.5 791.5L462.4 791.3L463.3 791.1L464.2 791.0L465.1 790.8L466.0 790.6L466.9 790.5L467.8 790.6L468.7 790.5L469.6 790.3L470.5 790.2L471.4 790.1L472.3 789.9L473.2 789.9L474.1 789.7L475.0 789.5L475.9 789.4L476.8 789.3L477.7 789.1L478.6 789.0L479.5 788.9L480.4 788.8L481.3 788.7L482.2 788.6L483.1 788.7L484.0 788.6L484.9 788.4L485.8 788.5L486.7 788.4L487.6 788.3L488.5 788.2L489.4 788.0L490.3 787.8L491.2 787.9L492.1 787.9L493.0 787.8L493.9 787.8L494.8 787.7L495.7 787.5L496.6 787.4L497.5 787.3L498.4 787.2L499.3 787.2L500.2 787.2L501.1 787.1L502.0 786.9L502.9 786.9L503.8 786.9L504.7 786.8L505.6 786.7L506.5 786.8L507.4 786.8L508.3 786.5L509.2 786.3L510.1 786.4L511.0 786.4L511.9 786.3L512.8 786.1L513.7 785.9L514.6 785.8L515.5 785.8L516.4 785.8L517.3 785.8L518.2 785.8L519.1 785.9L520.0 785.8L520.9 785.8L521.8 785.8L522.7 785.7L523.6 785.6L524.5 785.6L525.4 785.6L526.3 785.5L527.2 785.6L528.1 785.7L529.0 785.7L529.9 785.6L530.8 785.6L531.7 785.6L532.6 785.8L533.5 785.8L534.4 785.7L535.3 785.7L536.2 785.8L537.1 785.9L538.0 785.9L538.9 785.8L539.8 785.9L540.7 786.0L541.6 786.0L542.5 786.0L543.4 786.0L544.3 786.0L545.2 786.1L546.1 786.1L547.0 786.2L547.9 786.3L548.8 786.4L549.7 786.4L550.6 786.5L551.5 786.7L552.4 787.1L553.3 787.5L554.2 787.8L555.1 787.9L556.0 787.7L556.9 787.4L557.8 787.0L558.7 786.6L559.6 786.2L560.5 785.9L561.4 785.7L562.3 785.6L563.2 785.5L564.1 785.4L565.0 785.2L565.9 785.1L566.8 784.9L567.7 784.9L568.6 784.9L569.5 784.9L570.4 784.8L571.3 784.8L572.2 784.7L573.1 784.7L574.0 784.7L574.9 784.7L575.8 784.6L576.7 784.5L577.6 784.4L578.5 784.4L579.4 784.3L580.3 784.3L581.2 784.4L582.1 784.3L583.0 784.3L583.9 784.3L584.8 784.3L585.7 784.3L586.6 784.4L587.5 784.4L588.4 784.3L589.3 784.1L590.2 783.9L591.1 783.6L592.0 783.3L592.9 783.1L593.8 783.1L594.7 783.0L595.6 782.9L596.5 782.9L597.4 782.8L598.3 782.8L599.2 782.7L600.1 782.6L601.0 782.6L601.9 782.7L602.8 782.6L603.7 782.5L604.6 782.5L605.5 782.4L606.4 782.4L607.3 782.3L608.2 782.3L609.1 782.4L610.0 782.4L610.9 782.3L611.8 782.2L612.7 782.1L613.6 782.1L614.5 782.2L615.4 782.2L616.3 782.0L617.2 781.9L618.1 782.0L619.0 781.9L619.9 781.8L620.8 781.9L621.7 781.9L622.6 781.8L623.5 781.8L624.4 781.8L625.3 781.8L626.2 781.7L627.1 781.6L628.0 781.6L628.9 781.6L629.8 781.5L630.7 781.6L631.6 781.6L632.5 781.5L633.4 781.5L634.3 781.6L635.2 781.6L636.1 781.6L637.0 781.6L637.9 781.5L638.8 781.3L639.7 781.3L640.6 781.3L641.5 781.4L642.4 781.4L643.3 781.3L644.2 781.3L645.1 781.3L646.0 781.2L646.9 781.2L647.8 781.3L648.7 781.2L649.6 781.1L650.5 781.1L651.4 781.2L652.3 781.3L653.2 781.2L654.1 781.1L655.0 781.1L655.9 781.1L656.8 781.0L657.7 781.0L658.6 781.0L659.5 781.1L660.4 781.0L661.3 780.7L662.2 780.6L663.1 780.8L664.0 780.9L664.9 780.8L665.8 780.8L666.7 780.9L667.6 780.7L668.5 780.8L669.4 780.8L670.3 780.7L671.2 780.7L672.1 780.7L673.0 780.7L673.9 780.7L674.8 780.7L675.7 780.8L676.6 780.7L677.5 780.7L678.4 780.6L679.3 780.4L680.2 780.4L681.1 780.5L682.0 780.6L682.9 780.6L683.8 780.6L684.7 780.5L685.6 780.3L686.5 780.2L687.4 780.2L688.3 780.3L689.2 780.3L690.1 780.3L691.0 780.3L691.9 780.3L692.8 780.3L693.7 780.4L694.6 780.3L695.5 780.2L696.4 780.3L697.3 780.3L698.2 780.3L699.1 780.2L700.0 780.3L700.9 780.3L701.8 780.2L702.7 780.2L703.6 780.3L704.5 780.2L705.4 780.1L706.3 780.0L707.2 780.1L708.1 780.1L709.0 780.1L709.9 780.0L710.8 779.9L711.7 779.9L712.6 780.0L713.5 780.0L714.4 779.9L715.3 779.8L716.2 779.9L717.1 779.9L718.0 779.9L718.9 780.0L719.8 780.1L720.7 780.0L721.6 779.8L722.5 779.7L723.4 779.8L724.3 779.8L725.2 779.8L726.1 779.8L727.0 779.8L727.9 779.8L728.8 779.7L729.7 779.7L730.6 779.7L731.5 779.7L732.4 779.7L733.3 779.6L734.2 779.6L735.1 779.6L736.0 779.7L736.9 779.7L737.8 779.5L738.7 779.4L739.6 779.5L740.5 779.5L741.4 779.4L742.3 779.4L743.2 779.5L744.1 779.4L745.0 779.3L745.9 779.3L746.8 779.3L747.7 779.3L748.6 779.4L749.5 779.3L750.4 779.3L751.3 779.4L752.2 779.4L753.1 779.3L754.0 779.2L754.9 779.3L755.8 779.4L756.7 779.3L757.6 779.3L758.5 779.3L759.4 779.2L760.3 779.2L761.2 779.1L762.1 779.1L763.0 779.2L763.9 779.2L764.8 779.1L765.7 779.0L766.6 779.0L767.5 779.0L768.4 779.0L769.3 779.0L770.2 779.0L771.1 779.0L772.0 778.9L772.9 778.8L773.8 778.8L774.7 778.8L775.6 779.0L776.5 779.2L777.4 779.2L778.3 779.0L779.2 778.9L780.1 778.8L781.0 778.9L781.9 778.8L782.8 778.8L783.7 778.8L784.6 778.8L785.5 778.8L786.4 778.8L787.3 778.7L788.2 778.7L789.1 778.8L790.0 778.8L790.9 778.7L791.8 778.7L792.7 778.7L793.6 778.6L794.5 778.6L795.4 778.6L796.3 778.6L797.2 778.6L798.1 778.6L799.0 778.6L799.9 778.6L800.8 778.5L801.7 778.5L802.6 778.6L803.5 778.6L804.4 778.6L805.3 778.5L806.2 778.4L807.1 778.4L808.0 778.4L808.9 778.5L809.8 778.6L810.7 778.6L811.6 778.5L812.5 778.5L813.4 778.6L814.3 778.6L815.2 778.4L816.1 778.4L817.0 778.5L817.9 778.6L818.8 778.5L819.7 778.3L820.6 778.4L821.5 778.4L822.4 778.3L823.3 778.4L824.2 778.4L825.1 778.2L826.0 778.2L826.9 778.2L827.8 778.2L828.7 778.2L829.6 778.3L830.5 778.3L831.4 778.3L832.3 778.3L833.2 778.3L834.1 778.3L835.0 778.3L835.9 778.3L836.8 778.3L837.7 778.3L838.6 778.3L839.5 778.4L840.4 778.3L841.3 778.1L842.2 778.2L843.1 778.3L844.0 778.4L844.9 778.4L845.8 778.4L846.7 778.4L847.6 778.5L848.5 778.5L849.4 778.5L850.3 778.4L851.2 778.3L852.1 778.3L853.0 778.3L853.9 778.3L854.8 778.4L855.7 778.4L856.6 778.3L857.5 778.2L858.4 778.2L859.3 778.3L860.2 778.4L861.1 778.3L862.0 778.3L862.9 778.4L863.8 778.4L864.7 778.4L865.6 778.5L866.5 778.4L867.4 778.4L868.3 778.5L869.2 778.6L870.1 778.6L871.0 778.6L871.9 778.6L872.8 778.6L873.7 778.6L874.6 778.6L875.5 778.8L876.4 778.9L877.3 778.9L878.2 778.8L879.1 778.7L880.0 778.7L880.9 778.9L881.8 778.9L882.7 779.0L883.6 779.0L884.5 778.8L885.4 778.8L886.3 778.9L887.2 779.0L888.1 778.9L889.0 778.9L889.9 778.9L890.8 778.9L891.7 779.0L892.6 779.1L893.5 779.2L894.4 779.2L895.3 779.2L896.2 779.2L897.1 779.2L898.0 779.1L898.9 779.2L899.8 779.3L900.7 779.3L901.6 779.4L902.5 779.4L903.4 779.3L904.3 779.3L905.2 779.3L906.1 779.4L907.0 779.4L907.9 779.4L908.8 779.4L909.7 779.5L910.6 779.6L911.5 779.6L912.4 779.6L913.3 779.6L914.2 779.5L915.1 779.5L916.0 779.6L916.9 779.7L917.8 779.6L918.7 779.6L919.6 779.8L920.5 779.8L921.4 779.8L922.3 779.8L923.2 779.8L924.1 779.7L925.0 779.7L925.9 779.7L926.8 779.6L927.7 779.7L928.6 779.8L929.5 779.7L930.4 779.7L931.3 779.8L932.2 779.9L933.1 779.8L934.0 779.8L934.9 779.8L935.8 779.7L936.7 779.7L937.6 779.7L938.5 779.8L939.4 779.8L940.3 779.8L941.2 779.8L942.1 779.8L943.0 779.7L943.9 779.7L944.8 779.7L945.7 779.6L946.6 779.7L947.5 779.8L948.4 779.8L949.3 779.8L950.2 779.7L951.1 779.7L952.0 779.7L952.9 779.8L953.8 779.8L954.7 779.7L955.6 779.7L956.5 779.8L957.4 779.9L958.3 779.9L959.2 779.8L960.1 779.8L961.0 779.8L961.9 779.8L962.8 779.9L963.7 779.9L964.6 780.0L965.5 779.9L966.4 779.7L967.3 779.6L968.2 779.6L969.1 779.8L970.0 779.8L970.9 779.8L971.8 779.7L972.7 779.6L973.6 779.6L974.5 779.7L975.4 779.8L976.3 779.8L977.2 779.8L978.1 779.7L979.0 779.7L979.9 779.8L980.8 779.7L981.7 779.7L982.6 779.7L983.5 779.9L984.4 779.8L985.3 779.8L986.2 779.8L987.1 779.8L988.0 779.8L988.9 779.6L989.8 779.6L990.7 779.5L991.6 779.4L992.5 779.4L993.4 779.4L994.3 779.3L995.2 779.3L996.1 779.4L997.0 779.4L997.9 779.4L998.8 779.4L999.7 779.4L1000.6 779.4L1001.5 779.4L1002.4 779.2L1003.3 779.2L1004.2 779.3L1005.1 779.2L1006.0 779.2L1006.9 779.3L1007.8 779.3L1008.7 779.3L1009.6 779.2L1010.5 779.2L1011.4 779.2L1012.3 779.2L1013.2 779.3L1014.1 779.3L1015.0 779.4L1015.9 779.3L1016.8 779.2L1017.7 779.2L1018.6 779.2L1019.5 779.2L1020.4 779.2L1021.3 779.3L1022.2 779.2L1023.1 779.2L1024.0 779.2L1024.9 779.2L1025.8 779.2L1026.7 779.2L1027.6 779.2L1028.5 779.4L1029.4 779.5L1030.3 779.4L1031.2 779.4L1032.1 779.4L1033.0 779.6L1033.9 779.6L1034.8 779.7L1035.7 779.8L1036.6 779.8L1037.5 779.8L1038.4 779.9L1039.3 780.0L1040.2 780.0L1041.1 780.0L1042.0 780.1L1042.9 780.2L1043.8 780.3L1044.7 780.3L1045.6 780.3L1046.5 780.5L1047.4 780.5L1048.3 780.4L1049.2 780.4L1050.1 780.5L1051.0 780.7L1051.9 780.8L1052.8 780.9L1053.7 780.8L1054.6 780.8L1055.5 780.9L1056.4 781.1L1057.3 781.3L1058.2 781.3L1059.1 781.3L1060.0 781.3L1060.9 781.4L1061.8 781.6L1062.7 781.8L1063.6 781.9L1064.5 782.0L1065.4 782.1L1066.3 782.2L1067.2 782.3L1068.1 782.4L1069.0 782.6L1069.9 782.7L1070.8 782.9L1071.7 783.2L1072.6 783.4L1073.5 783.6L1074.4 783.7L1075.3 783.9L1076.2 784.0L1077.1 784.1L1078.0 784.3L1078.9 784.5L1079.8 784.8L1080.7 785.0L1081.6 785.2L1082.5 785.3L1083.4 785.4L1084.3 785.6L1085.2 785.8L1086.1 786.1L1087.0 786.3L1087.9 786.4L1088.8 786.6L1089.7 786.8L1090.6 787.1L1091.5 787.3L1092.4 787.6L1093.3 787.9L1094.2 788.2L1095.1 788.4L1096.0 788.8L1096.9 789.1L1097.8 789.5L1098.7 789.8L1099.6 790.3L1100.5 790.7L1101.4 791.1L1102.3 791.6L1103.2 792.0L1104.1 792.5L1105.0 792.9L1105.9 793.4L1106.8 793.9L1107.7 794.6L1108.6 795.2L1109.5 795.7L1110.4 796.2L1111.3 796.8L1112.2 797.4L1113.1 798.0L1114.0 798.6L1114.9 799.0L1115.8 799.5L1116.7 800.0L1117.6 800.5L1118.5 801.1L1119.4 801.6L1120.3 801.9L1121.2 802.1L1122.1 802.2L1123.0 802.1L1123.9 802.0L1124.8 801.7L1125.7 801.1L1126.6 800.6L1127.5 800.1L1128.4 799.5L1129.3 798.9L1130.2 798.2L1131.1 797.5L1132.0 796.8L1132.9 796.0L1133.8 795.5L1134.7 795.2L1135.6 794.7L1136.5 794.3L1137.4 794.0L1138.3 793.8L1139.2 793.5L1140.1 793.0L1141.0 792.5L1141.9 792.3L1142.8 792.1L1143.7 791.9L1144.6 791.7L1145.5 791.5L1146.4 791.3L1147.3 791.3L1148.2 791.2L1149.1 791.2L1150.0 791.0L1150.9 791.0L1151.8 791.3L1152.7 791.5L1153.6 791.6L1154.5 791.6L1155.4 791.6L1156.3 791.7L1157.2 792.1L1158.1 792.3L1159.0 792.6L1159.9 793.0L1160.8 793.3L1161.7 793.5L1162.6 793.8L1163.5 794.5L1164.3 795.3L1165.2 796.0L1166.1 796.2L1167.0 796.4L1167.9 796.8L1168.8 797.3L1169.7 798.0L1170.6 798.4L1171.5 798.7L1172.4 799.2L1173.3 799.6L1174.2 799.7L1175.1 799.8L1176.0 800.0L1176.9 800.1L1177.8 800.2L1178.7 800.2L1179.6 800.2L1180.5 800.3L1181.4 800.4L1182.3 800.5L1183.2 800.6L1184.1 800.9L1185.0 801.2L1185.9 801.4L1186.8 801.4L1187.7 801.4L1188.6 801.5L1189.5 801.7L1190.4 801.8L1191.3 802.0L1192.2 802.1L1193.1 801.9L1194.0 802.0L1194.9 802.1L1195.8 802.1L1196.7 802.2L1197.6 802.2L1198.5 802.4L1199.4 802.4L1200.3 802.5L1201.2 803.0L1202.1 803.6L1203.0 804.0L1203.9 804.4L1204.8 804.9L1205.7 805.3L1206.6 805.8L1207.5 806.3L1208.4 806.6L1209.3 806.8L1210.2 806.8L1211.1 806.8L1212.0 806.7L1212.9 806.7L1213.8 806.7L1214.7 806.7L1215.6 806.7L1216.5 806.8L1217.4 806.8L1218.3 806.7L1219.2 806.6L1220.1 806.5L1221.0 806.4L1221.9 806.4L1222.8 806.4L1223.7 806.1L1224.6 805.9L1225.5 805.8L1226.4 805.8L1227.3 805.7L1228.2 805.6L1229.1 805.5L1230.0 805.3L1230.9 804.9L1231.8 804.5L1232.7 804.1L1233.6 803.5L1234.5 802.9L1235.4 802.6L1236.3 802.5L1237.2 802.4L1238.1 802.4L1239.0 802.5L1239.9 802.5L1240.8 802.3L1241.7 802.3L1242.6 802.4L1243.5 802.7L1244.4 802.8L1245.3 802.9L1246.2 803.2L1247.1 803.5L1248.0 803.8L1248.9 804.1L1249.8 804.3L1250.7 804.6L1251.6 804.9L1252.5 805.3L1253.4 805.8L1254.3 806.2L1255.2 806.7L1256.1 807.2L1257.0 807.4L1257.9 807.6L1258.8 807.9L1259.7 808.2L1260.6 808.5L1261.5 808.6L1262.4 808.7L1263.3 809.0L1264.2 809.3L1265.1 809.5L1266.0 809.9L1266.9 810.2L1267.8 810.3L1268.7 810.8L1269.6 811.4L1270.5 811.8L1271.4 812.2L1272.3 812.7L1273.2 813.3L1274.1 813.7L1275.0 814.2L1275.9 814.7L1276.8 815.2L1277.7 815.6L1278.6 816.0L1279.5 816.4L1280.4 816.8L1281.3 817.3L1282.2 817.7L1283.1 818.1L1284.0 818.5L1284.9 819.2L1285.8 820.0L1286.7 820.7L1287.6 821.4L1288.5 822.1L1289.4 822.8L1290.3 823.7L1291.2 824.5L1292.1 825.3L1293.0 826.2L1293.9 827.1L1294.8 828.0L1295.7 829.0L1296.6 830.1L1297.5 831.2L1298.4 832.5L1299.3 834.1L1300.2 835.9L1301.1 837.9L1302.0 840.2L1302.9 842.6L1303.8 845.3L1304.7 848.3L1305.6 851.4L1306.5 854.3L1307.4 857.0L1308.3 859.7L1309.2 862.3L1310.1 864.2L1311.0 865.6L1311.9 866.9L1312.8 867.9L1313.7 868.6L1314.6 869.0L1315.5 869.2L1316.4 869.4L1317.3 869.6L1318.2 870.0L1319.1 870.4L1320.0 871.0L1320.9 871.7L1321.8 872.5L1322.7 873.7L1323.6 875.4L1324.5 877.2L1325.4 879.0L1326.3 880.9L1327.2 882.9L1328.1 885.1L1329.0 887.3L1329.9 889.6L1330.8 891.8L1331.7 894.1L1332.6 896.5L1333.5 899.0L1334.4 901.4L1335.3 903.9L1336.2 906.5L1337.1 909.2L1338.0 911.9L1338.9 914.6L1339.8 917.4L1340.7 920.3L1341.6 923.2L1342.5 926.2L1343.4 929.3L1344.3 932.4L1345.2 935.4L1346.1 938.4L1347.0 941.3L1347.9 944.4L1348.8 947.4L1349.7 950.3L1350.6 953.2L1351.5 956.0L1352.4 958.8L1353.3 961.5L1354.2 964.2L1355.1 966.7L1356.0 968.9L1356.9 970.8L1357.8 972.6L1358.7 974.5L1359.6 976.8L1360.5 979.8L1361.4 984.2L1362.3 988.9L1363.2 992.7L1364.1 996.2L1365.0 999.7L1365.9 1003.5L1366.8 1007.2L1367.7 1010.6L1368.6 1013.7L1369.5 1016.5L1370.4 1019.7L1371.3 1023.2L1372.2 1026.9L1373.1 1030.8L1374.0 1034.9L1374.9 1039.2L1375.8 1043.9L1376.7 1048.7L1377.6 1053.6L1378.5 1058.6L1379.4 1063.5L1380.3 1067.9L1381.2 1071.8L1382.1 1075.4L1383.0 1078.7L1383.9 1081.8L1384.8 1084.6L1385.7 1087.3L1386.6 1089.8L1387.5 1092.1L1388.4 1094.2L1389.3 1096.2L1390.2 1097.8L1391.1 1099.3L1392.0 1100.6L1392.9 1101.7L1393.8 1102.3L1394.7 1102.8L1395.6 1103.2L1396.5 1103.4L1397.4 1103.4L1398.3 1103.3L1399.2 1103.2L1400.1 1103.1L1401.0 1103.2L1401.9 1103.4L1402.8 1103.7L1403.7 1103.9L1404.6 1104.0L1405.5 1104.2L1406.4 1104.3L1407.3 1104.1L1408.2 1103.6L1409.1 1102.9L1410.0 1101.9L1410.9 1100.4L1411.8 1097.8L1412.7 1094.7L1413.6 1090.4L1414.5 1085.2L1415.4 1079.9L1416.3 1074.4L1417.2 1069.0L1418.1 1064.0L1419.0 1059.4L1419.9 1055.7L1420.8 1053.0L1421.7 1050.7L1422.6 1049.2L1423.5 1048.3L1424.4 1047.7L1425.3 1047.6L1426.2 1047.7L1427.1 1048.1L1428.0 1048.6L1428.9 1049.8L1429.8 1051.2L1430.7 1052.7L1431.6 1054.2L1432.5 1055.7L1433.4 1057.1L1434.3 1058.3L1435.2 1058.8L1436.1 1058.4L1437.0 1057.5L1437.9 1056.4L1438.8 1055.0L1439.7 1053.3L1440.6 1051.6L1441.5 1049.9L1442.4 1048.0L1443.3 1046.1L1444.2 1044.4L1445.1 1042.8L1446.0 1041.0L1446.9 1038.9L1447.8 1036.0L1448.7 1032.5L1449.6 1028.7L1450.5 1024.3L1451.4 1019.9L1452.3 1016.4L1453.2 1013.3L1454.1 1011.1L1455.0 1010.0L1455.9 1009.1L1456.8 1008.7L1457.7 1008.7L1458.6 1008.7L1459.5 1008.8L1460.4 1008.8L1461.3 1008.0L1462.2 1006.7L1463.1 1004.9L1464.0 1002.0L1464.9 999.0L1465.8 996.7L1466.7 994.7L1467.6 993.4L1468.5 992.7L1469.4 992.5L1470.3 994.0L1471.2 996.4L1472.1 999.3L1473.0 1002.6L1473.9 1005.7L1474.8 1009.0L1475.7 1011.8L1476.6 1013.9L1477.5 1015.7L1478.4 1016.7L1479.3 1017.0L1480.2 1017.1L1481.1 1016.6L1482.0 1015.3L1482.9 1013.7L1483.8 1011.1L1484.7 1007.7L1485.6 1004.2L1486.5 1000.9L1487.4 997.1L1488.3 992.3L1489.2 985.1L1490.1 975.5L1491.0 965.7L1491.9 956.2L1492.8 946.5L1493.7 936.7L1494.6 926.8L1495.5 917.3L1496.4 908.6L1497.3 900.3L1498.2 894.4L1499.1 890.3L1500.0 887.7L1500.9 886.4L1501.8 885.4L1502.7 885.1L1503.6 885.4L1504.5 886.1L1505.4 887.1L1506.3 888.7L1507.2 890.8L1508.1 893.2L1509.0 896.0L1509.9 899.3L1510.8 903.3L1511.7 908.2L1512.6 913.5L1513.5 919.1L1514.4 925.2L1515.3 931.6L1516.2 938.6L1517.1 946.1L1518.0 953.6L1518.9 961.3L1519.8 969.2L1520.7 977.6L1521.6 985.7L1522.5 991.5L1523.4 995.1L1524.3 996.2L1525.2 996.9L1526.1 997.1L1527.0 997.2L1527.9 997.2L1528.8 997.3L1529.7 998.1L1530.6 999.0L1531.5 999.6L1532.4 1000.0L1533.3 1000.1L1534.2 998.8L1535.1 996.7L1536.0 993.1L1536.9 989.7L1537.8 987.7L1538.7 986.0L1539.6 984.6L1540.5 983.5L1541.4 982.4L1542.3 981.3L1543.2 980.0L1544.1 978.5L1545.0 977.1L1545.9 976.0L1546.8 975.2L1547.7 974.6L1548.6 973.9L1549.5 973.1L1550.4 972.0L1551.3 970.7L1552.2 969.6L1553.1 969.0L1554.0 968.7L1554.9 968.5L1555.8 968.6L1556.7 969.0L1557.6 969.1L1558.5 968.5L1559.4 967.6L1560.3 967.2L1561.2 968.2L1562.1 969.9L1563.0 972.9L1563.9 975.6L1564.8 978.2L1565.7 979.3L1566.6 976.5L1567.5 972.6L1568.4 968.5L1569.3 965.1L1570.2 963.2L1571.1 961.8L1572.0 960.7L1572.9 959.6L1573.8 958.7L1574.7 957.9L1575.6 957.1L1576.5 956.1L1577.4 955.2L1578.3 954.8L1579.2 954.8L1580.1 954.9L1581.0 955.0L1581.9 955.1L1582.8 954.8L1583.7 954.1L1584.6 953.2L1585.5 952.0L1586.4 950.0L1587.3 947.6L1588.2 945.2L1589.1 942.9L1590.0 940.5L1590.9 938.1L1591.8 935.7L1592.7 933.3L1593.6 930.7L1594.5 928.3L1595.4 926.2L1596.3 924.2L1597.2 922.7L1598.1 921.9L1599.0 921.4L1599.9 921.7L1600.8 923.1L1601.7 925.6L1602.6 929.8L1603.5 935.8L1604.4 942.2L1605.3 947.1L1606.2 950.8L1607.1 953.3L1608.0 955.5L1608.9 958.1L1609.8 961.3L1610.7 963.9L1611.6 964.8L1612.5 965.2L1613.4 964.6L1614.3 963.4L1615.2 962.8L1616.1 962.6L1617.0 964.4L1617.9 967.8L1618.8 973.9L1619.7 981.8L1620.6 992.0L1621.5 1002.6L1622.4 1013.5L1623.3 1024.4L1624.2 1035.2L1625.1 1045.0L1626.0 1053.4L1626.9 1060.4L1627.8 1065.8L1628.7 1069.9L1629.6 1072.4L1630.5 1073.5L1631.4 1071.7L1632.3 1068.3L1633.2 1063.5L1634.1 1058.8L1635.0 1054.3L1635.9 1050.5L1636.8 1047.8L1637.7 1046.5L1638.6 1045.9L1639.5 1045.6L1640.4 1045.6L1641.3 1046.3L1642.2 1047.3L1643.1 1048.8L1644.0 1050.4L1644.9 1052.0L1645.8 1053.8L1646.7 1054.8L1647.6 1054.3L1648.5 1052.9L1649.4 1051.7L1650.3 1051.0L1651.2 1050.3L1652.1 1048.7L1653.0 1044.5L1653.9 1039.9L1654.8 1035.3L1655.7 1031.4L1656.6 1027.9L1657.5 1023.4L1658.4 1017.7L1659.3 1010.0L1660.2 1000.1" fill="none" stroke="#7A3A0C" stroke-width="3.2" stroke-linejoin="round" stroke-linecap="butt"/>
<path d="M86.3 857.1L87.2 856.8L88.1 856.9L89.0 857.5L89.9 858.2L90.8 858.8L91.7 858.9L92.6 858.3L93.5 858.1L94.4 858.2L95.3 858.5L96.2 858.7L97.1 858.4L98.0 858.4L98.9 859.0L99.8 859.3L100.7 858.9L101.6 858.8L102.5 858.9L103.4 858.8L104.3 858.8L105.2 858.5L106.1 858.6L107.0 858.8L107.9 858.7L108.8 858.9L109.7 859.1L110.6 859.7L111.5 860.1L112.4 860.0L113.3 859.8L114.2 860.1L115.1 860.3L116.0 859.9L116.9 859.7L117.8 859.6L118.7 858.7L119.6 858.9L120.5 860.0L121.4 860.6L122.3 860.6L123.2 860.2L124.1 860.3L125.0 860.5L125.9 860.6L126.8 860.3L127.7 859.9L128.6 860.2L129.5 860.5L130.4 861.0L131.3 861.5L132.2 861.4L133.1 860.8L134.0 860.7L134.9 861.5L135.8 862.0L136.7 861.9L137.6 861.7L138.5 861.7L139.4 862.3L140.3 862.7L141.2 862.8L142.1 863.1L143.0 863.0L143.9 862.6L144.8 863.0L145.7 863.6L146.6 863.4L147.5 863.5L148.4 863.3L149.3 863.0L150.2 862.9L151.1 862.9L152.0 862.9L152.9 863.0L153.8 863.3L154.7 863.6L155.6 863.7L156.5 863.7L157.4 863.5L158.3 863.7L159.2 863.7L160.1 863.5L161.0 863.6L161.9 863.9L162.8 864.2L163.7 863.9L164.6 863.0L165.5 862.7L166.4 863.3L167.3 863.8L168.2 863.9L169.1 863.6L170.0 863.7L170.9 864.1L171.8 864.2L172.7 864.2L173.6 864.0L174.5 863.3L175.4 863.3L176.3 863.9L177.2 864.0L178.1 863.8L179.0 863.7L179.9 864.1L180.8 864.0L181.7 863.8L182.6 863.7L183.5 864.0L184.4 864.3L185.3 863.9L186.2 863.9L187.1 864.0L188.0 863.5L188.9 863.5L189.8 863.5L190.7 863.3L191.6 863.7L192.5 864.7L193.4 865.1L194.3 865.1L195.2 865.1L196.1 865.1L197.0 865.0L197.9 864.9L198.8 865.0L199.7 864.9L200.6 865.1L201.5 865.1L202.4 864.5L203.3 864.6L204.2 865.3L205.1 865.4L206.0 865.3L206.9 865.7L207.8 866.0L208.7 865.7L209.6 865.1L210.5 864.7L211.4 864.5L212.3 864.7L213.2 865.2L214.1 865.5L215.0 865.6L215.9 865.9L216.8 866.2L217.7 865.8L218.6 865.8L219.5 866.0L220.4 865.8L221.3 865.9L222.2 866.4L223.1 866.5L224.0 866.3L224.9 866.3L225.8 866.7L226.7 867.0L227.6 867.4L228.5 867.4L229.4 867.3L230.3 867.7L231.2 868.1L232.1 868.6L233.0 868.9L233.9 869.8L234.8 870.4L235.7 870.0L236.6 870.1L237.5 870.8L238.4 871.7L239.3 872.4L240.2 872.2L241.1 872.2L242.0 872.9L242.9 873.5L243.8 874.0L244.7 875.1L245.6 875.8L246.5 875.9L247.4 876.1L248.3 876.6L249.2 876.7L250.1 876.7L251.0 877.2L251.9 878.1L252.8 879.0L253.7 879.5L254.6 880.1L255.5 880.6L256.4 881.2L257.3 881.6L258.2 882.1L259.1 882.9L260.0 883.7L260.9 884.5L261.8 884.7L262.7 884.8L263.6 885.2L264.5 885.9L265.4 886.7L266.3 887.0L267.2 886.8L268.1 886.6L269.0 887.5L269.9 888.5L270.8 888.6L271.7 888.7L272.6 889.5L273.5 889.8L274.4 889.8L275.3 890.7L276.2 891.8L277.1 892.3L278.0 892.3L278.9 892.5L279.8 892.8L280.7 893.0L281.6 893.5L282.5 893.8L283.4 893.8L284.3 894.4L285.2 895.0L286.1 895.0L287.0 895.0L287.9 895.4L288.8 896.0L289.7 896.5L290.6 896.7L291.5 896.9L292.4 897.2L293.3 897.6L294.2 898.2L295.1 898.7L296.0 899.1L296.9 899.3L297.8 899.4L298.7 899.4L299.6 899.6L300.5 900.1L301.4 900.5L302.3 900.7L303.2 900.7L304.1 900.9L305.0 901.2L305.9 901.4L306.8 901.5L307.7 901.9L308.6 902.4L309.5 902.7L310.4 902.7L311.3 902.8L312.2 903.2L313.1 903.6L314.0 903.9L314.9 904.0L315.8 903.9L316.7 904.0L317.6 904.2L318.5 904.4L319.4 904.7L320.3 905.0L321.2 905.1L322.1 905.1L323.0 905.3L323.9 905.3L324.8 905.3L325.7 905.5L326.6 905.7L327.5 905.7L328.4 905.7L329.3 905.6L330.2 905.5L331.1 905.4L332.0 905.3L332.9 905.0L333.8 904.7L334.7 904.5L335.6 904.4L336.5 904.2L337.4 903.9L338.3 903.5L339.2 903.3L340.1 903.1L341.0 902.8L341.9 902.3L342.8 901.9L343.7 901.7L344.6 901.3L345.5 900.9L346.4 900.8L347.3 900.4L348.2 899.9L349.0 899.5L349.9 899.1L350.8 898.7L351.7 898.3L352.6 898.0L353.5 897.6L354.4 897.4L355.3 897.1L356.2 896.6L357.1 896.3L358.0 895.8L358.9 895.4L359.8 895.1L360.7 894.6L361.6 894.2L362.5 893.8L363.4 893.6L364.3 893.3L365.2 893.0L366.1 892.5L367.0 891.9L367.9 891.4L368.8 891.2L369.7 891.1L370.6 890.9L371.5 890.6L372.4 890.3L373.3 890.0L374.2 889.8L375.1 889.6L376.0 889.2L376.9 888.7L377.8 888.3L378.7 888.0L379.6 887.8L380.5 887.5L381.4 887.3L382.3 887.2L383.2 887.0L384.1 886.7L385.0 886.3L385.9 885.9L386.8 885.7L387.7 885.4L388.6 885.1L389.5 885.0L390.4 884.8L391.3 884.5L392.2 884.2L393.1 883.9L394.0 883.6L394.9 883.3L395.8 883.0L396.7 882.9L397.6 882.5L398.5 882.0L399.4 881.7L400.3 881.5L401.2 881.1L402.1 880.9L403.0 880.7L403.9 880.5L404.8 880.2L405.7 879.9L406.6 879.7L407.5 879.7L408.4 879.5L409.3 879.3L410.2 879.2L411.1 879.0L412.0 878.9L412.9 878.8L413.8 878.6L414.7 878.5L415.6 878.3L416.5 878.0L417.4 877.9L418.3 877.7L419.2 877.4L420.1 877.3L421.0 877.1L421.9 876.9L422.8 876.5L423.7 876.1L424.6 876.0L425.5 875.9L426.4 875.6L427.3 875.4L428.2 875.2L429.1 875.1L430.0 874.8L430.9 874.5L431.8 874.4L432.7 874.1L433.6 873.8L434.5 873.6L435.4 873.3L436.3 873.1L437.2 873.0L438.1 872.8L439.0 872.7L439.9 872.5L440.8 872.4L441.7 872.2L442.6 872.0L443.5 871.7L444.4 871.5L445.3 871.4L446.2 871.2L447.1 871.0L448.0 870.9L448.9 870.9L449.8 870.8L450.7 870.6L451.6 870.5L452.5 870.4L453.4 870.1L454.3 869.9L455.2 869.7L456.1 869.6L457.0 869.6L457.9 869.6L458.8 869.6L459.7 869.4L460.6 869.3L461.5 869.4L462.4 869.3L463.3 869.1L464.2 868.9L465.1 868.8L466.0 868.9L466.9 868.8L467.8 868.5L468.7 868.4L469.6 868.6L470.5 868.6L471.4 868.4L472.3 868.4L473.2 868.5L474.1 868.4L475.0 868.3L475.9 868.2L476.8 868.0L477.7 868.0L478.6 868.0L479.5 868.0L480.4 867.9L481.3 867.8L482.2 867.8L483.1 867.6L484.0 867.5L484.9 867.4L485.8 867.3L486.7 867.3L487.6 867.1L488.5 867.0L489.4 867.0L490.3 867.0L491.2 867.0L492.1 866.9L493.0 866.9L493.9 866.8L494.8 866.7L495.7 866.6L496.6 866.4L497.5 866.4L498.4 866.5L499.3 866.4L500.2 866.4L501.1 866.3L502.0 866.1L502.9 866.1L503.8 866.1L504.7 866.1L505.6 866.1L506.5 865.9L507.4 865.8L508.3 865.8L509.2 865.9L510.1 865.8L511.0 865.7L511.9 865.6L512.8 865.6L513.7 865.4L514.6 865.4L515.5 865.4L516.4 865.3L517.3 865.3L518.2 865.3L519.1 865.4L520.0 865.4L520.9 865.3L521.8 865.1L522.7 865.0L523.6 865.0L524.5 865.0L525.4 865.1L526.3 865.0L527.2 865.1L528.1 865.2L529.0 865.3L529.9 865.4L530.8 865.4L531.7 865.4L532.6 865.3L533.5 865.4L534.4 865.5L535.3 865.5L536.2 865.6L537.1 865.6L538.0 865.4L538.9 865.5L539.8 865.5L540.7 865.4L541.6 865.3L542.5 865.4L543.4 865.5L544.3 865.5L545.2 865.5L546.1 865.5L547.0 865.6L547.9 865.7L548.8 865.7L549.7 865.8L550.6 866.1L551.5 866.4L552.4 866.6L553.3 866.8L554.2 867.0L555.1 867.1L556.0 867.2L556.9 867.0L557.8 866.6L558.7 866.4L559.6 866.1L560.5 865.9L561.4 865.7L562.3 865.8L563.2 865.7L564.1 865.6L565.0 865.4L565.9 865.4L566.8 865.3L567.7 865.1L568.6 865.0L569.5 864.9L570.4 864.8L571.3 864.8L572.2 864.6L573.1 864.6L574.0 864.6L574.9 864.6L575.8 864.7L576.7 864.7L577.6 864.6L578.5 864.5L579.4 864.4L580.3 864.4L581.2 864.5L582.1 864.6L583.0 864.6L583.9 864.6L584.8 864.5L585.7 864.4L586.6 864.5L587.5 864.6L588.4 864.5L589.3 864.3L590.2 864.1L591.1 863.9L592.0 863.6L592.9 863.4L593.8 863.3L594.7 863.2L595.6 863.0L596.5 862.8L597.4 862.8L598.3 862.7L599.2 862.7L600.1 862.7L601.0 862.7L601.9 862.7L602.8 862.7L603.7 862.5L604.6 862.3L605.5 862.4L606.4 862.4L607.3 862.2L608.2 862.2L609.1 862.2L610.0 862.1L610.9 862.0L611.8 862.0L612.7 862.0L613.6 861.9L614.5 861.9L615.4 861.8L616.3 861.8L617.2 861.7L618.1 861.8L619.0 861.7L619.9 861.6L620.8 861.6L621.7 861.6L622.6 861.5L623.5 861.4L624.4 861.3L625.3 861.2L626.2 861.1L627.1 861.2L628.0 861.2L628.9 861.2L629.8 861.2L630.7 861.1L631.6 861.0L632.5 861.1L633.4 861.1L634.3 860.9L635.2 860.9L636.1 861.0L637.0 860.8L637.9 860.6L638.8 860.7L639.7 860.9L640.6 861.0L641.5 861.0L642.4 861.0L643.3 860.9L644.2 860.7L645.1 860.7L646.0 860.8L646.9 860.8L647.8 860.7L648.7 860.8L649.6 860.8L650.5 860.8L651.4 860.6L652.3 860.5L653.2 860.4L654.1 860.5L655.0 860.6L655.9 860.6L656.8 860.6L657.7 860.5L658.6 860.6L659.5 860.6L660.4 860.5L661.3 860.5L662.2 860.5L663.1 860.4L664.0 860.5L664.9 860.5L665.8 860.6L666.7 860.5L667.6 860.4L668.5 860.5L669.4 860.5L670.3 860.3L671.2 860.2L672.1 860.3L673.0 860.3L673.9 860.3L674.8 860.4L675.7 860.3L676.6 860.3L677.5 860.4L678.4 860.4L679.3 860.3L680.2 860.3L681.1 860.2L682.0 860.3L682.9 860.4L683.8 860.2L684.7 860.0L685.6 860.0L686.5 859.9L687.4 860.0L688.3 860.2L689.2 860.2L690.1 860.1L691.0 860.1L691.9 860.2L692.8 860.1L693.7 860.0L694.6 860.0L695.5 860.1L696.4 860.0L697.3 859.9L698.2 860.0L699.1 859.9L700.0 859.8L700.9 859.8L701.8 859.8L702.7 859.8L703.6 859.7L704.5 859.7L705.4 859.7L706.3 859.7L707.2 859.7L708.1 859.6L709.0 859.7L709.9 859.8L710.8 859.7L711.7 859.7L712.6 859.6L713.5 859.5L714.4 859.6L715.3 859.6L716.2 859.6L717.1 859.6L718.0 859.4L718.9 859.4L719.8 859.6L720.7 859.8L721.6 859.8L722.5 859.5L723.4 859.3L724.3 859.3L725.2 859.3L726.1 859.4L727.0 859.3L727.9 859.2L728.8 859.2L729.7 859.2L730.6 859.3L731.5 859.3L732.4 859.1L733.3 859.0L734.2 859.2L735.1 859.3L736.0 859.4L736.9 859.4L737.8 859.3L738.7 859.1L739.6 859.0L740.5 858.9L741.4 859.0L742.3 859.0L743.2 859.1L744.1 859.1L745.0 859.0L745.9 859.0L746.8 858.9L747.7 858.9L748.6 858.7L749.5 858.7L750.4 858.7L751.3 858.6L752.2 858.8L753.1 859.0L754.0 859.0L754.9 858.8L755.8 858.7L756.7 858.6L757.6 858.6L758.5 858.6L759.4 858.7L760.3 858.7L761.2 858.5L762.1 858.5L763.0 858.6L763.9 858.6L764.8 858.5L765.7 858.5L766.6 858.5L767.5 858.6L768.4 858.6L769.3 858.4L770.2 858.4L771.1 858.3L772.0 858.3L772.9 858.2L773.8 858.2L774.7 858.3L775.6 858.4L776.5 858.5L777.4 858.5L778.3 858.4L779.2 858.3L780.1 858.3L781.0 858.2L781.9 858.1L782.8 858.0L783.7 858.2L784.6 858.3L785.5 858.2L786.4 858.2L787.3 858.2L788.2 858.1L789.1 858.2L790.0 858.2L790.9 858.0L791.8 858.0L792.7 858.0L793.6 858.0L794.5 858.1L795.4 858.3L796.3 858.2L797.2 858.1L798.1 858.0L799.0 858.0L799.9 857.9L800.8 857.9L801.7 858.0L802.6 858.0L803.5 857.9L804.4 857.8L805.3 857.8L806.2 857.7L807.1 857.9L808.0 858.2L808.9 858.1L809.8 857.8L810.7 857.8L811.6 857.7L812.5 857.6L813.4 857.7L814.3 857.9L815.2 857.8L816.1 857.8L817.0 857.8L817.9 857.8L818.8 857.8L819.7 857.7L820.6 857.6L821.5 857.7L822.4 857.7L823.3 857.7L824.2 857.6L825.1 857.6L826.0 857.6L826.9 857.6L827.8 857.7L828.7 857.7L829.6 857.6L830.5 857.7L831.4 857.7L832.3 857.8L833.2 857.6L834.1 857.5L835.0 857.7L835.9 857.8L836.8 857.7L837.7 857.7L838.6 857.9L839.5 857.8L840.4 857.6L841.3 857.5L842.2 857.5L843.1 857.5L844.0 857.4L844.9 857.5L845.8 857.6L846.7 857.7L847.6 857.6L848.5 857.6L849.4 857.6L850.3 857.6L851.2 857.5L852.1 857.4L853.0 857.4L853.9 857.4L854.7 857.5L855.6 857.6L856.5 857.8L857.4 857.7L858.3 857.6L859.2 857.6L860.1 857.6L861.0 857.6L861.9 857.6L862.8 857.6L863.7 857.7L864.6 857.8L865.5 857.9L866.4 857.9L867.3 857.8L868.2 857.9L869.1 858.0L870.0 858.1L870.9 858.0L871.8 857.9L872.7 858.0L873.6 858.0L874.5 857.9L875.4 858.0L876.3 858.1L877.2 858.2L878.1 858.2L879.0 858.1L879.9 858.2L880.8 858.4L881.7 858.3L882.6 858.3L883.5 858.2L884.4 858.1L885.3 858.2L886.2 858.5L887.1 858.5L888.0 858.5L888.9 858.5L889.8 858.4L890.7 858.5L891.6 858.6L892.5 858.8L893.4 858.9L894.3 859.0L895.2 859.0L896.1 859.0L897.0 859.0L897.9 859.0L898.8 858.9L899.7 858.9L900.6 859.0L901.5 858.9L902.4 859.0L903.3 859.1L904.2 859.1L905.1 859.2L906.0 859.3L906.9 859.3L907.8 859.5L908.7 859.5L909.6 859.4L910.5 859.3L911.4 859.3L912.3 859.5L913.2 859.6L914.1 859.6L915.0 859.6L915.9 859.6L916.8 859.7L917.7 859.8L918.6 859.7L919.5 859.7L920.4 859.8L921.3 859.8L922.2 859.7L923.1 859.6L924.0 859.6L924.9 859.7L925.8 859.8L926.7 859.8L927.6 859.9L928.5 859.9L929.4 859.8L930.3 859.9L931.2 860.1L932.1 860.2L933.0 860.2L933.9 860.2L934.8 860.1L935.7 860.1L936.6 860.2L937.5 860.4L938.4 860.4L939.3 860.4L940.2 860.4L941.1 860.4L942.0 860.3L942.9 860.4L943.8 860.5L944.7 860.5L945.6 860.6L946.5 860.7L947.4 860.7L948.3 860.8L949.2 860.9L950.1 860.8L951.0 860.8L951.9 860.7L952.8 860.6L953.7 860.7L954.6 860.9L955.5 860.8L956.4 860.8L957.3 860.9L958.2 861.1L959.1 861.2L960.0 861.1L960.9 861.0L961.8 861.1L962.7 861.2L963.6 861.2L964.5 861.2L965.4 861.3L966.3 861.2L967.2 861.2L968.1 861.1L969.0 861.2L969.9 861.5L970.8 861.5L971.7 861.4L972.6 861.3L973.5 861.4L974.4 861.4L975.3 861.3L976.2 861.2L977.1 861.3L978.0 861.4L978.9 861.6L979.8 861.6L980.7 861.6L981.6 861.7L982.5 861.8L983.4 861.6L984.3 861.6L985.2 861.8L986.1 861.7L987.0 861.7L987.9 861.8L988.8 861.9L989.7 861.9L990.6 861.7L991.5 861.6L992.4 861.6L993.3 861.7L994.2 861.7L995.1 861.5L996.0 861.6L996.9 861.7L997.8 861.7L998.7 861.6L999.6 861.8L1000.5 861.9L1001.4 861.8L1002.3 861.7L1003.2 861.8L1004.1 861.9L1005.0 861.8L1005.9 861.8L1006.8 861.9L1007.7 862.0L1008.6 862.1L1009.5 861.9L1010.4 861.9L1011.3 862.2L1012.2 862.2L1013.1 862.2L1014.0 862.1L1014.9 862.1L1015.8 862.1L1016.7 862.1L1017.6 862.1L1018.5 862.2L1019.4 862.3L1020.3 862.5L1021.2 862.5L1022.1 862.6L1023.0 862.6L1023.9 862.6L1024.8 862.6L1025.7 862.7L1026.6 862.7L1027.5 862.8L1028.4 862.8L1029.3 862.8L1030.2 862.9L1031.1 863.1L1032.0 863.0L1032.9 862.8L1033.8 862.9L1034.7 863.1L1035.6 863.2L1036.5 863.2L1037.4 863.3L1038.3 863.5L1039.2 863.4L1040.1 863.5L1041.0 863.7L1041.9 863.8L1042.8 863.8L1043.7 863.8L1044.6 863.9L1045.5 864.0L1046.4 864.0L1047.3 864.1L1048.2 864.3L1049.1 864.4L1050.0 864.4L1050.9 864.5L1051.8 864.6L1052.7 864.7L1053.6 864.6L1054.5 864.7L1055.4 864.9L1056.3 865.0L1057.2 865.1L1058.1 865.1L1059.0 865.2L1059.9 865.3L1060.8 865.5L1061.7 865.5L1062.6 865.5L1063.5 865.5L1064.4 865.8L1065.3 865.9L1066.2 865.8L1067.1 865.9L1068.0 866.2L1068.9 866.4L1069.8 866.6L1070.7 866.7L1071.6 866.9L1072.5 867.1L1073.4 867.3L1074.3 867.5L1075.2 867.5L1076.1 867.6L1077.0 868.0L1077.9 868.3L1078.8 868.5L1079.7 868.5L1080.6 868.6L1081.5 868.8L1082.4 869.0L1083.3 869.3L1084.2 869.6L1085.1 869.7L1086.0 869.7L1086.9 870.1L1087.8 870.5L1088.7 870.6L1089.6 870.7L1090.5 871.1L1091.4 871.4L1092.3 871.5L1093.2 871.8L1094.1 872.1L1095.0 872.4L1095.9 872.6L1096.8 873.0L1097.7 873.3L1098.6 873.7L1099.5 874.1L1100.4 874.4L1101.3 874.9L1102.2 875.2L1103.1 875.6L1104.0 876.1L1104.9 876.6L1105.8 877.1L1106.7 877.7L1107.6 878.3L1108.5 878.8L1109.4 879.4L1110.3 880.0L1111.2 880.6L1112.1 881.1L1113.0 881.4L1113.9 881.8L1114.8 882.3L1115.7 882.7L1116.6 883.2L1117.5 883.6L1118.4 884.0L1119.3 884.3L1120.2 884.6L1121.1 884.6L1122.0 884.6L1122.9 884.6L1123.8 884.2L1124.7 884.0L1125.6 883.8L1126.5 883.7L1127.4 883.2L1128.3 882.6L1129.2 882.3L1130.1 882.1L1131.0 881.8L1131.9 881.3L1132.8 880.9L1133.7 880.8L1134.6 880.7L1135.5 880.3L1136.4 879.9L1137.3 879.4L1138.2 879.1L1139.1 879.0L1140.0 878.9L1140.9 878.6L1141.8 878.4L1142.7 878.2L1143.6 878.0L1144.5 877.8L1145.4 877.7L1146.3 877.7L1147.2 877.5L1148.1 877.3L1149.0 877.2L1149.9 877.2L1150.8 877.1L1151.7 877.1L1152.6 877.2L1153.5 877.4L1154.4 877.4L1155.3 877.4L1156.2 877.8L1157.1 878.1L1158.0 878.1L1158.9 878.3L1159.8 878.9L1160.7 879.2L1161.6 879.4L1162.5 879.7L1163.4 879.8L1164.3 879.8L1165.2 880.1L1166.1 880.6L1167.0 880.9L1167.9 881.1L1168.8 881.4L1169.7 881.9L1170.6 882.1L1171.5 882.0L1172.4 882.1L1173.3 882.5L1174.2 882.7L1175.1 882.9L1176.0 883.3L1176.9 883.6L1177.8 883.7L1178.7 883.7L1179.6 883.8L1180.5 883.8L1181.4 883.8L1182.3 884.1L1183.2 884.5L1184.1 884.5L1185.0 884.5L1185.9 884.7L1186.8 884.9L1187.7 884.9L1188.6 885.2L1189.5 885.6L1190.4 885.8L1191.3 885.9L1192.2 886.0L1193.1 886.2L1194.0 886.2L1194.9 886.4L1195.8 886.7L1196.7 887.2L1197.6 887.5L1198.5 887.5L1199.4 887.5L1200.3 887.9L1201.2 888.2L1202.1 888.2L1203.0 888.3L1203.9 888.6L1204.8 888.8L1205.7 889.0L1206.6 889.5L1207.5 889.7L1208.4 889.5L1209.3 889.7L1210.2 890.0L1211.1 890.1L1212.0 890.1L1212.9 890.3L1213.8 890.8L1214.7 891.4L1215.6 891.6L1216.5 891.6L1217.4 891.9L1218.3 892.2L1219.2 892.2L1220.1 892.1L1221.0 892.3L1221.9 892.5L1222.8 892.4L1223.7 892.5L1224.6 892.9L1225.5 893.0L1226.4 892.8L1227.3 893.0L1228.2 893.2L1229.1 893.3L1230.0 893.5L1230.9 893.8L1231.8 893.9L1232.7 893.8L1233.6 893.9L1234.5 893.9L1235.4 894.1L1236.3 894.4L1237.2 894.7L1238.1 894.9L1239.0 895.0L1239.9 895.2L1240.8 895.5L1241.7 895.8L1242.6 895.9L1243.5 895.8L1244.4 896.1L1245.3 896.6L1246.2 896.7L1247.1 896.7L1248.0 897.0L1248.9 897.4L1249.8 897.6L1250.7 897.8L1251.6 898.0L1252.5 898.3L1253.4 898.8L1254.3 899.2L1255.2 899.5L1256.1 899.6L1257.0 900.1L1257.9 900.5L1258.8 900.5L1259.7 900.8L1260.6 901.4L1261.5 901.9L1262.4 902.2L1263.3 902.7L1264.2 903.3L1265.1 903.6L1266.0 903.8L1266.9 904.4L1267.8 904.8L1268.7 905.2L1269.6 905.6L1270.5 906.1L1271.4 906.6L1272.3 907.1L1273.2 907.5L1274.1 907.9L1275.0 908.3L1275.9 908.6L1276.8 909.2L1277.7 909.8L1278.6 910.1L1279.5 910.5L1280.4 911.0L1281.3 911.3L1282.2 911.7L1283.1 912.2L1284.0 912.8L1284.9 913.3L1285.8 913.9L1286.7 914.5L1287.6 915.2L1288.5 915.7L1289.4 916.1L1290.3 916.6L1291.2 917.2L1292.1 917.8L1293.0 918.3L1293.9 918.9L1294.8 919.5L1295.7 920.2L1296.6 920.9L1297.5 921.7L1298.4 922.5L1299.3 923.6L1300.2 925.2L1301.1 926.9L1302.0 928.7L1302.9 930.5L1303.8 932.4L1304.7 934.4L1305.6 936.4L1306.5 938.5L1307.4 940.6L1308.3 942.7L1309.2 944.8L1310.1 946.8L1311.0 948.5L1311.9 950.1L1312.8 951.3L1313.7 952.3L1314.6 953.1L1315.5 953.6L1316.4 954.0L1317.3 954.5L1318.2 954.9L1319.1 955.4L1320.0 955.9L1320.9 956.6L1321.8 957.7L1322.7 959.0L1323.6 960.2L1324.5 961.4L1325.4 962.6L1326.3 963.8L1327.2 965.1L1328.1 966.5L1329.0 967.9L1329.9 969.5L1330.8 971.1L1331.7 972.9L1332.6 974.8L1333.5 976.8L1334.4 978.9L1335.3 981.1L1336.2 983.3L1337.1 985.6L1338.0 988.0L1338.9 990.4L1339.8 992.9L1340.7 995.3L1341.6 997.9L1342.5 1000.5L1343.4 1003.0L1344.3 1005.4L1345.2 1007.9L1346.1 1010.3L1347.0 1012.7L1347.9 1015.3L1348.8 1017.9L1349.7 1020.3L1350.6 1022.7L1351.5 1025.1L1352.4 1027.4L1353.3 1029.7L1354.2 1032.1L1355.1 1034.6L1356.0 1037.3L1356.9 1040.2L1357.8 1043.2L1358.7 1046.6L1359.6 1050.2L1360.4 1054.0L1361.3 1057.9L1362.2 1062.0L1363.1 1066.5L1364.0 1071.2L1364.9 1075.7L1365.8 1079.7L1366.7 1083.6L1367.6 1087.2L1368.5 1090.3L1369.4 1092.6L1370.3 1094.6L1371.2 1096.7L1372.1 1099.3L1373.0 1103.0L1373.9 1107.3L1374.8 1111.8L1375.7 1116.3L1376.6 1121.3L1377.5 1126.4L1378.4 1131.3L1379.3 1135.9L1380.2 1140.4L1381.1 1144.9L1382.0 1149.2L1382.9 1153.1L1383.8 1156.8L1384.7 1160.3L1385.6 1163.4L1386.5 1166.2L1387.4 1168.8L1388.3 1171.1L1389.2 1173.0L1390.1 1174.4L1391.0 1175.4L1391.9 1176.2L1392.8 1176.7L1393.7 1176.8L1394.6 1176.7L1395.5 1176.4L1396.4 1176.3L1397.3 1176.1L1398.2 1176.0L1399.1 1176.1L1400.0 1176.1L1400.9 1176.2L1401.8 1176.3L1402.7 1176.5L1403.6 1176.6L1404.5 1176.7L1405.4 1176.8L1406.3 1176.9L1407.2 1176.7L1408.1 1176.1L1409.0 1175.0L1409.9 1173.7L1410.8 1172.0L1411.7 1169.0L1412.6 1165.3L1413.5 1161.4L1414.4 1156.9L1415.3 1151.9L1416.2 1146.7L1417.1 1141.0L1418.0 1135.5L1418.9 1131.1L1419.8 1127.1L1420.7 1124.0L1421.6 1121.9L1422.5 1120.3L1423.4 1119.3L1424.3 1118.8L1425.2 1118.5L1426.1 1118.4L1427.0 1119.1L1427.9 1120.2L1428.8 1121.5L1429.7 1123.2L1430.6 1125.2L1431.5 1127.3L1432.4 1129.7L1433.3 1131.6L1434.2 1133.0L1435.1 1134.0L1436.0 1134.3L1436.9 1133.6L1437.8 1132.5L1438.7 1131.3L1439.6 1129.8L1440.5 1127.9L1441.4 1125.9L1442.3 1124.1L1443.2 1122.4L1444.1 1120.6L1445.0 1118.7L1445.9 1116.4L1446.8 1113.8L1447.7 1111.0L1448.6 1107.8L1449.5 1103.9L1450.4 1099.6L1451.3 1095.3L1452.2 1091.7L1453.1 1088.2L1454.0 1085.6L1454.9 1084.1L1455.8 1083.2L1456.7 1082.7L1457.6 1082.3L1458.5 1082.1L1459.4 1081.9L1460.3 1081.6L1461.2 1080.8L1462.1 1079.4L1463.0 1077.7L1463.9 1075.4L1464.8 1072.7L1465.7 1069.8L1466.6 1066.6L1467.5 1064.4L1468.4 1063.7L1469.3 1063.3L1470.2 1064.7L1471.1 1067.2L1472.0 1070.6L1472.9 1074.6L1473.8 1078.1L1474.7 1081.7L1475.6 1085.0L1476.5 1087.5L1477.4 1089.6L1478.3 1090.8L1479.2 1091.1L1480.1 1091.2L1481.0 1090.8L1481.9 1089.7L1482.8 1088.1L1483.7 1085.6L1484.6 1082.2L1485.5 1078.4L1486.4 1073.9L1487.3 1068.7L1488.2 1063.1L1489.1 1057.1L1490.0 1050.4L1490.9 1042.2L1491.8 1032.8L1492.7 1023.6L1493.6 1014.1L1494.5 1004.9L1495.4 997.2L1496.3 990.5L1497.2 985.0L1498.1 981.0L1499.0 977.6L1499.9 975.2L1500.8 974.0L1501.7 973.3L1502.6 973.0L1503.5 973.5L1504.4 974.4L1505.3 975.4L1506.2 976.9L1507.1 978.9L1508.0 981.3L1508.9 984.3L1509.8 987.5L1510.7 991.0L1511.6 995.2L1512.5 999.8L1513.4 1004.8L1514.3 1010.2L1515.2 1016.0L1516.1 1022.4L1517.0 1029.1L1517.9 1036.0L1518.8 1043.1L1519.7 1050.5L1520.6 1058.5L1521.5 1066.8L1522.4 1072.8L1523.3 1076.7L1524.2 1077.6L1525.1 1078.0L1526.0 1078.1L1526.9 1078.1L1527.8 1078.1L1528.7 1078.2L1529.6 1078.9L1530.5 1079.8L1531.4 1080.5L1532.3 1081.0L1533.2 1080.2L1534.1 1077.3L1535.0 1073.9L1535.9 1070.2L1536.8 1067.2L1537.7 1064.8L1538.6 1063.1L1539.5 1061.8L1540.4 1060.6L1541.3 1059.4L1542.2 1058.2L1543.1 1056.9L1544.0 1055.4L1544.9 1053.8L1545.8 1052.2L1546.7 1050.6L1547.6 1049.3L1548.5 1048.4L1549.4 1047.6L1550.3 1047.0L1551.2 1046.2L1552.1 1045.6L1553.0 1045.3L1553.9 1045.1L1554.8 1045.3L1555.7 1046.5L1556.6 1047.4L1557.5 1048.4L1558.4 1049.2L1559.3 1049.8L1560.2 1050.3L1561.1 1051.1L1562.0 1052.9L1562.9 1055.3L1563.8 1058.7L1564.7 1061.0L1565.6 1062.8L1566.5 1063.6L1567.4 1062.2L1568.3 1060.2L1569.2 1058.7L1570.1 1057.7L1571.0 1057.3L1571.9 1057.2L1572.8 1057.2L1573.7 1057.2L1574.6 1057.2L1575.5 1057.2L1576.4 1057.3L1577.3 1057.4L1578.2 1057.6L1579.1 1057.9L1580.0 1058.1L1580.9 1058.4L1581.8 1059.0L1582.7 1059.6L1583.6 1059.8L1584.5 1058.9L1585.4 1057.6L1586.3 1056.4L1587.2 1055.4L1588.1 1054.5L1589.0 1053.1L1589.9 1051.2L1590.8 1048.3L1591.7 1045.4L1592.6 1042.9L1593.5 1040.6L1594.4 1038.3L1595.3 1035.9L1596.2 1033.7L1597.1 1032.2L1598.0 1031.0L1598.9 1030.2L1599.8 1030.1L1600.7 1030.3L1601.6 1031.5L1602.5 1034.5L1603.4 1038.8L1604.3 1043.5L1605.2 1046.6L1606.1 1048.8L1607.0 1050.3L1607.9 1051.6L1608.8 1053.3L1609.7 1055.7L1610.6 1058.0L1611.5 1060.3L1612.4 1059.8L1613.3 1057.3L1614.2 1054.0L1615.1 1051.0L1616.0 1050.3L1616.9 1051.1L1617.8 1055.9L1618.7 1062.1L1619.6 1068.8L1620.5 1075.6L1621.4 1085.5L1622.3 1098.6L1623.2 1109.3L1624.1 1119.0L1625.0 1128.5L1625.9 1136.4L1626.8 1142.8L1627.7 1147.6L1628.6 1151.5L1629.5 1154.7L1630.4 1155.6L1631.3 1153.5L1632.2 1149.9L1633.1 1145.8L1634.0 1140.0L1634.9 1134.2L1635.8 1130.0L1636.7 1126.3L1637.6 1123.9L1638.5 1123.0L1639.4 1122.4L1640.3 1122.1L1641.2 1122.4L1642.1 1123.2L1643.0 1124.1L1643.9 1125.6L1644.8 1127.5L1645.7 1129.1L1646.6 1129.7L1647.5 1128.9L1648.4 1127.3L1649.3 1125.8L1650.2 1124.8L1651.1 1123.5L1652.0 1120.9L1652.9 1116.2L1653.8 1111.1L1654.7 1106.6L1655.6 1102.3L1656.5 1097.5L1657.4 1092.4L1658.3 1087.0L1659.2 1081.1L1660.1 1074.6L1661.0 1067.5" fill="none" stroke="#6400E6" stroke-width="3.2" stroke-linejoin="round" stroke-linecap="butt"/>
<path d="M86.3 942.8L87.2 942.9L88.1 942.8L89.0 942.7L89.9 942.8L90.8 943.0L91.7 943.0L92.6 942.8L93.5 942.9L94.4 943.0L95.3 943.4L96.2 943.6L97.1 943.0L98.0 942.7L98.9 943.2L99.8 943.5L100.7 943.5L101.6 943.6L102.5 943.9L103.4 944.1L104.3 943.8L105.2 943.9L106.1 943.9L107.0 943.9L107.9 944.1L108.8 944.3L109.7 944.6L110.6 944.5L111.5 944.3L112.4 944.3L113.3 944.3L114.2 944.2L115.1 944.3L116.0 944.3L116.9 944.1L117.8 944.3L118.7 944.5L119.6 944.6L120.5 944.8L121.4 944.8L122.3 944.6L123.2 944.6L124.1 945.0L125.0 945.4L125.9 945.5L126.8 945.3L127.7 944.9L128.6 945.2L129.5 945.6L130.4 945.6L131.3 945.5L132.2 945.3L133.1 945.6L134.0 945.6L134.9 945.2L135.8 945.1L136.7 945.2L137.6 945.3L138.5 945.6L139.4 945.5L140.3 945.4L141.2 945.7L142.1 946.0L143.0 946.0L143.9 945.8L144.8 945.6L145.7 945.7L146.6 945.8L147.5 945.6L148.4 945.8L149.3 946.1L150.2 946.0L151.1 945.5L152.0 945.6L152.9 945.8L153.8 945.5L154.7 945.6L155.6 945.8L156.5 945.9L157.4 945.9L158.3 945.6L159.2 945.4L160.1 945.5L161.0 945.5L161.9 945.6L162.8 945.8L163.7 945.7L164.6 945.6L165.5 945.5L166.4 945.7L167.3 945.7L168.2 945.3L169.1 945.3L170.0 945.7L170.9 945.8L171.8 945.5L172.7 945.4L173.6 945.4L174.5 945.6L175.4 945.9L176.3 946.0L177.2 945.9L178.1 945.6L179.0 945.2L179.9 945.3L180.8 946.1L181.7 946.6L182.6 946.5L183.5 946.4L184.4 946.4L185.3 946.1L186.2 946.3L187.1 946.2L188.0 945.9L188.9 946.4L189.8 946.9L190.7 946.6L191.6 946.5L192.5 946.8L193.4 947.0L194.3 947.2L195.2 947.3L196.1 947.1L197.0 947.0L197.9 947.3L198.8 947.6L199.7 947.8L200.6 947.9L201.5 947.8L202.4 947.8L203.3 947.9L204.2 947.6L205.1 947.6L206.0 947.5L206.9 947.2L207.8 947.1L208.7 947.2L209.6 947.7L210.5 947.7L211.4 947.4L212.3 947.6L213.2 947.9L214.1 947.8L215.0 947.8L215.9 947.7L216.8 947.6L217.7 947.9L218.6 948.2L219.5 948.3L220.4 948.3L221.3 948.1L222.2 948.3L223.1 948.8L224.0 948.7L224.9 948.5L225.8 948.7L226.7 949.0L227.6 949.7L228.5 950.4L229.4 950.5L230.3 950.3L231.2 950.5L232.1 951.4L233.0 951.8L233.9 951.7L234.8 952.2L235.7 952.7L236.6 953.2L237.5 954.2L238.4 954.8L239.3 954.9L240.2 955.2L241.1 955.6L242.0 956.1L242.9 956.9L243.8 957.5L244.7 957.8L245.6 958.2L246.5 958.8L247.4 959.6L248.3 960.3L249.2 960.9L250.1 961.5L251.0 962.1L251.9 962.5L252.8 963.2L253.7 964.0L254.6 964.5L255.5 965.1L256.4 965.6L257.3 966.2L258.2 966.9L259.1 967.1L260.0 967.2L260.9 967.7L261.8 968.6L262.7 969.3L263.6 969.6L264.5 970.1L265.4 970.8L266.3 971.5L267.2 971.8L268.1 972.4L269.0 973.3L269.9 974.0L270.8 974.6L271.7 975.3L272.6 975.6L273.5 975.7L274.4 976.4L275.3 977.2L276.2 977.6L277.1 978.3L278.0 979.1L278.9 979.6L279.8 980.2L280.7 980.6L281.6 981.1L282.5 981.8L283.4 982.2L284.3 982.3L285.2 983.0L286.1 984.0L287.0 984.1L287.9 984.0L288.8 984.6L289.7 985.3L290.6 985.8L291.5 986.3L292.4 986.9L293.3 987.4L294.2 987.6L295.1 987.8L296.0 988.4L296.9 989.0L297.8 989.1L298.7 989.4L299.6 989.8L300.5 990.2L301.4 990.7L302.3 991.2L303.2 991.5L304.1 991.6L305.0 991.9L305.9 992.4L306.8 992.8L307.7 993.1L308.6 993.4L309.5 993.7L310.4 993.9L311.3 994.2L312.2 994.3L313.1 994.6L314.0 995.1L314.9 995.5L315.8 995.7L316.7 995.9L317.6 996.1L318.5 996.3L319.4 996.5L320.3 996.7L321.2 996.8L322.1 996.9L323.0 997.0L323.9 997.1L324.8 997.1L325.7 997.1L326.6 997.2L327.5 997.2L328.4 997.2L329.3 997.2L330.2 997.2L331.1 997.1L332.0 997.1L332.9 997.0L333.8 996.8L334.7 996.6L335.6 996.4L336.5 996.2L337.4 996.0L338.3 995.8L339.2 995.6L340.1 995.4L341.0 995.1L341.9 994.8L342.8 994.6L343.7 994.3L344.6 994.0L345.5 993.7L346.4 993.5L347.3 993.2L348.2 992.9L349.0 992.5L349.9 992.0L350.8 991.5L351.7 991.0L352.6 990.5L353.5 990.1L354.4 989.8L355.3 989.4L356.2 989.0L357.1 988.5L358.0 988.1L358.9 987.7L359.8 987.4L360.7 987.1L361.6 986.7L362.5 986.3L363.4 985.9L364.3 985.4L365.2 984.9L366.1 984.6L367.0 984.2L367.9 983.8L368.8 983.4L369.7 983.0L370.6 982.5L371.5 982.1L372.4 981.7L373.3 981.3L374.2 980.9L375.1 980.5L376.0 980.1L376.9 979.6L377.8 979.2L378.7 978.7L379.6 978.4L380.5 978.1L381.4 977.7L382.3 977.3L383.2 976.8L384.1 976.4L385.0 976.0L385.9 975.7L386.8 975.3L387.7 974.8L388.6 974.4L389.5 974.2L390.4 974.0L391.3 973.8L392.2 973.4L393.1 973.0L394.0 972.8L394.9 972.5L395.8 972.3L396.7 972.1L397.6 971.9L398.5 971.7L399.4 971.4L400.3 971.3L401.2 971.1L402.1 970.9L403.0 970.8L403.9 970.5L404.8 970.2L405.7 970.0L406.6 969.8L407.5 969.5L408.4 969.3L409.3 969.1L410.2 968.9L411.1 968.8L412.0 968.5L412.9 968.2L413.8 968.0L414.7 967.7L415.6 967.4L416.5 967.1L417.4 966.9L418.3 966.7L419.2 966.5L420.1 966.3L421.0 966.0L421.9 965.8L422.8 965.6L423.7 965.3L424.6 964.9L425.5 964.7L426.4 964.5L427.3 964.3L428.2 964.0L429.1 963.8L430.0 963.5L430.9 963.3L431.8 963.2L432.7 962.9L433.6 962.6L434.5 962.4L435.4 962.3L436.3 962.1L437.2 961.9L438.1 961.5L439.0 961.2L439.9 961.0L440.8 960.8L441.7 960.5L442.6 960.3L443.5 960.1L444.4 959.9L445.3 959.7L446.2 959.4L447.1 959.1L448.0 958.9L448.9 958.7L449.8 958.6L450.7 958.5L451.6 958.3L452.5 958.1L453.4 957.9L454.3 957.8L455.2 957.6L456.1 957.4L457.0 957.1L457.9 956.9L458.8 956.7L459.7 956.6L460.6 956.4L461.5 956.2L462.4 956.1L463.3 956.0L464.2 956.0L465.1 955.8L466.0 955.7L466.9 955.5L467.8 955.4L468.7 955.3L469.6 955.1L470.5 955.0L471.4 954.9L472.3 954.7L473.2 954.6L474.1 954.6L475.0 954.5L475.9 954.3L476.8 954.1L477.7 954.0L478.6 954.0L479.5 953.8L480.4 953.7L481.3 953.7L482.2 953.7L483.1 953.5L484.0 953.3L484.9 953.2L485.8 953.1L486.7 953.0L487.6 953.0L488.5 952.9L489.4 952.8L490.3 952.8L491.2 952.7L492.1 952.7L493.0 952.6L493.9 952.5L494.8 952.3L495.7 952.3L496.6 952.3L497.5 952.2L498.4 952.1L499.3 952.1L500.2 952.0L501.1 951.9L502.0 951.8L502.9 951.7L503.8 951.7L504.7 951.6L505.6 951.6L506.5 951.5L507.4 951.4L508.3 951.3L509.2 951.2L510.1 951.2L511.0 951.2L511.9 951.3L512.8 951.2L513.7 951.0L514.6 951.0L515.5 950.9L516.4 950.8L517.3 950.8L518.2 950.8L519.1 950.7L520.0 950.6L520.9 950.6L521.8 950.6L522.7 950.5L523.6 950.4L524.5 950.4L525.4 950.3L526.3 950.3L527.2 950.4L528.1 950.5L529.0 950.5L529.9 950.5L530.8 950.5L531.7 950.5L532.6 950.5L533.5 950.7L534.4 950.8L535.3 950.7L536.2 950.7L537.1 950.8L538.0 950.7L538.9 950.6L539.8 950.5L540.7 950.5L541.6 950.6L542.5 950.6L543.4 950.6L544.3 950.6L545.2 950.6L546.1 950.7L547.0 950.9L547.9 951.0L548.8 951.1L549.7 951.2L550.6 951.3L551.5 951.5L552.4 951.8L553.3 952.1L554.2 952.3L555.1 952.4L556.0 952.3L556.9 952.1L557.8 951.8L558.7 951.5L559.6 951.3L560.5 951.1L561.4 951.0L562.3 950.9L563.2 950.8L564.1 950.6L565.0 950.5L565.9 950.5L566.8 950.4L567.7 950.2L568.6 950.1L569.5 950.2L570.4 950.2L571.3 950.1L572.2 950.0L573.1 949.9L574.0 949.9L574.9 949.9L575.8 949.9L576.7 949.9L577.6 949.9L578.5 949.8L579.4 949.7L580.3 949.7L581.2 949.6L582.1 949.6L583.0 949.6L583.9 949.6L584.8 949.7L585.7 949.6L586.6 949.6L587.5 949.6L588.4 949.6L589.3 949.4L590.2 949.1L591.1 948.9L592.0 948.7L592.9 948.7L593.8 948.6L594.7 948.3L595.6 948.1L596.5 948.1L597.4 948.2L598.3 948.0L599.2 948.0L600.1 948.0L601.0 948.0L601.9 948.0L602.8 947.9L603.7 947.8L604.6 947.8L605.5 947.8L606.4 947.7L607.3 947.7L608.2 947.8L609.1 947.7L610.0 947.6L610.9 947.6L611.8 947.5L612.7 947.4L613.6 947.4L614.5 947.4L615.4 947.4L616.3 947.4L617.2 947.2L618.1 947.2L619.0 947.3L619.9 947.2L620.8 947.2L621.7 947.2L622.6 947.2L623.5 947.1L624.4 947.1L625.3 947.1L626.2 947.1L627.1 947.0L628.0 947.0L628.9 947.0L629.8 947.0L630.7 947.0L631.6 947.0L632.5 946.9L633.4 947.0L634.3 947.0L635.2 946.9L636.1 946.7L637.0 946.6L637.9 946.6L638.8 946.6L639.7 946.7L640.6 946.7L641.5 946.6L642.4 946.6L643.3 946.5L644.2 946.4L645.1 946.4L646.0 946.6L646.9 946.6L647.8 946.7L648.7 946.6L649.6 946.4L650.5 946.3L651.4 946.3L652.3 946.4L653.2 946.4L654.1 946.4L655.0 946.4L655.9 946.5L656.8 946.4L657.7 946.4L658.6 946.4L659.5 946.3L660.4 946.4L661.3 946.4L662.2 946.3L663.1 946.2L664.0 946.3L664.9 946.3L665.8 946.3L666.7 946.2L667.6 946.2L668.5 946.3L669.4 946.3L670.3 946.2L671.2 946.2L672.1 946.2L673.0 946.1L673.9 946.1L674.8 946.1L675.7 946.1L676.6 946.1L677.5 946.1L678.4 946.1L679.3 946.0L680.2 946.0L681.1 946.0L682.0 946.1L682.9 946.2L683.8 946.1L684.7 946.0L685.6 946.0L686.5 946.0L687.4 945.9L688.3 945.9L689.2 945.9L690.1 946.0L691.0 945.9L691.9 945.8L692.8 945.7L693.7 945.8L694.6 945.8L695.5 945.8L696.4 945.7L697.3 945.8L698.2 945.7L699.1 945.8L700.0 945.8L700.9 945.8L701.8 945.8L702.7 945.7L703.6 945.7L704.5 945.6L705.4 945.6L706.3 945.6L707.2 945.6L708.1 945.6L709.0 945.5L709.9 945.4L710.8 945.5L711.7 945.4L712.6 945.4L713.5 945.5L714.4 945.5L715.3 945.4L716.2 945.3L717.1 945.3L718.0 945.3L718.9 945.3L719.8 945.3L720.7 945.3L721.6 945.2L722.5 945.2L723.4 945.2L724.3 945.1L725.2 945.1L726.1 945.0L727.0 945.0L727.9 945.1L728.8 945.2L729.7 945.1L730.6 945.1L731.5 945.1L732.4 945.1L733.3 945.1L734.2 945.0L735.1 944.9L736.0 944.8L736.9 944.8L737.8 944.9L738.7 945.0L739.6 945.0L740.5 944.9L741.4 944.9L742.3 944.9L743.2 944.8L744.1 944.8L745.0 944.7L745.9 944.8L746.8 944.9L747.7 944.9L748.6 944.7L749.5 944.6L750.4 944.6L751.3 944.6L752.2 944.6L753.1 944.6L754.0 944.6L754.9 944.5L755.8 944.6L756.7 944.5L757.6 944.5L758.5 944.5L759.4 944.5L760.3 944.5L761.2 944.4L762.1 944.5L763.0 944.5L763.9 944.4L764.8 944.4L765.7 944.4L766.6 944.3L767.5 944.3L768.4 944.3L769.3 944.3L770.2 944.3L771.1 944.3L772.0 944.3L772.9 944.3L773.8 944.3L774.7 944.2L775.6 944.2L776.5 944.2L777.4 944.1L778.3 944.1L779.2 944.0L780.1 944.0L781.0 944.2L781.9 944.2L782.8 944.2L783.7 944.2L784.6 944.1L785.5 944.0L786.4 944.0L787.3 944.0L788.2 943.9L789.1 943.9L790.0 943.9L790.9 943.9L791.8 943.8L792.7 943.8L793.6 943.7L794.5 943.8L795.4 944.0L796.3 943.9L797.2 943.7L798.1 943.7L799.0 943.8L799.9 943.8L800.8 943.9L801.7 943.9L802.6 943.7L803.5 943.7L804.4 943.7L805.3 943.8L806.2 943.8L807.1 943.7L808.0 943.5L808.9 943.5L809.8 943.6L810.7 943.5L811.6 943.5L812.5 943.5L813.4 943.6L814.3 943.6L815.2 943.6L816.1 943.6L817.0 943.5L817.9 943.5L818.8 943.5L819.7 943.6L820.6 943.5L821.5 943.3L822.4 943.3L823.3 943.4L824.2 943.4L825.1 943.4L826.0 943.4L826.9 943.3L827.8 943.3L828.7 943.4L829.6 943.4L830.5 943.3L831.4 943.4L832.3 943.4L833.2 943.3L834.1 943.3L835.0 943.3L835.9 943.3L836.8 943.2L837.7 943.2L838.6 943.3L839.5 943.3L840.4 943.2L841.3 943.2L842.2 943.2L843.1 943.2L844.0 943.1L844.9 943.1L845.8 943.2L846.7 943.2L847.6 943.3L848.5 943.3L849.4 943.3L850.3 943.2L851.2 943.2L852.1 943.2L853.0 943.2L853.9 943.2L854.7 943.3L855.6 943.3L856.5 943.3L857.4 943.3L858.3 943.3L859.2 943.2L860.1 943.2L861.0 943.3L861.9 943.2L862.8 943.1L863.7 943.1L864.6 943.1L865.5 943.1L866.4 943.1L867.3 943.1L868.2 943.0L869.1 943.0L870.0 943.1L870.9 943.2L871.8 943.2L872.7 943.2L873.6 943.3L874.5 943.2L875.4 943.2L876.3 943.3L877.2 943.3L878.1 943.3L879.0 943.3L879.9 943.3L880.8 943.4L881.7 943.6L882.6 943.7L883.5 943.6L884.4 943.6L885.3 943.7L886.2 943.7L887.1 943.7L888.0 943.8L888.9 943.9L889.8 943.9L890.7 943.9L891.6 944.0L892.5 944.0L893.4 943.9L894.3 944.0L895.2 944.1L896.1 944.2L897.0 944.2L897.9 944.2L898.8 944.2L899.7 944.2L900.6 944.3L901.5 944.3L902.4 944.3L903.3 944.4L904.2 944.5L905.1 944.5L906.0 944.6L906.9 944.6L907.8 944.6L908.7 944.7L909.6 944.7L910.5 944.8L911.4 944.8L912.3 944.8L913.2 944.8L914.1 944.8L915.0 944.9L915.9 944.9L916.8 944.9L917.7 944.9L918.6 945.0L919.5 945.0L920.4 945.1L921.3 945.1L922.2 945.2L923.1 945.3L924.0 945.2L924.9 945.2L925.8 945.3L926.7 945.4L927.6 945.4L928.5 945.3L929.4 945.4L930.3 945.4L931.2 945.4L932.1 945.4L933.0 945.5L933.9 945.5L934.8 945.6L935.7 945.6L936.6 945.5L937.5 945.5L938.4 945.5L939.3 945.7L940.2 945.7L941.1 945.7L942.0 945.6L942.9 945.7L943.8 945.8L944.7 945.8L945.6 945.8L946.5 945.7L947.4 945.7L948.3 945.8L949.2 945.8L950.1 945.8L951.0 945.9L951.9 945.9L952.8 945.8L953.7 945.9L954.6 946.0L955.5 946.0L956.4 946.0L957.3 946.1L958.2 946.0L959.1 946.0L960.0 946.1L960.9 946.1L961.8 946.2L962.7 946.2L963.6 946.2L964.5 946.2L965.4 946.2L966.3 946.3L967.2 946.4L968.1 946.3L969.0 946.3L969.9 946.4L970.8 946.5L971.7 946.5L972.6 946.5L973.5 946.5L974.4 946.5L975.3 946.5L976.2 946.5L977.1 946.5L978.0 946.5L978.9 946.6L979.8 946.7L980.7 946.7L981.6 946.6L982.5 946.6L983.4 946.6L984.3 946.5L985.2 946.5L986.1 946.5L987.0 946.5L987.9 946.5L988.8 946.5L989.7 946.5L990.6 946.5L991.5 946.4L992.4 946.5L993.3 946.5L994.2 946.4L995.1 946.3L996.0 946.3L996.9 946.4L997.8 946.4L998.7 946.4L999.6 946.4L1000.5 946.4L1001.4 946.4L1002.3 946.3L1003.2 946.3L1004.1 946.3L1005.0 946.4L1005.9 946.3L1006.8 946.2L1007.7 946.2L1008.6 946.4L1009.5 946.5L1010.4 946.5L1011.3 946.5L1012.2 946.6L1013.1 946.6L1014.0 946.6L1014.9 946.5L1015.8 946.6L1016.7 946.6L1017.6 946.6L1018.5 946.6L1019.4 946.7L1020.3 946.7L1021.2 946.7L1022.1 946.9L1023.0 946.8L1023.9 946.8L1024.8 946.7L1025.7 946.7L1026.6 946.9L1027.5 947.0L1028.4 947.0L1029.3 947.1L1030.2 947.2L1031.1 947.1L1032.0 947.2L1032.9 947.3L1033.8 947.4L1034.7 947.4L1035.6 947.5L1036.5 947.5L1037.4 947.6L1038.3 947.7L1039.2 947.8L1040.1 947.9L1041.0 948.0L1041.9 948.1L1042.8 948.2L1043.7 948.2L1044.6 948.3L1045.5 948.5L1046.4 948.4L1047.3 948.4L1048.2 948.6L1049.1 948.8L1050.0 948.7L1050.9 948.8L1051.8 948.9L1052.7 949.1L1053.6 949.2L1054.5 949.3L1055.4 949.4L1056.3 949.5L1057.2 949.7L1058.1 949.8L1059.0 949.8L1059.9 949.9L1060.8 950.0L1061.7 950.1L1062.6 950.3L1063.5 950.5L1064.4 950.6L1065.3 950.6L1066.2 950.8L1067.1 951.0L1068.0 951.3L1068.9 951.5L1069.8 951.6L1070.7 951.7L1071.6 951.9L1072.5 952.1L1073.4 952.4L1074.3 952.7L1075.2 952.9L1076.1 953.0L1077.0 953.2L1077.9 953.4L1078.8 953.6L1079.7 953.9L1080.6 954.1L1081.5 954.3L1082.4 954.6L1083.3 954.8L1084.2 955.0L1085.1 955.3L1086.0 955.6L1086.9 955.8L1087.8 956.1L1088.7 956.4L1089.6 956.7L1090.5 957.1L1091.4 957.4L1092.3 957.7L1093.2 958.1L1094.1 958.4L1095.0 958.8L1095.9 959.3L1096.8 959.9L1097.7 960.3L1098.6 960.6L1099.5 961.0L1100.4 961.6L1101.3 962.2L1102.2 962.7L1103.1 963.2L1104.0 963.7L1104.9 964.3L1105.8 964.9L1106.7 965.5L1107.6 966.2L1108.5 966.8L1109.4 967.5L1110.3 968.2L1111.2 968.8L1112.1 969.4L1113.0 970.0L1113.9 970.5L1114.8 971.1L1115.7 971.7L1116.6 972.3L1117.5 972.8L1118.4 973.2L1119.3 973.5L1120.2 973.8L1121.1 974.1L1122.0 974.5L1122.9 974.7L1123.8 974.4L1124.7 973.8L1125.6 973.1L1126.5 972.6L1127.4 972.3L1128.3 971.7L1129.2 970.9L1130.1 970.2L1131.0 969.5L1131.9 969.0L1132.8 968.6L1133.7 968.3L1134.6 967.9L1135.5 967.5L1136.4 967.4L1137.3 967.3L1138.2 967.0L1139.1 966.6L1140.0 966.4L1140.9 966.2L1141.8 966.0L1142.7 965.7L1143.6 965.5L1144.5 965.5L1145.4 965.6L1146.3 965.5L1147.2 965.3L1148.1 965.4L1149.0 965.4L1149.9 965.4L1150.8 965.5L1151.7 965.6L1152.6 965.7L1153.5 965.9L1154.4 966.3L1155.3 966.4L1156.2 966.7L1157.1 967.1L1158.0 967.4L1158.9 967.8L1159.8 968.2L1160.7 968.8L1161.6 969.2L1162.5 969.5L1163.4 969.8L1164.3 970.4L1165.2 971.0L1166.1 971.4L1167.0 971.6L1167.9 972.1L1168.8 972.6L1169.7 973.0L1170.6 973.4L1171.5 973.7L1172.4 974.0L1173.3 974.4L1174.2 974.9L1175.1 975.4L1176.0 975.8L1176.9 976.1L1177.8 976.7L1178.7 977.0L1179.6 977.2L1180.5 977.8L1181.4 978.1L1182.3 978.4L1183.2 978.8L1184.1 979.3L1185.0 979.7L1185.9 980.0L1186.8 980.3L1187.7 980.6L1188.6 980.7L1189.5 981.0L1190.4 981.3L1191.3 981.7L1192.2 982.1L1193.1 982.3L1194.0 982.4L1194.9 982.7L1195.8 983.0L1196.7 983.5L1197.6 983.7L1198.5 983.8L1199.4 984.1L1200.3 984.4L1201.2 984.6L1202.1 984.9L1203.0 985.3L1203.9 985.5L1204.8 985.8L1205.7 986.1L1206.6 986.5L1207.5 987.0L1208.4 987.3L1209.3 987.4L1210.2 987.6L1211.1 988.0L1212.0 988.3L1212.9 988.6L1213.8 989.1L1214.7 989.4L1215.6 989.5L1216.5 989.7L1217.4 989.6L1218.3 989.6L1219.2 989.6L1220.1 989.6L1221.0 989.5L1221.9 989.3L1222.8 989.2L1223.7 989.1L1224.6 989.0L1225.5 989.0L1226.4 988.8L1227.3 988.7L1228.2 988.8L1229.1 989.0L1230.0 988.9L1230.9 988.9L1231.8 989.0L1232.7 989.2L1233.6 989.2L1234.5 989.3L1235.4 989.6L1236.3 990.0L1237.2 990.2L1238.1 990.4L1239.0 990.5L1239.9 990.7L1240.8 990.8L1241.7 991.0L1242.6 991.3L1243.5 991.5L1244.4 991.7L1245.3 991.8L1246.2 992.0L1247.1 992.4L1248.0 992.8L1248.9 993.3L1249.8 993.8L1250.7 994.2L1251.6 994.6L1252.5 995.2L1253.4 995.7L1254.3 996.1L1255.2 996.5L1256.1 997.1L1257.0 997.7L1257.9 998.2L1258.8 998.7L1259.7 999.1L1260.6 999.6L1261.5 1000.3L1262.4 1000.8L1263.3 1001.4L1264.2 1001.9L1265.1 1002.5L1266.0 1003.2L1266.9 1003.8L1267.8 1004.4L1268.7 1005.0L1269.6 1005.7L1270.5 1006.4L1271.4 1007.0L1272.3 1007.7L1273.2 1008.5L1274.1 1009.2L1275.0 1009.9L1275.9 1010.6L1276.8 1011.4L1277.7 1012.2L1278.6 1013.0L1279.5 1013.8L1280.4 1014.6L1281.3 1015.5L1282.2 1016.3L1283.1 1017.1L1284.0 1018.0L1284.9 1018.9L1285.8 1019.9L1286.7 1020.9L1287.6 1021.9L1288.5 1022.9L1289.4 1024.0L1290.3 1024.9L1291.2 1026.0L1292.1 1027.1L1293.0 1028.1L1293.9 1029.2L1294.8 1030.4L1295.7 1031.5L1296.6 1032.8L1297.5 1034.2L1298.4 1035.7L1299.3 1037.5L1300.2 1039.6L1301.1 1041.8L1302.0 1044.3L1302.9 1046.8L1303.8 1049.2L1304.7 1051.8L1305.6 1054.6L1306.5 1057.4L1307.4 1060.2L1308.3 1062.8L1309.2 1065.2L1310.1 1067.5L1311.0 1069.6L1311.9 1071.6L1312.8 1073.7L1313.7 1075.5L1314.6 1077.3L1315.5 1079.0L1316.4 1080.7L1317.3 1082.5L1318.2 1084.4L1319.1 1086.4L1320.0 1088.6L1320.9 1090.9L1321.8 1093.2L1322.7 1095.5L1323.6 1097.8L1324.5 1100.1L1325.4 1102.2L1326.3 1104.3L1327.2 1106.3L1328.1 1108.3L1329.0 1110.2L1329.9 1112.1L1330.8 1114.0L1331.7 1116.0L1332.6 1118.0L1333.5 1120.1L1334.4 1122.1L1335.3 1124.2L1336.2 1126.3L1337.1 1128.4L1338.0 1130.6L1338.9 1132.8L1339.8 1135.0L1340.7 1137.2L1341.6 1139.4L1342.5 1141.6L1343.4 1143.9L1344.3 1146.2L1345.2 1148.5L1346.1 1150.8L1347.0 1153.1L1347.9 1155.5L1348.8 1157.9L1349.7 1160.3L1350.6 1162.8L1351.5 1165.4L1352.4 1168.1L1353.3 1170.8L1354.2 1173.5L1355.1 1176.2L1356.0 1179.0L1356.9 1181.9L1357.8 1184.7L1358.7 1187.5L1359.6 1190.4L1360.4 1193.2L1361.3 1196.0L1362.2 1198.7L1363.1 1201.4L1364.0 1204.0L1364.9 1206.5L1365.8 1208.9L1366.7 1211.2L1367.6 1213.1L1368.5 1215.1L1369.4 1217.2L1370.3 1219.7L1371.2 1222.7L1372.1 1226.1L1373.0 1229.6L1373.9 1233.1L1374.8 1236.7L1375.7 1240.6L1376.6 1244.2L1377.5 1247.5L1378.4 1250.5L1379.3 1253.5L1380.2 1256.1L1381.1 1258.5L1382.0 1260.6L1382.9 1262.6L1383.8 1264.4L1384.7 1265.9L1385.6 1267.3L1386.5 1268.5L1387.4 1269.7L1388.3 1270.8L1389.2 1271.9L1390.1 1272.9L1391.0 1273.9L1391.9 1274.7L1392.8 1275.3L1393.7 1275.9L1394.6 1276.3L1395.5 1276.6L1396.4 1276.9L1397.3 1277.3L1398.2 1277.6L1399.1 1277.9L1400.0 1278.2L1400.9 1278.5L1401.8 1278.8L1402.7 1279.0L1403.6 1279.2L1404.5 1279.4L1405.4 1279.6L1406.3 1279.7L1407.2 1279.6L1408.1 1279.2L1409.0 1278.5L1409.9 1277.7L1410.8 1276.7L1411.7 1275.0L1412.6 1273.0L1413.5 1270.9L1414.4 1268.6L1415.3 1265.9L1416.2 1263.0L1417.1 1260.2L1418.0 1257.6L1418.9 1254.9L1419.8 1252.4L1420.7 1250.1L1421.6 1248.3L1422.5 1246.7L1423.4 1245.2L1424.3 1244.1L1425.2 1243.8L1426.1 1243.8L1427.0 1243.9L1427.9 1243.9L1428.8 1244.1L1429.7 1244.9L1430.6 1245.8L1431.5 1246.6L1432.4 1247.5L1433.3 1248.4L1434.2 1249.1L1435.1 1249.4L1436.0 1249.4L1436.9 1249.3L1437.8 1249.0L1438.7 1248.5L1439.6 1247.4L1440.5 1246.2L1441.4 1245.1L1442.3 1244.2L1443.2 1243.4L1444.1 1242.6L1445.0 1241.5L1445.9 1239.8L1446.8 1237.5L1447.7 1234.7L1448.6 1232.0L1449.5 1229.4L1450.4 1226.6L1451.3 1223.7L1452.2 1221.1L1453.1 1219.0L1454.0 1217.0L1454.9 1215.2L1455.8 1213.5L1456.7 1212.1L1457.6 1210.9L1458.5 1209.9L1459.4 1208.8L1460.3 1207.2L1461.2 1205.2L1462.1 1202.8L1463.0 1200.2L1463.9 1197.4L1464.8 1194.6L1465.7 1192.4L1466.6 1190.3L1467.5 1189.0L1468.4 1188.4L1469.3 1188.1L1470.2 1188.4L1471.1 1189.5L1472.0 1191.1L1472.9 1193.6L1473.8 1197.2L1474.7 1200.5L1475.6 1203.6L1476.5 1206.3L1477.4 1208.1L1478.3 1209.4L1479.2 1210.2L1480.1 1210.6L1481.0 1210.3L1481.9 1209.6L1482.8 1208.6L1483.7 1206.8L1484.6 1204.3L1485.5 1201.4L1486.4 1198.0L1487.3 1194.1L1488.2 1189.9L1489.1 1185.2L1490.0 1180.1L1490.9 1174.5L1491.8 1168.5L1492.7 1160.9L1493.6 1152.2L1494.5 1143.1L1495.4 1134.3L1496.3 1125.8L1497.2 1119.0L1498.1 1113.6L1499.0 1109.3L1499.9 1105.8L1500.8 1103.7L1501.7 1102.2L1502.6 1101.6L1503.5 1101.4L1504.4 1101.9L1505.3 1102.7L1506.2 1104.0L1507.1 1105.6L1508.0 1107.7L1508.9 1110.4L1509.8 1113.7L1510.7 1117.6L1511.6 1122.3L1512.5 1127.6L1513.4 1133.6L1514.3 1140.3L1515.2 1147.1L1516.1 1153.9L1517.0 1160.7L1517.9 1166.7L1518.8 1172.9L1519.7 1179.3L1520.6 1185.4L1521.5 1190.9L1522.4 1195.6L1523.3 1198.9L1524.2 1200.6L1525.1 1201.5L1526.0 1202.3L1526.9 1203.1L1527.8 1203.7L1528.7 1204.2L1529.6 1204.8L1530.5 1205.4L1531.4 1206.1L1532.3 1206.8L1533.2 1207.1L1534.1 1206.0L1535.0 1204.1L1535.9 1202.8L1536.8 1201.5L1537.7 1200.4L1538.6 1199.3L1539.5 1198.3L1540.4 1197.4L1541.3 1196.6L1542.2 1195.7L1543.1 1194.5L1544.0 1193.0L1544.9 1191.4L1545.8 1189.8L1546.7 1188.4L1547.6 1187.2L1548.5 1185.9L1549.4 1184.7L1550.3 1183.7L1551.2 1182.6L1552.1 1181.6L1553.0 1180.7L1553.9 1180.1L1554.8 1179.7L1555.7 1179.4L1556.6 1179.4L1557.5 1179.8L1558.4 1180.3L1559.3 1180.7L1560.2 1180.9L1561.1 1181.2L1562.0 1181.7L1562.9 1182.6L1563.8 1183.7L1564.7 1184.8L1565.6 1185.9L1566.5 1186.4L1567.4 1185.6L1568.3 1184.1L1569.2 1183.1L1570.1 1182.4L1571.0 1181.7L1571.9 1181.2L1572.8 1180.6L1573.7 1180.0L1574.6 1179.4L1575.5 1178.8L1576.4 1178.2L1577.3 1177.8L1578.2 1177.4L1579.1 1177.1L1580.0 1176.9L1580.9 1176.6L1581.8 1176.2L1582.7 1175.8L1583.6 1175.5L1584.5 1175.1L1585.4 1174.4L1586.3 1173.4L1587.2 1172.2L1588.1 1170.7L1589.0 1168.9L1589.9 1166.9L1590.8 1165.2L1591.7 1163.4L1592.6 1161.6L1593.5 1159.7L1594.4 1157.7L1595.3 1156.1L1596.2 1154.8L1597.1 1153.7L1598.0 1152.9L1598.9 1152.3L1599.8 1152.0L1600.7 1153.0L1601.6 1154.8L1602.5 1157.2L1603.4 1161.3L1604.3 1165.9L1605.2 1169.3L1606.1 1172.1L1607.0 1174.6L1607.9 1176.6L1608.8 1178.3L1609.7 1180.0L1610.6 1182.2L1611.5 1184.3L1612.4 1185.2L1613.3 1185.5L1614.2 1185.6L1615.1 1185.5L1616.0 1185.1L1616.9 1185.8L1617.8 1190.2L1618.7 1196.0L1619.6 1204.1L1620.5 1212.8L1621.4 1221.8L1622.3 1231.0L1623.2 1240.4L1624.1 1248.7L1625.0 1255.7L1625.9 1261.0L1626.8 1265.0L1627.7 1267.6L1628.6 1269.1L1629.5 1270.3L1630.4 1270.7L1631.3 1269.5L1632.2 1267.5L1633.1 1265.5L1634.0 1263.1L1634.9 1260.7L1635.8 1259.3L1636.7 1258.2L1637.6 1257.7L1638.5 1257.8L1639.4 1258.1L1640.3 1258.4L1641.2 1259.0L1642.1 1259.7L1643.0 1260.5L1643.9 1261.5L1644.8 1262.6L1645.7 1263.6L1646.6 1263.9L1647.5 1263.6L1648.4 1262.8L1649.3 1261.9L1650.2 1260.9L1651.1 1259.6L1652.0 1257.5L1652.9 1253.8L1653.8 1250.5L1654.7 1249.3L1655.6 1248.7L1656.5 1247.6L1657.4 1244.6L1658.3 1239.9L1659.2 1234.0L1660.1 1227.7L1661.0 1221.4" fill="none" stroke="#FF8000" stroke-width="3.2" stroke-linejoin="round" stroke-linecap="butt"/>
<line x1="238.3" y1="74.1" x2="238.3" y2="1281.3" stroke="#7402F5" stroke-width="6.5" stroke-dasharray="37 15 9.6 14.8" stroke-dashoffset="0"/>
<line x1="321.25" y1="288.4" x2="321.25" y2="1281.0" stroke="#7402F5" stroke-width="6.5" stroke-dasharray="37 15 9.6 14.8" stroke-dashoffset="0"/>
<line x1="1123.4" y1="72.6" x2="1123.4" y2="1281.0" stroke="#7402F5" stroke-width="6.5" stroke-dasharray="37 15 9.6 14.8" stroke-dashoffset="0"/>
<line x1="1181.4" y1="59.0" x2="1181.4" y2="1281.0" stroke="#7402F5" stroke-width="6.5" stroke-dasharray="37 15 9.6 14.8" stroke-dashoffset="0"/>
<line x1="1401.5" y1="187.9" x2="1401.5" y2="1281.0" stroke="#7402F5" stroke-width="6.5" stroke-dasharray="37 15 9.6 14.8" stroke-dashoffset="0"/>
<rect x="681.1" y="37.900000000000006" width="172.5" height="46" fill="#fff"/>
<rect x="681.1" y="144.5" width="172.5" height="46" fill="#fff"/>
<rect x="681.1" y="248.75" width="172.5" height="46" fill="#fff"/>
<rect x="681.1" y="346.6" width="172.5" height="46" fill="#fff"/>
<rect x="681.1" y="459.25" width="172.5" height="46" fill="#fff"/>
<rect x="681.1" y="566.7" width="172.5" height="46" fill="#fff"/>
<rect x="681.1" y="667.9" width="172.5" height="46" fill="#fff"/>
<rect x="681.1" y="759.3" width="172.5" height="46" fill="#fff"/>
<rect x="681.1" y="838.4" width="172.5" height="46" fill="#fff"/>
<rect x="667.7" y="925.5" width="199.0999999999999" height="46" fill="#fff"/>
<text x="681.4" y="77.9" font-family="'Liberation Serif', serif" font-weight="bold" font-size="54" fill="#000">RM100</text>
<text x="681.4" y="184.5" font-family="'Liberation Serif', serif" font-weight="bold" font-size="54" fill="#000">RM200</text>
<text x="681.4" y="288.75" font-family="'Liberation Serif', serif" font-weight="bold" font-size="54" fill="#000">RM300</text>
<text x="681.4" y="386.6" font-family="'Liberation Serif', serif" font-weight="bold" font-size="54" fill="#000">RM400</text>
<text x="681.4" y="499.25" font-family="'Liberation Serif', serif" font-weight="bold" font-size="54" fill="#000">RM500</text>
<text x="681.4" y="606.7" font-family="'Liberation Serif', serif" font-weight="bold" font-size="54" fill="#000">RM600</text>
<text x="681.4" y="707.9" font-family="'Liberation Serif', serif" font-weight="bold" font-size="54" fill="#000">RM700</text>
<text x="681.5" y="799.3" font-family="'Liberation Serif', serif" font-weight="bold" font-size="54" fill="#000">RM800</text>
<text x="681.5" y="878.4" font-family="'Liberation Serif', serif" font-weight="bold" font-size="54" fill="#000">RM900</text>
<text x="668.2" y="965.5" font-family="'Liberation Serif', serif" font-weight="bold" font-size="54" fill="#000">RM1000</text>
<text x="85.10" y="1341.4" text-anchor="middle" letter-spacing="-1.2" font-family="'Liberation Serif', serif" font-weight="bold" font-size="61.5" fill="#7F00FF">4000</text>
<text x="304.08" y="1341.4" text-anchor="middle" letter-spacing="-1.2" font-family="'Liberation Serif', serif" font-weight="bold" font-size="61.5" fill="#7F00FF">3500</text>
<text x="523.07" y="1341.4" text-anchor="middle" letter-spacing="-1.2" font-family="'Liberation Serif', serif" font-weight="bold" font-size="61.5" fill="#7F00FF">3000</text>
<text x="742.06" y="1341.4" text-anchor="middle" letter-spacing="-1.2" font-family="'Liberation Serif', serif" font-weight="bold" font-size="61.5" fill="#7F00FF">2500</text>
<text x="961.04" y="1341.4" text-anchor="middle" letter-spacing="-1.2" font-family="'Liberation Serif', serif" font-weight="bold" font-size="61.5" fill="#7F00FF">2000</text>
<text x="1180.03" y="1341.4" text-anchor="middle" letter-spacing="-1.2" font-family="'Liberation Serif', serif" font-weight="bold" font-size="61.5" fill="#7F00FF">1500</text>
<text x="1399.01" y="1341.4" text-anchor="middle" letter-spacing="-1.2" font-family="'Liberation Serif', serif" font-weight="bold" font-size="61.5" fill="#7F00FF">1000</text>
<text x="1618.00" y="1341.4" text-anchor="middle" letter-spacing="-1.2" font-family="'Liberation Serif', serif" font-weight="bold" font-size="61.5" fill="#7F00FF">500</text>
<text x="557.7" y="1413.8" font-family="'Liberation Serif', serif" font-weight="bold" font-size="72" fill="#7F00FF">Wavenumber/(cm<tspan font-size="50" dy="-30">−1</tspan><tspan dy="30">)</tspan></text>
<text transform="translate(62.7,896.6) rotate(-90)" font-family="'Liberation Serif', serif" font-weight="bold" font-size="71.7" fill="#7F00FF">Transmittance/%</text>
</svg>
</body>
</html>
